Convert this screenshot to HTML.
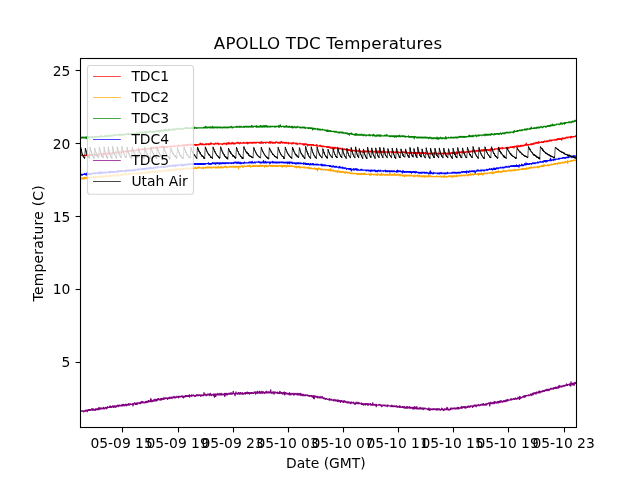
<!DOCTYPE html>
<html lang="en"><head><meta charset="utf-8"><title>APOLLO TDC Temperatures</title>
<style>html,body{margin:0;padding:0;background:#fff;overflow:hidden}svg{display:block;will-change:transform}</style></head>
<body>
<svg width="640" height="480" viewBox="0 0 640 480">
<rect width="640" height="480" fill="#fff"/>
<defs><clipPath id="ax"><rect x="80.5" y="58.5" width="496" height="369"/></clipPath></defs>
<g clip-path="url(#ax)" fill="none" stroke-width="0.7" stroke-linejoin="round">
<path d="M80.5 155.49l.25 0l.25 0l.25-.73l.25 .73l.25 0l.25 0l.25 0l.25 0l.25 0l.25 0l.25 .73l.25-.73l.25 0l.25 0l.25 0l.25 0l.25 0l.25 0l.25 0l.25 0l.25 0l.25 0l.25 0l.25-.73l.25 .73l.25-.73l.25 .73l.25 0l.25 0l.25 0l.25-.73l.25 .73l.25-.73l.25 .73l.25-.73l.25 0l.25 0l.25 0l.25 .73l.25-.73l.25 0l.25 0l.25 .73l.25-.73l.25 0l.25 0l.25 0l.25 0l.25 0l.25 0l.25 0l.25 0l.25 0l.25 0l.25-.73l.25 .73l.25 0l.25 .73l.25-1.46l.25 1.46l.25-.73l.25 .73l.25 0l.25-1.46l.25 .73l.25 0l.25 0l.25 0l.25 0l.25-.73l.25 .73l.25 0l.25 0l.25-.73l.25 0l.25 .73l.25-.73l.25 0l.25 .73l.25-.73l.25 0l.25 0l.25 0l.25 0l.25 0l.25 0l.25 0l.25 0l.25 0l.25 0l.25-.73l.25 .73l.25 0l.25 0l.25-.73l.25 .73l.25 0l.25 0l.25 0l.25 0l.25-.73l.25 0l.25 0l.25 0l.25 .73l.25 0l.25-.73l.25 0l.25 .73l.25-.73l.25 0l.25 0l.25-.73l.25 .73l.25 0l.25 0l.25 .73l.25 0l.25-.73l.25 0l.25 .73l.25-.73l.25 .73l.25-.73l.25 0l.25 0l.25 0l.25-.73l.25 .73l.25 0l.25-.73l.25 .73l.25-.73l.25 0l.25 0l.25 0l.25 .73l.25-.73l.25 .73l.25-.73l.25-.73l.25 .73l.25 0l.25 0l.25 0l.25 0l.25 0l.25 0l.25 0l.25-.73l.25 0l.25 0l.25 .73l.25-.73l.25 .73l.25-.73l.25 0l.25 2.19l.25-2.19l.25 0l.25 0l.25 0l.25 0l.25 0l.25 .73l.25-.73l.25 0l.25 0l.25 0l.25 0l.25 0l.25 0l.25 0l.25-.73l.25 .73l.25 0l.25-.73l.25 0l.25 0l.25 .73l.25 0l.25-.73l.25 .73l.25-.73l.25 0l.25 0l.25 .73l.25 0l.25-.73l.25 0l.25 0l.25 0l.25 0l.25 0l.25 0l.25-.73l.25 .73l.25 0l.25-.73l.25 .73l.25-.73l.25 .73l.25-.73l.25 .73l.25 0l.25-.73l.25 0l.25 .73l.25 0l.25-.73l.25 0l.25 0l.25 0l.25 0l.25 0l.25 0l.25 0l.25 0l.25 .73l.25-.73l.25 0l.25 0l.25-.73l.25 .73l.25 0l.25 0l.25 0l.25 0l.25-.73l.25 .73l.25 0l.25-.73l.25 0l.25 0l.25 0l.25 0l.25 0l.25 0l.25 0l.25 0l.25 0l.25 0l.25 0l.25 0l.25-.73l.25 .73l.25-.73l.25 .73l.25 0l.25-.73l.25 0l.25 .73l.25 0l.25-.73l.25 0l.25 0l.25 0l.25 0l.25 0l.25 .73l.25 0l.25-.73l.25 0l.25 0l.25 0l.25 0l.25 0l.25 0l.25 0l.25 0l.25 0l.25 0l.25 0l.25 0l.25 0l.25-.73l.25 0l.25 .73l.25 0l.25-.73l.25 0l.25 .73l.25-.73l.25 0l.25 0l.25 0l.25-.73l.25 .73l.25 0l.25 0l.25-.73l.25 .73l.25 0l.25-.73l.25 .73l.25 0l.25 0l.25 0l.25-.73l.25 .73l.25-.73l.25 0l.25 0l.25 .73l.25-.73l.25 .73l.25 2.19l.25-2.92l.25 0l.25 0l.25 0l.25 0l.25 0l.25 0l.25 0l.25 0l.25-.73l.25 .73l.25 0l.25 0l.25-.73l.25 .73l.25-.73l.25 .73l.25-.73l.25 .73l.25 0l.25-1.46l.25 .73l.25-.73l.25 1.46l.25 0l.25-.73l.25 .73l.25 0l.25 0l.25-.73l.25 0l.25 0l.25 .73l.25-.73l.25 0l.25 0l.25 0l.25 .73l.25-.73l.25 0l.25 0l.25 .73l.25-.73l.25 0l.25 0l.25 0l.25 0l.25 0l.25 0l.25 0l.25 0l.25 0l.25 0l.25-.73l.25 0l.25 0l.25 .73l.25-.73l.25 0l.25 .73l.25-.73l.25 .73l.25-.73l.25 0l.25 0l.25 0l.25 0l.25 0l.25 0l.25-.73l.25 .73l.25 0l.25 0l.25 0l.25 0l.25 0l.25 0l.25 0l.25 0l.25 0l.25 0l.25 0l.25-.73l.25 .73l.25 0l.25-.73l.25 .73l.25 0l.25 0l.25-.73l.25 0l.25 0l.25 0l.25 0l.25 0l.25 .73l.25-.73l.25 0l.25 .73l.25 0l.25-.73l.25 0l.25 0l.25 0l.25-.73l.25 .73l.25 0l.25 0l.25 0l.25 0l.25-.73l.25 .73l.25 0l.25 0l.25-.73l.25 1.46l.25-1.46l.25 .73l.25 0l.25 0l.25-.73l.25 .73l.25-.73l.25 .73l.25 0l.25 0l.25-.73l.25 0l.25 0l.25 0l.25-.73l.25 1.46l.25 0l.25-.73l.25 0l.25 0l.25 0l.25 0l.25 .73l.25-.73l.25 0l.25 0l.25 0l.25 .73l.25-.73l.25 .73l.25-.73l.25 0l.25 0l.25 0l.25 0l.25 .73l.25-.73l.25 .73l.25-.73l.25 0l.25 .73l.25-.73l.25 0l.25 0l.25 0l.25 0l.25 .73l.25-.73l.25 0l.25 0l.25 0l.25 0l.25-.73l.25 .73l.25 0l.25-.73l.25 0l.25-.73l.25 .73l.25 .73l.25 0l.25 0l.25 0l.25-.73l.25 .73l.25 0l.25-.73l.25 .73l.25 0l.25 0l.25 0l.25 0l.25 0l.25 0l.25 0l.25-.73l.25 0l.25 .73l.25 0l.25-.73l.25 .73l.25-.73l.25 0l.25 0l.25 0l.25 0l.25 .73l.25-.73l.25 .73l.25-.73l.25 0l.25 0l.25 .73l.25-.73l.25 .73l.25-.73l.25-.73l.25 .73l.25-.73l.25 .73l.25-.73l.25 .73l.25 0l.25 0l.25 0l.25 0l.25 0l.25 0l.25 0l.25 0l.25 .73l.25 0l.25-.73l.25 0l.25 0l.25-.73l.25 0l.25 .73l.25 0l.25 0l.25 0l.25 0l.25-.73l.25 .73l.25 0l.25-.73l.25 0l.25 0l.25 .73l.25 .73l.25-.73l.25 0l.25 0l.25 0l.25 0l.25 0l.25 0l.25 0l.25 0l.25 0l.25 0l.25 0l.25 0l.25 .73l.25 0l.25-.73l.25 0l.25 0l.25 0l.25-.73l.25 0l.25 0l.25 .73l.25 0l.25 0l.25 0l.25 0l.25 0l.25-.73l.25 0l.25 1.46l.25-.73l.25-.73l.25 .73l.25-.73l.25 .73l.25-.73l.25 .73l.25 0l.25-1.46l.25 .73l.25 .73l.25-.73l.25 0l.25 0l.25 .73l.25 0l.25 0l.25-.73l.25 0l.25 0l.25 .73l.25-.73l.25-.73l.25 .73l.25 0l.25 .73l.25 0l.25-.73l.25 .73l.25-.73l.25 0l.25 .73l.25-.73l.25 0l.25 .73l.25-.73l.25 0l.25 0l.25 0l.25 0l.25 0l.25-.73l.25 .73l.25-.73l.25 .73l.25 0l.25 0l.25-.73l.25 .73l.25 0l.25 0l.25 0l.25 .73l.25-.73l.25-.73l.25 .73l.25 0l.25 0l.25 0l.25 0l.25 0l.25 0l.25 0l.25 0l.25 0l.25 0l.25-.73l.25 .73l.25 0l.25-.73l.25 .73l.25 0l.25 0l.25 0l.25 0l.25 0l.25 0l.25 0l.25-.73l.25 .73l.25 0l.25-.73l.25 0l.25 .73l.25 .73l.25-1.46l.25 0l.25 .73l.25 0l.25 0l.25 0l.25 0l.25-.73l.25 0l.25 0l.25 0l.25 .73l.25 0l.25 0l.25-.73l.25 0l.25 .73l.25 0l.25-.73l.25 .73l.25 0l.25-.73l.25 0l.25 0l.25 .73l.25-.73l.25 0l.25 0l.25 0l.25 .73l.25-.73l.25 0l.25 0l.25 .73l.25-.73l.25 0l.25 0l.25 0l.25 0l.25 0l.25 0l.25 0l.25 0l.25 0l.25 .73l.25-.73l.25 .73l.25 0l.25-.73l.25 .73l.25-.73l.25 .73l.25-.73l.25 0l.25-.73l.25 1.46l.25-.73l.25 0l.25 0l.25 .73l.25-.73l.25 0l.25 .73l.25-.73l.25 0l.25 0l.25 0l.25 0l.25 0l.25 0l.25 .73l.25-.73l.25 .73l.25-.73l.25 0l.25 0l.25 0l.25 0l.25 0l.25 0l.25 0l.25 0l.25 0l.25 .73l.25-.73l.25 0l.25 0l.25-.73l.25 1.46l.25-.73l.25 .73l.25-.73l.25-.73l.25 .73l.25 0l.25 0l.25 .73l.25-.73l.25 .73l.25-.73l.25 .73l.25-.73l.25 .73l.25-.73l.25 0l.25 0l.25 .73l.25 0l.25-.73l.25 .73l.25 0l.25-.73l.25-.73l.25 .73l.25 0l.25 0l.25 0l.25 0l.25 0l.25 .73l.25-.73l.25 0l.25 0l.25 .73l.25 0l.25-.73l.25 .73l.25-.73l.25 .73l.25 0l.25-.73l.25 .73l.25-1.46l.25 .73l.25 0l.25-.73l.25 .73l.25 0l.25 .73l.25 0l.25-.73l.25 0l.25 0l.25 0l.25 0l.25 .73l.25 0l.25-.73l.25 .73l.25 0l.25-.73l.25 .73l.25 0l.25-.73l.25 .73l.25 0l.25 0l.25 0l.25 0l.25 0l.25-.73l.25 0l.25 1.46l.25-.73l.25 0l.25 0l.25 0l.25 0l.25 0l.25 0l.25 0l.25 0l.25 0l.25 .73l.25-.73l.25 .73l.25-.73l.25 0l.25 0l.25 0l.25 .73l.25-1.46l.25 .73l.25 0l.25 0l.25 0l.25 0l.25 0l.25 0l.25 0l.25 .73l.25-.73l.25 .73l.25-.73l.25 .73l.25-.73l.25 0l.25 1.46l.25-.73l.25 0l.25 0l.25 0l.25 0l.25 0l.25 0l.25 0l.25 0l.25-.73l.25 0l.25 .73l.25 0l.25 0l.25 0l.25 0l.25 0l.25 0l.25 0l.25 0l.25 0l.25 .73l.25-.73l.25 0l.25 0l.25 0l.25 1.46l.25-.73l.25-.73l.25 .73l.25-.73l.25 0l.25 .73l.25 0l.25 0l.25-.73l.25 0l.25 .73l.25 0l.25 0l.25 1.46l.25-1.46l.25 .73l.25-.73l.25 0l.25 0l.25 .73l.25-.73l.25 .73l.25-.73l.25 0l.25 0l.25 0l.25 0l.25 .73l.25-.73l.25 0l.25 .73l.25-.73l.25 0l.25 0l.25 .73l.25 0l.25 0l.25-.73l.25 .73l.25 0l.25 0l.25 0l.25 0l.25 0l.25 0l.25 0l.25 0l.25 0l.25 .73l.25-.73l.25-.73l.25 .73l.25 0l.25 .73l.25 0l.25 0l.25 0l.25 0l.25 0l.25 0l.25 0l.25 0l.25-.73l.25 0l.25 .73l.25-.73l.25 .73l.25 0l.25 .73l.25-.73l.25 0l.25 0l.25 .73l.25-.73l.25 0l.25 0l.25 .73l.25-.73l.25 0l.25 .73l.25 0l.25 0l.25 0l.25 0l.25 0l.25 0l.25 0l.25 0l.25 0l.25 0l.25 0l.25 .73l.25-.73l.25 .73l.25-.73l.25 0l.25 .73l.25 0l.25-.73l.25 .73l.25 0l.25 0l.25-.73l.25 .73l.25 .73l.25-.73l.25 0l.25 0l.25 .73l.25-.73l.25 0l.25 0l.25 0l.25 .73l.25-.73l.25 0l.25 .73l.25 0l.25-.73l.25 .73l.25 0l.25 .73l.25-1.46l.25 0l.25 .73l.25-.73l.25 .73l.25 0l.25 0l.25 0l.25 0l.25 0l.25-.73l.25 1.46l.25-.73l.25 0l.25 0l.25 0l.25 .73l.25-.73l.25 .73l.25 0l.25 0l.25-.73l.25 0l.25 .73l.25 0l.25 0l.25 0l.25 0l.25 0l.25 .73l.25-1.46l.25 .73l.25 0l.25 .73l.25 0l.25 0l.25-.73l.25 0l.25 0l.25 .73l.25-.73l.25 0l.25 .73l.25 0l.25 0l.25 0l.25 0l.25 0l.25 .73l.25-.73l.25 0l.25 0l.25 0l.25 0l.25 0l.25 .73l.25-.73l.25 .73l.25 0l.25-.73l.25 .73l.25 0l.25 0l.25 .73l.25-.73l.25-.73l.25 1.46l.25 0l.25-.73l.25 0l.25 .73l.25-.73l.25 .73l.25 0l.25-.73l.25 0l.25 0l.25 0l.25 0l.25 0l.25 .73l.25 0l.25-.73l.25 .73l.25 0l.25 0l.25 0l.25 0l.25-.73l.25 .73l.25 0l.25 0l.25 0l.25 0l.25-.73l.25 .73l.25-.73l.25 .73l.25 0l.25 0l.25-.73l.25 .73l.25 .73l.25 0l.25-.73l.25 .73l.25 0l.25 0l.25 0l.25-.73l.25 0l.25 0l.25 0l.25 1.46l.25-1.46l.25 .73l.25 0l.25-.73l.25 0l.25 .73l.25-.73l.25 .73l.25-.73l.25 .73l.25-.73l.25 .73l.25-.73l.25 0l.25 0l.25 .73l.25-.73l.25 0l.25 0l.25 0l.25 0l.25 0l.25 0l.25 0l.25 0l.25 .73l.25 0l.25 0l.25-.73l.25 0l.25 .73l.25-.73l.25 0l.25 .73l.25 0l.25 0l.25-.73l.25 0l.25 .73l.25 0l.25 0l.25 0l.25 0l.25-.73l.25 .73l.25 0l.25 0l.25 0l.25 0l.25 0l.25-.73l.25 0l.25 .73l.25 0l.25 0l.25-.73l.25 0l.25 1.46l.25-1.46l.25 .73l.25 0l.25-.73l.25 1.46l.25-.73l.25 0l.25 0l.25 0l.25 0l.25 0l.25-.73l.25 .73l.25 0l.25 0l.25 .73l.25-1.46l.25 .73l.25 0l.25 0l.25 0l.25 .73l.25-1.46l.25 .73l.25 0l.25 0l.25-.73l.25 .73l.25 .73l.25-.73l.25 0l.25 0l.25 0l.25 0l.25 0l.25 0l.25 0l.25 .73l.25-.73l.25 0l.25 .73l.25-.73l.25 0l.25 0l.25 0l.25 .73l.25-.73l.25 0l.25 0l.25 0l.25 0l.25 0l.25 0l.25 0l.25 0l.25 0l.25 0l.25 .73l.25-.73l.25 0l.25 0l.25 .73l.25-.73l.25 0l.25 0l.25 .73l.25 0l.25 0l.25 0l.25-.73l.25 0l.25 .73l.25 0l.25-.73l.25 0l.25 0l.25 0l.25 .73l.25-.73l.25 0l.25 .73l.25 0l.25 0l.25-.73l.25 0l.25 .73l.25 0l.25 0l.25 0l.25 0l.25 0l.25 0l.25 0l.25-.73l.25 0l.25 0l.25 .73l.25 0l.25 0l.25-.73l.25 .73l.25-.73l.25 .73l.25-.73l.25 .73l.25 0l.25-.73l.25 .73l.25 0l.25 0l.25 0l.25 0l.25-.73l.25 .73l.25-.73l.25 0l.25 .73l.25 0l.25 0l.25 0l.25 0l.25 0l.25 0l.25 0l.25 .73l.25 0l.25 .73l.25-1.46l.25 0l.25 .73l.25-.73l.25 0l.25 0l.25 .73l.25-.73l.25 .73l.25-.73l.25 0l.25 0l.25 0l.25 0l.25 .73l.25-.73l.25 0l.25 0l.25 .73l.25-.73l.25 .73l.25-.73l.25 .73l.25-.73l.25 0l.25 0l.25 0l.25 0l.25 1.46l.25-.73l.25-.73l.25 .73l.25 0l.25-.73l.25 .73l.25-.73l.25 0l.25 0l.25 .73l.25-.73l.25 0l.25 .73l.25 0l.25 0l.25 0l.25-.73l.25 0l.25 1.46l.25-.73l.25 0l.25 0l.25-.73l.25 0l.25 .73l.25-.73l.25 .73l.25-.73l.25 .73l.25 0l.25 0l.25 0l.25 0l.25-.73l.25 0l.25 0l.25 0l.25 1.46l.25-.73l.25 0l.25 0l.25 0l.25 0l.25 0l.25 0l.25 0l.25 0l.25 .73l.25-.73l.25 0l.25 0l.25 0l.25 0l.25 .73l.25-.73l.25 0l.25 0l.25 0l.25 0l.25 0l.25 .73l.25-.73l.25 0l.25 0l.25 .73l.25 .73l.25-.73l.25-.73l.25 0l.25-.73l.25 .73l.25 .73l.25-1.46l.25 1.46l.25-.73l.25 .73l.25-.73l.25 0l.25 0l.25 0l.25 0l.25 0l.25 0l.25 0l.25 0l.25 0l.25 .73l.25-.73l.25 .73l.25-.73l.25 0l.25 0l.25 0l.25 0l.25 0l.25 0l.25 0l.25 0l.25 0l.25 .73l.25-.73l.25 0l.25 0l.25 0l.25 0l.25 0l.25 .73l.25-.73l.25 0l.25 0l.25 0l.25 0l.25 0l.25 .73l.25-1.46l.25 1.46l.25 0l.25-.73l.25 0l.25 .73l.25-.73l.25 0l.25 0l.25 0l.25 0l.25 .73l.25-.73l.25 .73l.25-.73l.25 0l.25 .73l.25-.73l.25 0l.25 0l.25 0l.25 0l.25 0l.25-.73l.25 .73l.25 0l.25 0l.25 0l.25-.73l.25 .73l.25 0l.25-.73l.25 .73l.25-.73l.25 .73l.25 0l.25-.73l.25 .73l.25 0l.25-.73l.25 0l.25 0l.25 0l.25 1.46l.25-2.19l.25 0l.25 1.46l.25-.73l.25 0l.25 .73l.25-.73l.25 0l.25 0l.25 0l.25 0l.25 0l.25 0l.25 0l.25-.73l.25 .73l.25-.73l.25 0l.25 .73l.25 0l.25-.73l.25 0l.25 0l.25 0l.25 .73l.25 0l.25 0l.25-.73l.25 .73l.25-.73l.25 .73l.25 .73l.25-1.46l.25 .73l.25-.73l.25 0l.25 0l.25 .73l.25-.73l.25 0l.25 0l.25 0l.25 0l.25 0l.25 0l.25 0l.25 0l.25 0l.25 0l.25 0l.25 0l.25 0l.25 0l.25 0l.25-.73l.25 .73l.25 0l.25-.73l.25 .73l.25-.73l.25 0l.25 0l.25 0l.25 .73l.25-.73l.25 .73l.25-1.46l.25 1.46l.25-1.46l.25 .73l.25 0l.25 0l.25 0l.25 0l.25-.73l.25 1.46l.25-.73l.25 .73l.25 0l.25-.73l.25 0l.25-.73l.25 .73l.25-.73l.25 0l.25 .73l.25-.73l.25 0l.25 .73l.25-.73l.25 0l.25 0l.25 0l.25 0l.25 .73l.25-.73l.25 0l.25 0l.25 0l.25 0l.25 0l.25 .73l.25-1.46l.25 1.46l.25-.73l.25 0l.25 0l.25-.73l.25 1.46l.25-.73l.25-.73l.25 .73l.25-.73l.25 .73l.25 0l.25 .73l.25-.73l.25-.73l.25 0l.25 0l.25 .73l.25 0l.25-.73l.25 0l.25 .73l.25-.73l.25 0l.25 0l.25 .73l.25-.73l.25 0l.25 .73l.25-.73l.25 .73l.25-.73l.25 0l.25 1.46l.25-2.19l.25 .73l.25 0l.25 0l.25 0l.25 0l.25-.73l.25 0l.25 .73l.25 0l.25 0l.25 0l.25 0l.25 0l.25 0l.25 0l.25-.73l.25 .73l.25-.73l.25 0l.25 0l.25 0l.25 0l.25 0l.25 0l.25 0l.25 0l.25 0l.25 0l.25 0l.25 .73l.25-.73l.25-1.46l.25 1.46l.25 0l.25-.73l.25 .73l.25 0l.25-.73l.25 0l.25 0l.25 0l.25 .73l.25-.73l.25 0l.25 0l.25 0l.25-.73l.25 .73l.25 .73l.25-.73l.25 0l.25 0l.25 0l.25 0l.25 0l.25 0l.25 0l.25 0l.25 0l.25 0l.25 0l.25 0l.25-.73l.25 .73l.25 0l.25-.73l.25 0l.25 0l.25 .73l.25 0l.25-.73l.25 0l.25 0l.25 .73l.25-.73l.25 0l.25 0l.25 0l.25 0l.25-.73l.25 .73l.25 0l.25 0l.25 0l.25 0l.25-.73l.25 0l.25 .73l.25 0l.25-.73l.25 0l.25 .73l.25-.73l.25 1.46l.25-1.46l.25 0l.25 0l.25-.73l.25 .73l.25 0l.25 0l.25 0l.25 0l.25-.73l.25 .73l.25 0l.25-.73l.25 0l.25 .73l.25-1.46l.25 .73l.25 .73l.25 0l.25 0l.25-.73l.25 .73l.25-.73l.25 0l.25 .73l.25-1.46l.25 .73l.25 0l.25 0l.25-.73l.25 .73l.25 0l.25 0l.25-.73l.25 0l.25 0l.25 .73l.25-.73l.25 0l.25 0l.25 0l.25 0l.25 0l.25-.73l.25 0l.25 0l.25 .73l.25 0l.25-2.19l.25 1.46l.25 0l.25 0l.25 .73l.25-.73l.25 0l.25 0l.25 .73l.25-.73l.25 0l.25 0l.25 0l.25 0l.25 0l.25 0l.25 0l.25 0l.25-.73l.25 0l.25 .73l.25-.73l.25 .73l.25-.73l.25 0l.25 0l.25 0l.25 .73l.25-1.46l.25 .73l.25 0l.25 0l.25-.73l.25 .73l.25 0l.25-.73l.25 0l.25 0l.25-.73l.25 .73l.25 0l.25-.73l.25 .73l.25 0l.25 0l.25-.73l.25 .73l.25 0l.25 0l.25-.73l.25-.73l.25 1.46l.25-.73l.25 0l.25 0l.25 0l.25 0l.25 0l.25 0l.25 0l.25 0l.25-.73l.25 0l.25 .73l.25 0l.25 0l.25 0l.25-.73l.25 .73l.25-.73l.25 .73l.25-.73l.25 0l.25 0l.25-.73l.25 .73l.25 0l.25 0l.25 0l.25 0l.25 0l.25-.73l.25 .73l.25-.73l.25 0l.25 .73l.25-.73l.25 .73l.25-.73l.25 0l.25 0l.25 0l.25-.73l.25 .73l.25 0l.25-.73l.25 .73l.25 0l.25-.73l.25 .73l.25-.73l.25 .73l.25 0l.25-.73l.25 0l.25 0l.25 0l.25 0l.25 0l.25 0l.25 0l.25 0l.25 0l.25 0l.25-.73l.25 0l.25 0l.25 .73l.25 0l.25 0l.25 0l.25-.73l.25 0l.25 .73l.25-.73l.25-.73l.25 .73l.25 0l.25-.73l.25 .73l.25-.73l.25 0l.25 .73l.25-.73l.25 0l.25 .73l.25 0l.25-.73l.25 0l.25 0l.25 0l.25 0l.25 1.46l.25-1.46l.25-.73l.25 .73l.25 0l.25-.73l.25 .73l.25 0l.25 0l.25-.73l.25 0l.25 .73l.25 0l.25 0l.25-.73l.25 0l.25 0l.25 0l.25-.73l.25 .73l.25 0l.25-.73l.25 .73l.25-.73l.25 .73l.25 0l.25-.73l.25 0l.25 0l.25 0l.25 0l.25 0l.25 0l.25 0l.25-.73l.25 1.46l.25 0l.25-1.46l.25 0l.25 .73l.25 0l.25-.73l.25 .73l.25 0l.25 0l.25 0l.25-.73l.25 0l.25 0l.25 0l.25 0l.25 0l.25 0l.25 0l.25 0l.25-.73l.25 .73l.25-.73l.25 0l.25 0" stroke="#ff0000" stroke-width="1.25"/>
<path d="M80.5 178.12l.25 .73l.25-.73l.25 .73l.25-.73l.25 0l.25 0l.25 .73l.25 0l.25-.73l.25 0l.25 0l.25 .73l.25 0l.25-1.46l.25 .73l.25 0l.25-.73l.25 1.46l.25-.73l.25-.73l.25 .73l.25 0l.25-.73l.25 .73l.25 0l.25 0l.25-.73l.25 .73l.25 0l.25-.73l.25 .73l.25-.73l.25 .73l.25 0l.25 0l.25-.73l.25 .73l.25-.73l.25 0l.25 0l.25 0l.25 0l.25 .73l.25-.73l.25 0l.25 0l.25 0l.25 0l.25-.73l.25 .73l.25 0l.25-.73l.25 .73l.25 0l.25-.73l.25 .73l.25 0l.25 0l.25 0l.25 0l.25 0l.25-.73l.25 .73l.25-.73l.25 0l.25 0l.25 .73l.25-.73l.25 0l.25 0l.25 0l.25 0l.25 0l.25 .73l.25-.73l.25 0l.25 0l.25-.73l.25 .73l.25 .73l.25 0l.25-.73l.25 0l.25 0l.25 0l.25 .73l.25 0l.25-.73l.25-.73l.25 .73l.25-.73l.25 .73l.25 0l.25 0l.25 0l.25 0l.25-.73l.25 .73l.25-.73l.25 .73l.25-.73l.25 0l.25 .73l.25-.73l.25 0l.25 0l.25 0l.25 .73l.25-.73l.25 .73l.25-.73l.25 0l.25 0l.25 0l.25 .73l.25-.73l.25 0l.25-.73l.25 1.46l.25-1.46l.25 .73l.25 0l.25 0l.25 0l.25 0l.25 0l.25-.73l.25 0l.25 .73l.25 0l.25-.73l.25 0l.25 .73l.25-.73l.25 0l.25 0l.25 0l.25 .73l.25-.73l.25 0l.25 0l.25 0l.25 0l.25 .73l.25-.73l.25 0l.25 .73l.25-2.19l.25 .73l.25 1.46l.25-.73l.25 0l.25 0l.25 0l.25 0l.25 0l.25 0l.25 0l.25-.73l.25 0l.25 .73l.25-.73l.25 .73l.25-.73l.25 .73l.25-.73l.25 .73l.25-.73l.25 0l.25 0l.25 .73l.25 0l.25-.73l.25-.73l.25 .73l.25-.73l.25 .73l.25-.73l.25 .73l.25 0l.25 0l.25 .73l.25-.73l.25-.73l.25 .73l.25 0l.25 0l.25 0l.25 0l.25 0l.25-.73l.25 .73l.25 0l.25-.73l.25 .73l.25-.73l.25 0l.25 .73l.25-.73l.25 0l.25 0l.25 0l.25 0l.25 0l.25 0l.25 0l.25 0l.25 0l.25 0l.25 0l.25 0l.25 0l.25 0l.25 0l.25 0l.25 0l.25 0l.25 0l.25 0l.25-.73l.25 0l.25 .73l.25 0l.25-.73l.25 .73l.25 0l.25-.73l.25 .73l.25-.73l.25 0l.25 .73l.25-.73l.25 0l.25 0l.25 0l.25 1.46l.25-1.46l.25 0l.25 0l.25 0l.25-.73l.25 .73l.25 0l.25-.73l.25 1.46l.25 0l.25 0l.25-.73l.25 0l.25 0l.25 0l.25 0l.25 0l.25 0l.25-.73l.25 0l.25 .73l.25 0l.25-.73l.25 .73l.25-.73l.25 .73l.25 0l.25-.73l.25 .73l.25-.73l.25 0l.25 0l.25-.73l.25 .73l.25 .73l.25-1.46l.25 1.46l.25-2.19l.25 1.46l.25-.73l.25 .73l.25 0l.25 0l.25 0l.25-.73l.25 .73l.25 0l.25 0l.25 0l.25 0l.25 0l.25 0l.25-.73l.25 .73l.25-.73l.25 0l.25 0l.25 0l.25 0l.25 .73l.25-.73l.25 .73l.25-.73l.25 0l.25-.73l.25 .73l.25 0l.25 0l.25 .73l.25-.73l.25 0l.25 0l.25-.73l.25 .73l.25 0l.25 0l.25 0l.25 0l.25 0l.25 0l.25-.73l.25 .73l.25-.73l.25 0l.25 0l.25 .73l.25 0l.25 0l.25-.73l.25 0l.25 0l.25 0l.25 0l.25 0l.25 0l.25 0l.25-.73l.25 .73l.25 0l.25 0l.25-.73l.25 .73l.25 0l.25 0l.25-.73l.25 0l.25 .73l.25-.73l.25 .73l.25-.73l.25 .73l.25-.73l.25 .73l.25 0l.25-1.46l.25 1.46l.25 0l.25-.73l.25 0l.25 .73l.25-.73l.25 0l.25-.73l.25 .73l.25 0l.25 0l.25 0l.25 0l.25-.73l.25 .73l.25 0l.25-.73l.25 0l.25 .73l.25-.73l.25 .73l.25 0l.25 0l.25-.73l.25 .73l.25 0l.25-.73l.25 .73l.25-.73l.25 .73l.25-.73l.25-.73l.25 1.46l.25 0l.25-.73l.25 0l.25 0l.25 0l.25 0l.25 0l.25 0l.25 0l.25 .73l.25-1.46l.25 .73l.25 0l.25 0l.25-.73l.25 .73l.25-.73l.25 .73l.25 0l.25 0l.25 0l.25-.73l.25 .73l.25 0l.25-.73l.25 .73l.25-.73l.25 .73l.25-.73l.25 0l.25 0l.25 0l.25 0l.25 0l.25 0l.25 0l.25 0l.25 0l.25 0l.25-.73l.25 .73l.25 0l.25-.73l.25 .73l.25 .73l.25-.73l.25 0l.25 0l.25 0l.25 0l.25-.73l.25 .73l.25 0l.25 0l.25 0l.25-.73l.25 .73l.25-.73l.25 .73l.25 .73l.25-.73l.25 0l.25 0l.25-.73l.25 .73l.25 0l.25 0l.25-.73l.25 .73l.25-.73l.25 0l.25 0l.25 .73l.25 0l.25-.73l.25 0l.25-.73l.25 .73l.25 0l.25 .73l.25 0l.25 0l.25-.73l.25 0l.25-.73l.25 .73l.25 0l.25-.73l.25 .73l.25 0l.25 0l.25-.73l.25 .73l.25 0l.25 0l.25 0l.25 0l.25 0l.25 0l.25 0l.25 .73l.25-.73l.25 0l.25 0l.25 0l.25-.73l.25 0l.25 1.46l.25-.73l.25 0l.25 0l.25 0l.25 0l.25 0l.25-.73l.25 .73l.25 0l.25 0l.25-.73l.25 0l.25 .73l.25-.73l.25 .73l.25 0l.25-.73l.25 .73l.25-.73l.25 .73l.25-.73l.25 0l.25 0l.25 0l.25 .73l.25-.73l.25 .73l.25-.73l.25 .73l.25-.73l.25 0l.25 .73l.25 0l.25-.73l.25 .73l.25 0l.25 0l.25 0l.25-.73l.25 0l.25 0l.25 0l.25 0l.25 0l.25 0l.25 .73l.25-.73l.25 .73l.25-.73l.25 .73l.25-.73l.25 .73l.25-.73l.25 0l.25 .73l.25-.73l.25 0l.25 0l.25-.73l.25 1.46l.25-.73l.25 0l.25 .73l.25-.73l.25 0l.25 0l.25 0l.25 0l.25 .73l.25-.73l.25-.73l.25 .73l.25 0l.25 .73l.25 0l.25-.73l.25 .73l.25 0l.25-.73l.25 0l.25 0l.25 0l.25-.73l.25 .73l.25 0l.25 0l.25-.73l.25 .73l.25-.73l.25 0l.25 0l.25 .73l.25 .73l.25-.73l.25 0l.25 0l.25 0l.25 0l.25 0l.25 0l.25 0l.25 0l.25 0l.25-.73l.25 0l.25 .73l.25-.73l.25 0l.25 0l.25 0l.25 .73l.25 0l.25 0l.25-.73l.25 0l.25 0l.25 .73l.25-.73l.25 .73l.25 0l.25-.73l.25 0l.25 .73l.25-.73l.25 .73l.25 0l.25-.73l.25 .73l.25-.73l.25 0l.25 .73l.25 0l.25-.73l.25 0l.25 0l.25 0l.25 .73l.25-.73l.25 0l.25 2.19l.25-2.19l.25 0l.25 0l.25 0l.25 0l.25 .73l.25 0l.25-.73l.25 0l.25 0l.25 0l.25 0l.25 0l.25-.73l.25 .73l.25 .73l.25-.73l.25 0l.25 .73l.25 0l.25-.73l.25 0l.25-.73l.25 .73l.25 0l.25 0l.25 0l.25 0l.25 0l.25 0l.25 0l.25 0l.25 0l.25 0l.25-.73l.25 0l.25 .73l.25-.73l.25 .73l.25 0l.25-.73l.25 .73l.25 0l.25 0l.25 0l.25-1.46l.25 1.46l.25 0l.25 .73l.25-.73l.25 0l.25 0l.25 0l.25 0l.25 0l.25-.73l.25 .73l.25-.73l.25 .73l.25 0l.25-.73l.25 0l.25 .73l.25-.73l.25 .73l.25 0l.25-.73l.25 .73l.25-.73l.25 0l.25 0l.25 0l.25 0l.25 .73l.25 0l.25-.73l.25 0l.25 .73l.25 0l.25-.73l.25 .73l.25 0l.25-.73l.25 .73l.25-.73l.25 .73l.25-.73l.25 0l.25 0l.25-.73l.25 .73l.25 .73l.25-.73l.25 .73l.25-.73l.25 0l.25 0l.25 0l.25 0l.25 0l.25 0l.25 .73l.25-.73l.25 0l.25 1.46l.25-.73l.25-.73l.25 .73l.25-.73l.25 0l.25 0l.25 0l.25 .73l.25 0l.25 0l.25-.73l.25 0l.25 .73l.25 0l.25 0l.25-.73l.25 0l.25 0l.25-.73l.25 .73l.25 0l.25 0l.25 0l.25 .73l.25-.73l.25 0l.25 0l.25 .73l.25 0l.25-.73l.25 .73l.25-.73l.25 0l.25 0l.25 0l.25 0l.25 .73l.25-.73l.25 0l.25 .73l.25 0l.25-.73l.25 .73l.25 0l.25 0l.25-.73l.25 0l.25 0l.25 0l.25 .73l.25 0l.25-.73l.25 0l.25 .73l.25 0l.25 0l.25-.73l.25 0l.25 0l.25 0l.25 0l.25 0l.25 0l.25 .73l.25 0l.25-.73l.25 .73l.25 0l.25-.73l.25 1.46l.25-.73l.25-.73l.25 0l.25 .73l.25-.73l.25 .73l.25-.73l.25 .73l.25-.73l.25 0l.25 .73l.25 0l.25-.73l.25 .73l.25 .73l.25-1.46l.25 .73l.25 0l.25-.73l.25 0l.25 .73l.25 0l.25 0l.25 0l.25-.73l.25 0l.25 .73l.25 0l.25 0l.25-.73l.25 .73l.25-.73l.25 .73l.25 0l.25 0l.25 0l.25 0l.25-.73l.25 .73l.25 0l.25 0l.25 0l.25 0l.25 0l.25 0l.25 0l.25 0l.25 0l.25 .73l.25-.73l.25 0l.25 .73l.25 0l.25 0l.25-.73l.25 .73l.25 .73l.25-1.46l.25 .73l.25 0l.25-.73l.25 .73l.25 0l.25-.73l.25 .73l.25 0l.25 0l.25-.73l.25 1.46l.25-1.46l.25 .73l.25 0l.25 .73l.25-.73l.25 0l.25 0l.25 0l.25 0l.25 0l.25 0l.25 0l.25 .73l.25 0l.25-.73l.25 0l.25 0l.25 0l.25 0l.25 .73l.25 0l.25-.73l.25 .73l.25 0l.25 0l.25 0l.25 0l.25 0l.25 0l.25 0l.25-.73l.25 .73l.25 0l.25 0l.25 .73l.25-.73l.25-.73l.25 .73l.25 0l.25 .73l.25-.73l.25 .73l.25-.73l.25 0l.25 0l.25 .73l.25-.73l.25 .73l.25 0l.25 0l.25 0l.25 0l.25 0l.25 0l.25 0l.25 0l.25 0l.25 0l.25-.73l.25 .73l.25 0l.25 .73l.25-.73l.25 .73l.25-.73l.25 .73l.25-.73l.25 0l.25 0l.25 0l.25 .73l.25 1.46l.25-2.19l.25 0l.25 .73l.25-.73l.25-.73l.25 .73l.25 0l.25 0l.25 0l.25 .73l.25 0l.25 0l.25 0l.25-.73l.25 .73l.25 .73l.25-.73l.25 0l.25 0l.25 0l.25 0l.25 0l.25 .73l.25-.73l.25 0l.25 0l.25 0l.25 0l.25 0l.25 0l.25 .73l.25 0l.25-.73l.25 0l.25 0l.25 .73l.25 0l.25 0l.25 0l.25 0l.25 0l.25-.73l.25 .73l.25 0l.25 0l.25 .73l.25-.73l.25-.73l.25 .73l.25 0l.25 0l.25 .73l.25-2.19l.25 2.19l.25 0l.25-.73l.25 .73l.25-.73l.25 .73l.25 0l.25-.73l.25 0l.25 .73l.25 0l.25-.73l.25 1.46l.25-.73l.25 0l.25 0l.25 0l.25 0l.25 .73l.25-.73l.25 .73l.25 0l.25 0l.25 0l.25 0l.25-.73l.25 1.46l.25-1.46l.25 .73l.25 0l.25-.73l.25 0l.25 .73l.25 .73l.25-.73l.25 0l.25 .73l.25-.73l.25 0l.25 .73l.25-.73l.25 0l.25 0l.25 .73l.25 0l.25 0l.25-.73l.25 .73l.25 0l.25 0l.25-.73l.25 0l.25 .73l.25 0l.25 0l.25 .73l.25 0l.25-.73l.25 .73l.25 0l.25-1.46l.25 .73l.25 0l.25 0l.25 0l.25 0l.25 .73l.25 0l.25-.73l.25 0l.25 .73l.25-.73l.25 0l.25 .73l.25 0l.25 0l.25 0l.25 0l.25 .73l.25 0l.25-.73l.25 .73l.25-.73l.25 0l.25 0l.25 0l.25 .73l.25 0l.25 0l.25 0l.25 0l.25 0l.25-.73l.25 .73l.25 0l.25 0l.25 0l.25 0l.25 0l.25 0l.25 0l.25 0l.25 0l.25 0l.25 .73l.25-.73l.25 0l.25 .73l.25-.73l.25 0l.25 .73l.25-.73l.25 .73l.25-.73l.25 .73l.25 0l.25-.73l.25 0l.25 0l.25 .73l.25 0l.25-.73l.25 0l.25 .73l.25 0l.25-.73l.25 .73l.25 0l.25-.73l.25 0l.25 0l.25 .73l.25-1.46l.25 .73l.25 .73l.25 0l.25 0l.25-.73l.25 .73l.25-.73l.25 .73l.25 0l.25 0l.25 0l.25 0l.25 0l.25 0l.25 0l.25 0l.25 0l.25 0l.25 0l.25-.73l.25 .73l.25 0l.25 .73l.25-.73l.25 0l.25-.73l.25 .73l.25 .73l.25-.73l.25-.73l.25 .73l.25 0l.25 0l.25 0l.25 0l.25 0l.25 0l.25 0l.25 0l.25 .73l.25-.73l.25 0l.25 0l.25 0l.25 0l.25 0l.25 0l.25 .73l.25-.73l.25 0l.25 0l.25 .73l.25 0l.25-.73l.25-.73l.25 .73l.25 0l.25 0l.25 0l.25 0l.25 .73l.25 0l.25 0l.25 0l.25-.73l.25 0l.25 0l.25 .73l.25 0l.25-2.19l.25 1.46l.25 .73l.25 0l.25-.73l.25 0l.25 0l.25 0l.25 0l.25 0l.25 .73l.25 0l.25 0l.25 0l.25-.73l.25 .73l.25-.73l.25 0l.25 .73l.25 0l.25-.73l.25 .73l.25-.73l.25 .73l.25-.73l.25 .73l.25 0l.25 0l.25-.73l.25 .73l.25 0l.25 0l.25 0l.25-2.92l.25 2.19l.25 0l.25 .73l.25 0l.25 0l.25 0l.25 0l.25-.73l.25 .73l.25-.73l.25 .73l.25-.73l.25 .73l.25 0l.25 0l.25-.73l.25 .73l.25 0l.25-1.46l.25 1.46l.25 0l.25-.73l.25 0l.25 .73l.25 0l.25-.73l.25 .73l.25 0l.25 0l.25-.73l.25 .73l.25 0l.25 0l.25-.73l.25 .73l.25 0l.25-.73l.25 .73l.25 0l.25-.73l.25 1.46l.25-.73l.25 0l.25 0l.25-.73l.25 .73l.25 0l.25 0l.25 0l.25 0l.25 .73l.25-.73l.25 0l.25 0l.25 .73l.25-.73l.25 0l.25 0l.25 1.46l.25-.73l.25-.73l.25 .73l.25 0l.25-.73l.25 0l.25 0l.25 .73l.25 0l.25 0l.25-.73l.25 0l.25 .73l.25 0l.25 0l.25-.73l.25 .73l.25 0l.25-.73l.25 .73l.25 0l.25 0l.25-.73l.25 .73l.25 0l.25-.73l.25 0l.25 .73l.25 0l.25 0l.25 0l.25 0l.25 0l.25 0l.25 0l.25 0l.25 .73l.25-.73l.25-.73l.25 .73l.25 .73l.25-.73l.25 0l.25 0l.25 0l.25 0l.25 0l.25 0l.25 0l.25 0l.25-.73l.25 0l.25 .73l.25 .73l.25-.73l.25 .73l.25-.73l.25 0l.25-.73l.25 .73l.25 0l.25 0l.25 .73l.25-.73l.25 .73l.25 0l.25-.73l.25 .73l.25 0l.25-.73l.25 0l.25 .73l.25-.73l.25 .73l.25-.73l.25 0l.25 0l.25 .73l.25 .73l.25-1.46l.25 0l.25 0l.25 .73l.25-.73l.25 .73l.25 0l.25-.73l.25 .73l.25 0l.25 0l.25 0l.25 0l.25-.73l.25 .73l.25-.73l.25-.73l.25 1.46l.25-.73l.25 .73l.25 0l.25-.73l.25 .73l.25 0l.25-.73l.25 .73l.25-.73l.25 .73l.25 0l.25 0l.25 0l.25 0l.25 0l.25 0l.25 0l.25 0l.25 0l.25 0l.25 0l.25 0l.25 0l.25 0l.25 0l.25 0l.25 0l.25 0l.25 0l.25 0l.25-.73l.25 .73l.25 0l.25 0l.25 0l.25 0l.25 0l.25 0l.25 0l.25 0l.25 0l.25 0l.25 0l.25 0l.25 0l.25-.73l.25 .73l.25 0l.25 0l.25 0l.25 0l.25 .73l.25-.73l.25 0l.25 0l.25 0l.25-.73l.25 .73l.25 0l.25 0l.25 .73l.25 0l.25-1.46l.25 .73l.25 0l.25 0l.25 0l.25 0l.25 0l.25 .73l.25-.73l.25 0l.25 0l.25 0l.25 0l.25 0l.25 0l.25 0l.25-.73l.25 .73l.25-.73l.25 .73l.25-.73l.25 0l.25 0l.25 .73l.25 0l.25-.73l.25 0l.25 .73l.25 0l.25-.73l.25 0l.25 1.46l.25-.73l.25-.73l.25 .73l.25-.73l.25 .73l.25-.73l.25 0l.25 0l.25 .73l.25-.73l.25 0l.25 0l.25 0l.25 .73l.25-.73l.25 .73l.25-1.46l.25 .73l.25 0l.25 0l.25 .73l.25-.73l.25 0l.25 0l.25 0l.25 0l.25-.73l.25 .73l.25 0l.25 0l.25 0l.25 0l.25 0l.25 0l.25-.73l.25 .73l.25-.73l.25 .73l.25 0l.25 0l.25-.73l.25 0l.25 0l.25 0l.25 0l.25 0l.25 0l.25 .73l.25-.73l.25 .73l.25-.73l.25 0l.25 0l.25 0l.25 0l.25 0l.25 0l.25 0l.25 0l.25 0l.25 0l.25 .73l.25-1.46l.25 .73l.25 0l.25 0l.25-.73l.25 .73l.25-.73l.25 .73l.25 0l.25-1.46l.25 1.46l.25 0l.25 0l.25-.73l.25 0l.25 0l.25 0l.25-.73l.25 .73l.25 0l.25 0l.25 .73l.25-.73l.25 0l.25 0l.25 0l.25 0l.25-.73l.25 .73l.25 0l.25 0l.25 0l.25 0l.25 0l.25 0l.25 0l.25 0l.25-.73l.25 0l.25 0l.25 0l.25 0l.25 1.46l.25-1.46l.25 0l.25 0l.25 .73l.25 0l.25-.73l.25 0l.25 0l.25 .73l.25-.73l.25 0l.25-.73l.25 1.46l.25-.73l.25 0l.25 0l.25 0l.25 1.46l.25-1.46l.25 0l.25 0l.25 0l.25-.73l.25 0l.25 .73l.25 0l.25 0l.25 0l.25 0l.25-.73l.25 .73l.25 0l.25 0l.25 0l.25-.73l.25 .73l.25-.73l.25 0l.25 0l.25 0l.25 0l.25 0l.25 0l.25 0l.25 0l.25 0l.25 0l.25-.73l.25 0l.25 .73l.25-.73l.25 .73l.25 0l.25-.73l.25 .73l.25-.73l.25 1.46l.25-1.46l.25 .73l.25-.73l.25 .73l.25-.73l.25 .73l.25-.73l.25 0l.25 0l.25 0l.25 0l.25-.73l.25 .73l.25-.73l.25 .73l.25-.73l.25 .73l.25-.73l.25 0l.25 .73l.25 0l.25 0l.25-1.46l.25 .73l.25 .73l.25-.73l.25 0l.25 0l.25 0l.25 0l.25 0l.25 .73l.25-.73l.25 0l.25 .73l.25-.73l.25 0l.25 0l.25 0l.25 0l.25-1.46l.25 .73l.25 0l.25 .73l.25 0l.25-.73l.25 0l.25 0l.25 .73l.25 0l.25-.73l.25 0l.25 0l.25 .73l.25-.73l.25 0l.25 0l.25 0l.25 0l.25 0l.25 0l.25-.73l.25 .73l.25 0l.25 0l.25-.73l.25 0l.25 .73l.25 0l.25 0l.25-.73l.25 0l.25 0l.25 .73l.25 0l.25-.73l.25 0l.25 0l.25 0l.25 .73l.25-.73l.25 0l.25 0l.25 0l.25-.73l.25 .73l.25 0l.25 .73l.25-.73l.25-.73l.25 .73l.25 0l.25 0l.25 0l.25 0l.25 0l.25 0l.25-.73l.25 0l.25 .73l.25 0l.25 0l.25-.73l.25 .73l.25-.73l.25 0l.25 0l.25 0l.25 0l.25 0l.25 0l.25 0l.25 0l.25 0l.25-.73l.25 0l.25 .73l.25 0l.25-.73l.25 .73l.25 0l.25-.73l.25 .73l.25-.73l.25 .73l.25 0l.25-.73l.25 0l.25 .73l.25-.73l.25 0l.25 0l.25 0l.25 .73l.25-1.46l.25 0l.25 .73l.25 0l.25 0l.25 0l.25 0l.25-.73l.25 .73l.25 0l.25-.73l.25 0l.25 0l.25 .73l.25-1.46l.25 0l.25 0l.25 .73l.25 0l.25-.73l.25 .73l.25 0l.25 0l.25 0l.25 0l.25 0l.25-.73l.25 .73l.25 0l.25-.73l.25 0l.25 0l.25 0l.25 0l.25 0l.25 .73l.25-.73l.25 0l.25 0l.25 0l.25 0l.25 0l.25 0l.25-.73l.25 .73l.25 0l.25-.73l.25 1.46l.25-.73l.25 0l.25 0l.25-.73l.25 0l.25 .73l.25-.73l.25 0l.25 0l.25 0l.25 0l.25-.73l.25 .73l.25 0l.25 0l.25-.73l.25 0l.25 .73l.25-.73l.25 0l.25-.73l.25 1.46l.25-1.46l.25 .73l.25 0l.25-.73l.25 .73l.25 0l.25 0l.25 0l.25 0l.25 0l.25 0l.25 0l.25 0l.25 0l.25-.73l.25 0l.25 0l.25 0l.25 .73l.25-.73l.25 .73l.25-.73l.25 0l.25 0l.25 0l.25 0l.25 0l.25 0l.25-.73l.25 0l.25 .73l.25-.73l.25 .73l.25-.73l.25 0l.25 0l.25 0l.25 0l.25 0l.25 0l.25-.73l.25 0l.25 .73l.25 0l.25 0l.25-.73l.25 0l.25 .73l.25-.73l.25 0l.25 0l.25 0l.25 0l.25 0l.25 .73l.25-.73l.25 0l.25-.73l.25 0l.25 .73l.25-.73l.25 0l.25 .73l.25 0l.25-.73l.25 0l.25 .73l.25-.73l.25 0l.25 0l.25 0l.25 0l.25 0l.25 0l.25 0l.25-.73l.25 .73l.25 0l.25 0l.25 0l.25 0l.25-.73l.25 0l.25 0l.25 .73l.25-1.46l.25 .73l.25 0l.25 0l.25 0l.25 0l.25 0l.25-.73l.25 .73l.25-1.46l.25 2.92l.25-2.19l.25 0l.25 0l.25 0l.25 0l.25 0l.25 0l.25 0l.25 0l.25 0l.25-.73l.25 0l.25 .73l.25-.73l.25 0l.25 .73l.25 0l.25-.73l.25 0l.25 0l.25 0l.25 0l.25-.73l.25 .73l.25 0l.25 0l.25 0l.25-.73l.25 0l.25 .73l.25 0l.25-.73l.25 0l.25 .73l.25 0" stroke="#ffa500" stroke-width="1.25"/>
<path d="M80.5 138.7l.25-.73l.25 0l.25 0l.25-.73l.25 .73l.25 0l.25-.73l.25 .73l.25 0l.25-.73l.25 .73l.25 0l.25-.73l.25 0l.25 0l.25 .73l.25 0l.25 0l.25-.73l.25 .73l.25-.73l.25 0l.25 1.46l.25-1.46l.25 0l.25 0l.25-.73l.25 1.46l.25-.73l.25 .73l.25 0l.25-1.46l.25 .73l.25-.73l.25 .73l.25 0l.25 .73l.25 0l.25-.73l.25 0l.25 0l.25 0l.25 0l.25-.73l.25 0l.25 .73l.25 .73l.25-.73l.25-.73l.25 .73l.25 0l.25 0l.25 0l.25 0l.25-.73l.25 0l.25 .73l.25-.73l.25 .73l.25-.73l.25 0l.25 0l.25 .73l.25-.73l.25 0l.25 0l.25 0l.25 0l.25 0l.25 .73l.25-.73l.25 0l.25 .73l.25 0l.25-.73l.25 0l.25 0l.25 0l.25-.73l.25 .73l.25 0l.25 0l.25-.73l.25 .73l.25 0l.25 0l.25 0l.25 0l.25 0l.25 0l.25 0l.25 0l.25 0l.25 0l.25-.73l.25 .73l.25 0l.25-.73l.25 0l.25 0l.25 .73l.25-.73l.25 0l.25 0l.25 0l.25 .73l.25-.73l.25 .73l.25-.73l.25 0l.25 0l.25 0l.25 0l.25-.73l.25 .73l.25 0l.25 0l.25 0l.25 .73l.25-.73l.25-.73l.25 .73l.25 0l.25 0l.25 0l.25 0l.25 0l.25 0l.25 0l.25-.73l.25 0l.25 0l.25 .73l.25-.73l.25 0l.25 0l.25 0l.25-.73l.25 .73l.25 0l.25 0l.25 0l.25 0l.25 0l.25 0l.25 0l.25 0l.25 0l.25-.73l.25 .73l.25-.73l.25 .73l.25 0l.25 0l.25 0l.25-.73l.25 .73l.25 0l.25 0l.25-.73l.25 .73l.25 0l.25-.73l.25 .73l.25 0l.25-.73l.25 .73l.25-.73l.25 0l.25 0l.25 0l.25 0l.25 .73l.25-.73l.25 0l.25 .73l.25-.73l.25 0l.25 0l.25 0l.25 0l.25 0l.25 0l.25 0l.25-.73l.25 0l.25 .73l.25 0l.25 0l.25 0l.25-.73l.25 .73l.25-.73l.25 0l.25 .73l.25-.73l.25 .73l.25 0l.25-.73l.25 0l.25 .73l.25-.73l.25 0l.25 0l.25 .73l.25-.73l.25 0l.25 0l.25 0l.25 0l.25 0l.25 0l.25 0l.25 0l.25 0l.25 0l.25 0l.25 0l.25 0l.25 0l.25 0l.25 0l.25-.73l.25 0l.25 .73l.25 0l.25-.73l.25 0l.25 .73l.25-.73l.25 0l.25 .73l.25-.73l.25 0l.25 .73l.25 0l.25-.73l.25 0l.25 0l.25 0l.25-.73l.25 .73l.25 0l.25 0l.25-.73l.25 .73l.25 0l.25 0l.25-.73l.25 .73l.25 0l.25 0l.25 0l.25 0l.25 0l.25-.73l.25 0l.25 0l.25 .73l.25 0l.25 0l.25-1.46l.25 .73l.25 .73l.25-.73l.25 0l.25 0l.25 0l.25 0l.25 0l.25 0l.25 0l.25 0l.25 0l.25 0l.25-.73l.25 .73l.25-.73l.25 .73l.25-.73l.25 0l.25 0l.25 0l.25 .73l.25-.73l.25 .73l.25-.73l.25 0l.25 .73l.25-.73l.25 0l.25 .73l.25-.73l.25 0l.25 0l.25 .73l.25-.73l.25 .73l.25-.73l.25 0l.25 0l.25-.73l.25 .73l.25 0l.25 0l.25 0l.25 0l.25-.73l.25 0l.25 0l.25 0l.25 .73l.25 0l.25-.73l.25 0l.25 1.46l.25-1.46l.25 0l.25 0l.25 .73l.25-.73l.25 0l.25 0l.25 0l.25 0l.25-.73l.25 1.46l.25-.73l.25 0l.25 0l.25 0l.25 0l.25-.73l.25 .73l.25-.73l.25 .73l.25-.73l.25 .73l.25 0l.25 0l.25-1.46l.25 .73l.25 0l.25 0l.25 0l.25 .73l.25 0l.25 0l.25-.73l.25 .73l.25 0l.25-.73l.25-.73l.25 .73l.25 0l.25-.73l.25 1.46l.25-.73l.25 0l.25 0l.25 0l.25 0l.25 0l.25-.73l.25 0l.25 .73l.25 0l.25-.73l.25 0l.25 .73l.25-.73l.25 .73l.25 0l.25-.73l.25 0l.25 0l.25 .73l.25-.73l.25 0l.25 .73l.25-.73l.25 0l.25 0l.25-.73l.25 0l.25 .73l.25 0l.25 0l.25 0l.25 0l.25 0l.25-.73l.25 .73l.25-.73l.25 .73l.25 0l.25 0l.25 0l.25 0l.25 0l.25 0l.25-.73l.25 .73l.25-.73l.25 0l.25 .73l.25-.73l.25 .73l.25-.73l.25 .73l.25 0l.25-.73l.25 0l.25 0l.25 0l.25 0l.25 0l.25 0l.25-.73l.25 .73l.25-.73l.25 .73l.25 0l.25-.73l.25 .73l.25-.73l.25 .73l.25-.73l.25 .73l.25-.73l.25 .73l.25 0l.25 0l.25 0l.25-.73l.25 .73l.25 0l.25 0l.25-.73l.25 0l.25 .73l.25 0l.25-.73l.25 .73l.25-.73l.25 .73l.25 0l.25 0l.25-1.46l.25 .73l.25 1.46l.25-1.46l.25 0l.25 0l.25 .73l.25 0l.25-1.46l.25 .73l.25 0l.25 0l.25 0l.25 0l.25 0l.25 0l.25 .73l.25-.73l.25 0l.25 0l.25 0l.25 0l.25 0l.25 0l.25 0l.25 0l.25 0l.25 0l.25 0l.25 0l.25 0l.25 0l.25 0l.25 0l.25 0l.25 0l.25 0l.25 0l.25 0l.25 0l.25 0l.25 0l.25 0l.25 0l.25 0l.25-.73l.25 .73l.25 0l.25 0l.25-.73l.25 .73l.25-1.46l.25 .73l.25 .73l.25 0l.25-.73l.25 .73l.25-.73l.25 .73l.25 0l.25 0l.25-.73l.25 0l.25 0l.25 0l.25 .73l.25 0l.25-.73l.25 0l.25 0l.25 .73l.25-.73l.25 .73l.25-.73l.25 0l.25 .73l.25 0l.25 0l.25-.73l.25-.73l.25 1.46l.25 0l.25 0l.25-.73l.25 0l.25 .73l.25-.73l.25 .73l.25 0l.25-.73l.25 0l.25 0l.25 0l.25 .73l.25-.73l.25 0l.25 .73l.25-.73l.25 .73l.25 0l.25-.73l.25 .73l.25-.73l.25 0l.25 0l.25 0l.25 .73l.25 0l.25-.73l.25 0l.25 0l.25 .73l.25-.73l.25 0l.25 0l.25 .73l.25 0l.25 0l.25 0l.25 0l.25 0l.25-.73l.25 .73l.25-.73l.25 0l.25 0l.25 0l.25 .73l.25 0l.25-.73l.25 0l.25 0l.25 0l.25 .73l.25 0l.25 0l.25-.73l.25 0l.25 .73l.25 0l.25-.73l.25 0l.25 .73l.25-.73l.25 0l.25 0l.25 0l.25 0l.25 0l.25 .73l.25-.73l.25 0l.25 0l.25-.73l.25 0l.25 .73l.25 0l.25 .73l.25 0l.25-.73l.25 .73l.25-.73l.25 0l.25 0l.25 0l.25 0l.25 0l.25 0l.25 0l.25 0l.25 0l.25 0l.25 0l.25 0l.25-.73l.25 .73l.25 0l.25 0l.25 0l.25-.73l.25 .73l.25 0l.25 0l.25 0l.25 0l.25 0l.25-.73l.25 .73l.25-.73l.25 .73l.25 0l.25 0l.25 0l.25-.73l.25 0l.25 .73l.25 0l.25 0l.25 0l.25 0l.25 0l.25 0l.25 0l.25-.73l.25 .73l.25 0l.25 0l.25 0l.25-.73l.25 .73l.25-.73l.25 0l.25 0l.25 .73l.25 0l.25-.73l.25 0l.25 .73l.25 0l.25-.73l.25 0l.25 0l.25 .73l.25 0l.25 0l.25-.73l.25 0l.25 .73l.25-.73l.25 0l.25 .73l.25-.73l.25 0l.25 .73l.25 0l.25-.73l.25-.73l.25 .73l.25 .73l.25 0l.25-.73l.25 0l.25 0l.25 .73l.25-.73l.25 0l.25 0l.25 0l.25 0l.25 0l.25 0l.25 0l.25 0l.25 .73l.25-1.46l.25 1.46l.25-.73l.25 0l.25 .73l.25-.73l.25 .73l.25-.73l.25 0l.25 0l.25 .73l.25-.73l.25 .73l.25-.73l.25 0l.25 0l.25 .73l.25-1.46l.25 .73l.25-.73l.25 .73l.25 .73l.25-.73l.25 0l.25 .73l.25-.73l.25 .73l.25-.73l.25-.73l.25 .73l.25 0l.25 .73l.25 0l.25-1.46l.25 .73l.25 0l.25 0l.25 0l.25-.73l.25 1.46l.25-.73l.25-.73l.25 .73l.25 0l.25 .73l.25-.73l.25 0l.25 .73l.25-.73l.25 0l.25 0l.25 0l.25 .73l.25-.73l.25 0l.25 0l.25 .73l.25-.73l.25 0l.25 0l.25 0l.25 0l.25 0l.25 .73l.25-.73l.25 0l.25 0l.25 0l.25 0l.25 0l.25 0l.25 0l.25 .73l.25-.73l.25 0l.25 0l.25 .73l.25-.73l.25 0l.25 .73l.25-.73l.25 0l.25 0l.25 0l.25 0l.25 0l.25 0l.25 0l.25 .73l.25-.73l.25-.73l.25 1.46l.25-.73l.25 .73l.25-.73l.25 0l.25-1.46l.25 1.46l.25 0l.25 0l.25 .73l.25-.73l.25 0l.25 0l.25 0l.25 0l.25 0l.25 0l.25 0l.25 0l.25 .73l.25-.73l.25 0l.25 .73l.25 0l.25 0l.25-.73l.25 0l.25 0l.25 .73l.25-1.46l.25 .73l.25 0l.25 .73l.25 0l.25-.73l.25 0l.25 0l.25 .73l.25 0l.25 0l.25-.73l.25 .73l.25 0l.25-.73l.25 .73l.25 0l.25 0l.25 0l.25 0l.25-.73l.25 .73l.25 0l.25 .73l.25-1.46l.25 .73l.25 .73l.25-.73l.25 0l.25 .73l.25-.73l.25 0l.25 0l.25-.73l.25 .73l.25 0l.25 0l.25 .73l.25-.73l.25 0l.25 0l.25 0l.25 .73l.25-.73l.25 0l.25-.73l.25 .73l.25 0l.25 0l.25 0l.25 0l.25 0l.25 0l.25 0l.25 .73l.25 0l.25-.73l.25 0l.25 .73l.25 0l.25 0l.25 0l.25 0l.25-.73l.25 0l.25 0l.25 .73l.25 0l.25-.73l.25 0l.25 .73l.25 0l.25 0l.25 0l.25-.73l.25 0l.25 1.46l.25-.73l.25 0l.25 0l.25 0l.25 0l.25 0l.25 0l.25 0l.25 0l.25 0l.25 .73l.25 0l.25-.73l.25 .73l.25-.73l.25 0l.25 0l.25 0l.25 .73l.25-.73l.25 .73l.25 0l.25 0l.25 0l.25-.73l.25 0l.25 0l.25 .73l.25 1.46l.25-1.46l.25 0l.25 0l.25 0l.25 0l.25 .73l.25 0l.25-.73l.25 0l.25 0l.25 0l.25 .73l.25 0l.25 0l.25 0l.25 0l.25 0l.25 0l.25 0l.25-.73l.25 .73l.25 .73l.25-.73l.25 0l.25 0l.25 0l.25 0l.25 .73l.25-.73l.25 .73l.25-.73l.25 .73l.25 0l.25 0l.25 0l.25 0l.25 0l.25 0l.25-.73l.25 .73l.25 0l.25 0l.25 0l.25 0l.25 0l.25 0l.25 0l.25 0l.25 0l.25 .73l.25 0l.25 0l.25 0l.25-.73l.25 .73l.25 0l.25 .73l.25-.73l.25 .73l.25 0l.25-1.46l.25 .73l.25 0l.25 .73l.25 0l.25-.73l.25 0l.25 .73l.25-.73l.25 0l.25 0l.25 .73l.25-.73l.25 .73l.25 0l.25 0l.25 0l.25 0l.25 0l.25 0l.25 0l.25 0l.25 0l.25 0l.25 0l.25 0l.25 .73l.25 0l.25-.73l.25 .73l.25 0l.25-.73l.25 0l.25 .73l.25-.73l.25 .73l.25 0l.25 0l.25 0l.25 0l.25 0l.25 .73l.25 0l.25-.73l.25 0l.25 0l.25 .73l.25-.73l.25 0l.25 .73l.25-.73l.25 0l.25 0l.25 0l.25 .73l.25-.73l.25 0l.25 .73l.25-.73l.25 0l.25 .73l.25-.73l.25 .73l.25 0l.25 0l.25 .73l.25-.73l.25 0l.25 0l.25 0l.25 0l.25 0l.25 .73l.25 0l.25-.73l.25 .73l.25 0l.25 0l.25-.73l.25 .73l.25 0l.25 .73l.25-.73l.25 0l.25 0l.25 .73l.25-.73l.25 1.46l.25-.73l.25-.73l.25 0l.25 0l.25 0l.25 0l.25-.73l.25 .73l.25 .73l.25-.73l.25 0l.25 .73l.25 0l.25 0l.25 0l.25 0l.25 0l.25 0l.25 .73l.25-.73l.25 0l.25 .73l.25 0l.25 0l.25-1.46l.25 .73l.25-.73l.25 1.46l.25-.73l.25 0l.25 0l.25 .73l.25-.73l.25 .73l.25 0l.25 0l.25 0l.25 0l.25-.73l.25 .73l.25 0l.25 0l.25 0l.25 0l.25-.73l.25 .73l.25 0l.25-.73l.25 .73l.25-.73l.25 .73l.25 0l.25 0l.25 0l.25 .73l.25-.73l.25 0l.25-.73l.25 .73l.25 0l.25 0l.25 0l.25 0l.25 .73l.25-.73l.25 0l.25 0l.25 .73l.25-.73l.25 0l.25 0l.25 0l.25 0l.25 0l.25 0l.25 0l.25 0l.25 .73l.25-1.46l.25 .73l.25 0l.25 0l.25 0l.25 .73l.25-.73l.25 0l.25 0l.25 0l.25 0l.25 0l.25 0l.25 .73l.25-.73l.25 .73l.25-1.46l.25 .73l.25 0l.25 .73l.25-.73l.25 .73l.25-.73l.25 .73l.25 0l.25 0l.25 0l.25 .73l.25-.73l.25-.73l.25 .73l.25 0l.25-.73l.25 .73l.25-.73l.25 .73l.25 0l.25-.73l.25 .73l.25-.73l.25 .73l.25-.73l.25 .73l.25 .73l.25-.73l.25-.73l.25 .73l.25-.73l.25 .73l.25 0l.25 0l.25 0l.25 0l.25 0l.25 0l.25 0l.25 0l.25 0l.25 0l.25 0l.25 0l.25 0l.25-.73l.25 .73l.25 0l.25 0l.25 0l.25 0l.25-.73l.25 .73l.25-1.46l.25 1.46l.25 0l.25 0l.25 0l.25 0l.25 0l.25 0l.25 0l.25 0l.25 .73l.25-.73l.25 0l.25 .73l.25 0l.25 0l.25-.73l.25 0l.25 0l.25 0l.25 .73l.25-.73l.25 0l.25 0l.25 .73l.25 0l.25-.73l.25 0l.25 .73l.25 0l.25-.73l.25 1.46l.25-1.46l.25 0l.25 0l.25 .73l.25 0l.25-.73l.25 1.46l.25-1.46l.25 .73l.25 0l.25-.73l.25 0l.25 .73l.25-.73l.25 0l.25 .73l.25-.73l.25 0l.25 .73l.25 0l.25-1.46l.25 1.46l.25 0l.25 0l.25 0l.25 0l.25 0l.25-.73l.25 0l.25 0l.25 0l.25 .73l.25-.73l.25 .73l.25-.73l.25 0l.25 .73l.25 0l.25 0l.25 0l.25 0l.25-.73l.25 1.46l.25-.73l.25 0l.25 0l.25 0l.25 0l.25 0l.25 0l.25 0l.25 0l.25 0l.25 0l.25 0l.25-.73l.25 1.46l.25-.73l.25 0l.25 0l.25 .73l.25-.73l.25 0l.25 0l.25 .73l.25 0l.25-.73l.25 0l.25 0l.25 .73l.25-.73l.25 0l.25 0l.25 .73l.25 0l.25 0l.25-.73l.25 .73l.25 1.46l.25-2.19l.25 .73l.25-.73l.25 0l.25 .73l.25 0l.25 0l.25 0l.25 0l.25 .73l.25-.73l.25 0l.25 0l.25 .73l.25-.73l.25 0l.25 0l.25 0l.25 .73l.25 0l.25-.73l.25 0l.25 0l.25 0l.25 0l.25 .73l.25-.73l.25 0l.25 0l.25 .73l.25-.73l.25 .73l.25 0l.25-.73l.25 0l.25 .73l.25-.73l.25 .73l.25 0l.25-.73l.25 .73l.25 0l.25-.73l.25 .73l.25-.73l.25 0l.25 .73l.25 0l.25 0l.25-.73l.25 .73l.25 0l.25 0l.25 0l.25-.73l.25 .73l.25 0l.25 .73l.25-.73l.25 0l.25-.73l.25 .73l.25 0l.25 0l.25 0l.25 0l.25-.73l.25 1.46l.25-.73l.25 .73l.25 0l.25-.73l.25 .73l.25-.73l.25 .73l.25-.73l.25 .73l.25-.73l.25 0l.25 0l.25 0l.25 0l.25 0l.25 .73l.25-.73l.25 0l.25 0l.25 .73l.25-.73l.25 .73l.25-1.46l.25 .73l.25 0l.25 0l.25 1.46l.25-.73l.25-.73l.25 0l.25 0l.25 .73l.25 0l.25-.73l.25 0l.25 0l.25-.73l.25 .73l.25 0l.25 .73l.25-.73l.25 0l.25 .73l.25-.73l.25 0l.25 .73l.25-.73l.25 0l.25 0l.25 0l.25 0l.25 0l.25 .73l.25 0l.25 0l.25 0l.25 0l.25-2.19l.25 1.46l.25 0l.25 .73l.25-.73l.25 0l.25 0l.25 0l.25 0l.25 0l.25 0l.25-.73l.25 .73l.25 0l.25 0l.25 0l.25 0l.25 0l.25 0l.25-.73l.25 .73l.25 0l.25-.73l.25 .73l.25-.73l.25 .73l.25 0l.25 0l.25 0l.25-.73l.25 0l.25 .73l.25 0l.25 0l.25-.73l.25 .73l.25 0l.25 0l.25-.73l.25 0l.25 0l.25 0l.25 0l.25 .73l.25-.73l.25 0l.25 0l.25 .73l.25 0l.25-.73l.25 0l.25 0l.25 0l.25-.73l.25 .73l.25 0l.25-.73l.25 .73l.25 0l.25-.73l.25 .73l.25-.73l.25 .73l.25 0l.25-.73l.25 .73l.25 0l.25 0l.25-.73l.25 .73l.25 0l.25-.73l.25 .73l.25-.73l.25 .73l.25-.73l.25 .73l.25-.73l.25 0l.25 0l.25 0l.25 0l.25 .73l.25-.73l.25 0l.25 0l.25 0l.25 0l.25 0l.25 0l.25 0l.25-.73l.25 .73l.25 0l.25-1.46l.25 1.46l.25-.73l.25 0l.25 .73l.25-.73l.25 .73l.25-.73l.25 .73l.25-.73l.25 0l.25 .73l.25 0l.25 0l.25 0l.25-1.46l.25 1.46l.25-.73l.25 0l.25 0l.25 0l.25 0l.25 0l.25 0l.25 0l.25-.73l.25 0l.25 0l.25 .73l.25 .73l.25-.73l.25 0l.25 0l.25 0l.25 0l.25-.73l.25 .73l.25-.73l.25 .73l.25-.73l.25 0l.25 .73l.25-.73l.25 0l.25 0l.25 0l.25 0l.25 0l.25 0l.25 0l.25 0l.25 .73l.25-.73l.25 0l.25 0l.25 0l.25 0l.25 0l.25 0l.25-.73l.25 0l.25 .73l.25 0l.25 .73l.25-.73l.25-.73l.25 .73l.25-.73l.25 .73l.25-.73l.25 0l.25 .73l.25 0l.25-.73l.25 .73l.25 0l.25-.73l.25 0l.25 .73l.25-.73l.25 .73l.25-.73l.25 0l.25 0l.25 .73l.25-.73l.25 .73l.25-.73l.25-.73l.25 .73l.25 0l.25-.73l.25 .73l.25 0l.25 0l.25 0l.25 0l.25 0l.25 0l.25 .73l.25-.73l.25-.73l.25 0l.25 0l.25 .73l.25 0l.25 0l.25-.73l.25 0l.25 0l.25 0l.25 .73l.25-.73l.25 0l.25 0l.25 0l.25 0l.25 .73l.25-.73l.25 0l.25 0l.25 .73l.25-.73l.25 0l.25 0l.25-.73l.25 .73l.25 0l.25 0l.25 .73l.25-.73l.25 0l.25-.73l.25 0l.25 .73l.25 0l.25 0l.25 0l.25-.73l.25 .73l.25 0l.25-.73l.25 .73l.25-.73l.25 .73l.25-.73l.25 0l.25 0l.25-.73l.25 0l.25 .73l.25 0l.25 0l.25 0l.25-.73l.25 .73l.25 0l.25 0l.25 0l.25 0l.25-.73l.25 0l.25 0l.25 .73l.25-.73l.25 0l.25 0l.25 0l.25 0l.25 0l.25 0l.25 0l.25 0l.25 0l.25 0l.25 0l.25 .73l.25-1.46l.25 .73l.25 0l.25 0l.25-1.46l.25 .73l.25 0l.25 0l.25 0l.25 0l.25 0l.25 0l.25 0l.25 0l.25-.73l.25 .73l.25-.73l.25 0l.25 .73l.25-.73l.25 0l.25 0l.25 0l.25 0l.25 0l.25-.73l.25 0l.25 .73l.25 0l.25 0l.25 0l.25-.73l.25 0l.25 .73l.25-.73l.25 .73l.25-.73l.25 0l.25 0l.25 0l.25 0l.25 0l.25 0l.25-.73l.25 0l.25 .73l.25-.73l.25 .73l.25 0l.25-.73l.25 0l.25 .73l.25-.73l.25 .73l.25-.73l.25-.73l.25 .73l.25 0l.25 0l.25 0l.25 0l.25 0l.25 0l.25 0l.25-.73l.25 0l.25 0l.25 .73l.25 0l.25 0l.25-.73l.25-1.46l.25 1.46l.25 0l.25 0l.25 0l.25 0l.25 0l.25 0l.25 0l.25 0l.25 0l.25-.73l.25 .73l.25-.73l.25 .73l.25-.73l.25 0l.25 0l.25 0l.25 0l.25 .73l.25-.73l.25 0l.25-.73l.25 .73l.25 0l.25 0l.25 0l.25 0l.25-.73l.25 .73l.25-.73l.25 .73l.25 0l.25 0l.25-.73l.25 0l.25 0l.25 0l.25-.73l.25 .73l.25 0l.25 0l.25 0l.25 0l.25 .73l.25-.73l.25 0l.25 0l.25 0l.25-.73l.25 0l.25 0l.25 0l.25 0l.25 0l.25 .73l.25 0l.25-.73l.25 0l.25 0l.25 .73l.25-.73l.25 0l.25 0l.25 0l.25-.73l.25 .73l.25 0l.25-.73l.25 0l.25 0l.25 0l.25 .73l.25-.73l.25 .73l.25 0l.25-.73l.25-.73l.25 .73l.25 0l.25 0l.25 0l.25 0l.25-1.46l.25 1.46l.25 0l.25-.73l.25 .73l.25-.73l.25 0l.25 0l.25 0l.25 0l.25 .73l.25-.73l.25 0l.25 0l.25 0l.25 0l.25 0l.25-.73l.25 0l.25 0l.25 0l.25 0l.25 0l.25 0l.25 0l.25 0l.25 0l.25 .73l.25-.73l.25 0l.25 0l.25 0l.25-.73l.25 .73l.25 0l.25-1.46l.25 .73l.25 0l.25 0l.25 .73l.25-.73l.25 .73l.25-.73l.25 0l.25 0l.25 0l.25 0l.25-.73l.25 0l.25 1.46l.25-.73l.25-.73l.25 0l.25 .73l.25-.73l.25 0l.25 0l.25 0l.25 0l.25 0l.25 0l.25 0l.25 0l.25 0l.25 0l.25 0l.25-.73l.25 .73l.25 0l.25-.73l.25 0l.25 0l.25 0l.25 0l.25 .73l.25-.73l.25 0l.25 .73l.25-.73l.25 0l.25-.73l.25 .73l.25 0l.25 0l.25-.73l.25 .73l.25 0l.25 0l.25-.73l.25 0l.25-.73l.25 .73l.25 0l.25-.73l.25 0l.25 0l.25 .73l.25 0" stroke="#008000" stroke-width="1.25"/>
<path d="M80.5 174.47l.25 .73l.25-.73l.25 0l.25 0l.25 0l.25 .73l.25 0l.25-.73l.25 0l.25 0l.25 0l.25 0l.25 0l.25 0l.25 0l.25-.73l.25 .73l.25-.73l.25 0l.25 .73l.25 0l.25 0l.25 .73l.25-.73l.25-.73l.25-.73l.25 .73l.25 .73l.25-1.46l.25 1.46l.25 0l.25-.73l.25 0l.25 0l.25 0l.25 .73l.25-.73l.25 0l.25 .73l.25-.73l.25 0l.25 0l.25 .73l.25-.73l.25 0l.25-.73l.25 .73l.25 0l.25-.73l.25 0l.25 0l.25 0l.25 0l.25 .73l.25 0l.25-.73l.25 .73l.25 0l.25 0l.25-.73l.25 .73l.25-.73l.25 0l.25 0l.25 0l.25 0l.25 0l.25-.73l.25 0l.25 1.46l.25-.73l.25 .73l.25 0l.25-1.46l.25 .73l.25 0l.25-.73l.25 .73l.25 0l.25-.73l.25-.73l.25 1.46l.25 .73l.25-.73l.25 0l.25-.73l.25 0l.25 .73l.25 0l.25-.73l.25 0l.25 .73l.25-.73l.25 0l.25 0l.25 0l.25 0l.25 .73l.25-.73l.25 0l.25 .73l.25-.73l.25 0l.25 0l.25 0l.25 0l.25 0l.25 0l.25 0l.25 0l.25 0l.25 0l.25-.73l.25 .73l.25-.73l.25 .73l.25 .73l.25-.73l.25 0l.25-.73l.25 0l.25 0l.25 .73l.25 0l.25-.73l.25 .73l.25-.73l.25 .73l.25-.73l.25 0l.25 0l.25 .73l.25-.73l.25 .73l.25-.73l.25 .73l.25-.73l.25 0l.25 0l.25 .73l.25-.73l.25 0l.25 0l.25 0l.25 0l.25 .73l.25-.73l.25-.73l.25 0l.25 .73l.25 0l.25 0l.25 0l.25-.73l.25 .73l.25 0l.25-.73l.25 0l.25 .73l.25 0l.25-.73l.25 0l.25 0l.25-.73l.25 1.46l.25 0l.25-.73l.25 0l.25 0l.25 0l.25 0l.25 0l.25 0l.25 0l.25 .73l.25-.73l.25 0l.25 0l.25 0l.25-.73l.25 1.46l.25-.73l.25-.73l.25 .73l.25 0l.25-.73l.25 .73l.25-.73l.25 0l.25 .73l.25 0l.25-.73l.25 .73l.25 0l.25-.73l.25 0l.25 0l.25 .73l.25-.73l.25 .73l.25-.73l.25 0l.25 0l.25 .73l.25-.73l.25 0l.25 0l.25 0l.25 0l.25 .73l.25 0l.25-1.46l.25 .73l.25 0l.25 0l.25 .73l.25-.73l.25 0l.25-.73l.25 0l.25 .73l.25-.73l.25 0l.25 0l.25 0l.25 0l.25 .73l.25-.73l.25 0l.25 0l.25 0l.25 .73l.25-1.46l.25 .73l.25 0l.25 0l.25 0l.25 0l.25 0l.25 0l.25 0l.25 0l.25-.73l.25 .73l.25 0l.25 0l.25-.73l.25 .73l.25-.73l.25 .73l.25 0l.25-.73l.25 0l.25 0l.25 .73l.25-.73l.25 .73l.25-.73l.25 .73l.25-.73l.25 0l.25 0l.25-.73l.25 .73l.25 .73l.25-.73l.25 0l.25 0l.25 0l.25 0l.25-.73l.25 0l.25 .73l.25-.73l.25 0l.25 .73l.25 0l.25-.73l.25-.73l.25 1.46l.25-.73l.25 .73l.25 0l.25-.73l.25 0l.25 .73l.25 0l.25-.73l.25 0l.25 0l.25 0l.25 .73l.25-.73l.25 0l.25-.73l.25 .73l.25 0l.25 0l.25-.73l.25 .73l.25-.73l.25 .73l.25-.73l.25 0l.25 0l.25 .73l.25 0l.25-.73l.25-.73l.25 .73l.25 0l.25 0l.25 0l.25 0l.25 0l.25 0l.25 0l.25 0l.25 0l.25 0l.25 0l.25 0l.25 0l.25-.73l.25 .73l.25 0l.25 0l.25 0l.25 0l.25 0l.25 0l.25 0l.25-.73l.25 .73l.25-.73l.25 .73l.25-.73l.25 0l.25 .73l.25 0l.25-.73l.25 0l.25 0l.25 0l.25 0l.25 0l.25 .73l.25-.73l.25 0l.25-.73l.25 0l.25 .73l.25 0l.25 0l.25 0l.25-.73l.25 .73l.25-.73l.25 0l.25 0l.25 0l.25 0l.25 0l.25 0l.25 0l.25 0l.25 0l.25 0l.25-.73l.25 1.46l.25-.73l.25 0l.25 .73l.25-.73l.25 0l.25 0l.25 0l.25-.73l.25 0l.25 1.46l.25-.73l.25 0l.25 0l.25 0l.25-.73l.25 .73l.25 0l.25 0l.25-.73l.25 0l.25 .73l.25-.73l.25 0l.25 0l.25 0l.25 0l.25 0l.25 0l.25 0l.25 0l.25 0l.25 .73l.25-.73l.25-.73l.25 1.46l.25-.73l.25 0l.25 0l.25 0l.25 .73l.25-1.46l.25 .73l.25 0l.25 .73l.25-.73l.25 0l.25 0l.25-.73l.25 0l.25 .73l.25-.73l.25 0l.25 .73l.25-.73l.25 .73l.25 0l.25 0l.25 0l.25-.73l.25 .73l.25-.73l.25 0l.25 0l.25-.73l.25 .73l.25 0l.25-.73l.25 .73l.25 0l.25 0l.25 0l.25 0l.25 0l.25 0l.25 0l.25 0l.25-.73l.25 .73l.25 0l.25 0l.25 0l.25-.73l.25 0l.25 .73l.25 0l.25-.73l.25 0l.25 .73l.25-.73l.25 .73l.25 0l.25-.73l.25 0l.25 .73l.25 0l.25 0l.25 0l.25-.73l.25 .73l.25 0l.25-.73l.25 0l.25 .73l.25-.73l.25 .73l.25-.73l.25 .73l.25-.73l.25 .73l.25 0l.25-.73l.25 .73l.25 0l.25-.73l.25 .73l.25-.73l.25 0l.25 0l.25 .73l.25-.73l.25 .73l.25 0l.25-.73l.25 .73l.25 0l.25 0l.25-.73l.25 0l.25 .73l.25-.73l.25 0l.25 0l.25 0l.25 0l.25 0l.25 0l.25 0l.25 0l.25 0l.25 0l.25 0l.25-.73l.25 1.46l.25-.73l.25 0l.25 0l.25 .73l.25 0l.25-.73l.25 0l.25 .73l.25-.73l.25 .73l.25-.73l.25 0l.25 0l.25-.73l.25 .73l.25-.73l.25 .73l.25 0l.25 0l.25-.73l.25 0l.25 .73l.25 0l.25 0l.25-.73l.25 .73l.25 .73l.25-.73l.25 0l.25-.73l.25 .73l.25 0l.25-.73l.25 0l.25 .73l.25-.73l.25 .73l.25 0l.25 0l.25-.73l.25 .73l.25-.73l.25 0l.25 1.46l.25-1.46l.25 0l.25 .73l.25 0l.25-.73l.25 .73l.25 0l.25 0l.25 0l.25-.73l.25 .73l.25-.73l.25 0l.25 .73l.25-.73l.25 0l.25 .73l.25-.73l.25 .73l.25 0l.25-.73l.25 0l.25 .73l.25-.73l.25 .73l.25-.73l.25 0l.25 0l.25 0l.25 .73l.25-.73l.25 0l.25 0l.25 0l.25 0l.25 .73l.25 0l.25-.73l.25 0l.25 0l.25 0l.25 0l.25 0l.25 0l.25 .73l.25-.73l.25 0l.25 0l.25 .73l.25-.73l.25 0l.25 0l.25 0l.25 0l.25 .73l.25-.73l.25 0l.25-.73l.25 .73l.25 0l.25 0l.25 0l.25 0l.25-.73l.25 0l.25 .73l.25 0l.25 0l.25 .73l.25-1.46l.25 .73l.25 0l.25 0l.25-.73l.25 .73l.25 0l.25 .73l.25-.73l.25 0l.25 0l.25-.73l.25 1.46l.25-.73l.25 0l.25 .73l.25-.73l.25 0l.25 .73l.25-.73l.25 0l.25 0l.25 0l.25 0l.25 0l.25 0l.25 .73l.25-.73l.25 0l.25-.73l.25 .73l.25 0l.25 0l.25 0l.25 0l.25 0l.25 0l.25 0l.25 0l.25 0l.25 0l.25 0l.25 0l.25 0l.25 0l.25 0l.25 0l.25-.73l.25 0l.25 0l.25 .73l.25-.73l.25 0l.25 0l.25 .73l.25-.73l.25 .73l.25-.73l.25 .73l.25 0l.25-1.46l.25 1.46l.25 0l.25 0l.25 0l.25 0l.25 0l.25 0l.25-.73l.25 0l.25 0l.25 .73l.25 0l.25 0l.25-.73l.25 0l.25 0l.25 0l.25 0l.25 0l.25 0l.25 0l.25 0l.25 0l.25 0l.25 0l.25-.73l.25 .73l.25 0l.25 0l.25 .73l.25-.73l.25 0l.25 .73l.25 0l.25-.73l.25 .73l.25 0l.25 0l.25 0l.25-.73l.25 0l.25 0l.25 0l.25 .73l.25-2.19l.25 1.46l.25 .73l.25-.73l.25 .73l.25-.73l.25 0l.25 0l.25-.73l.25 1.46l.25 0l.25 0l.25-.73l.25 .73l.25 0l.25-.73l.25 0l.25 0l.25 0l.25 0l.25 0l.25 0l.25 .73l.25 0l.25 0l.25-.73l.25 1.46l.25-.73l.25-.73l.25 .73l.25-.73l.25 0l.25 0l.25 0l.25 0l.25 0l.25 .73l.25-1.46l.25 1.46l.25-.73l.25 0l.25 0l.25 .73l.25-.73l.25 0l.25 0l.25 .73l.25 0l.25 0l.25-.73l.25 0l.25 .73l.25-.73l.25 0l.25 .73l.25 0l.25-.73l.25 .73l.25 0l.25 0l.25-.73l.25 0l.25 0l.25 .73l.25-.73l.25 0l.25 .73l.25-.73l.25 0l.25 0l.25 0l.25 0l.25 0l.25 .73l.25-.73l.25 0l.25 0l.25 0l.25 .73l.25-.73l.25 0l.25 .73l.25 0l.25 0l.25 0l.25 0l.25-.73l.25 .73l.25 0l.25 0l.25 0l.25-.73l.25 .73l.25 0l.25 0l.25 0l.25-.73l.25 1.46l.25-.73l.25-.73l.25 .73l.25 0l.25 0l.25-.73l.25 1.46l.25-1.46l.25 .73l.25 0l.25-.73l.25 0l.25 .73l.25 0l.25 0l.25 0l.25-.73l.25 .73l.25 .73l.25 0l.25 0l.25-.73l.25 0l.25 0l.25 0l.25 0l.25 .73l.25-.73l.25 0l.25 0l.25 .73l.25 0l.25 .73l.25-.73l.25 0l.25-.73l.25 0l.25 0l.25 .73l.25 0l.25-.73l.25 .73l.25 0l.25-.73l.25 .73l.25-.73l.25 .73l.25 0l.25 0l.25 0l.25 0l.25-.73l.25 0l.25 .73l.25 0l.25 0l.25 0l.25 0l.25 0l.25 0l.25 0l.25 0l.25-.73l.25 1.46l.25-.73l.25 0l.25 0l.25 0l.25-.73l.25 1.46l.25-.73l.25 .73l.25-.73l.25 .73l.25 0l.25-.73l.25 .73l.25-.73l.25 .73l.25 0l.25 0l.25-.73l.25 .73l.25-.73l.25 .73l.25 0l.25 .73l.25-.73l.25 0l.25 0l.25-.73l.25 0l.25 1.46l.25-.73l.25 0l.25 0l.25 0l.25 0l.25-.73l.25 .73l.25 .73l.25-1.46l.25 .73l.25 0l.25 0l.25 .73l.25 0l.25-.73l.25 0l.25 0l.25 0l.25 0l.25 .73l.25-.73l.25 .73l.25 0l.25-.73l.25 .73l.25-.73l.25 .73l.25-.73l.25 0l.25 .73l.25 0l.25 0l.25 0l.25 0l.25 0l.25 0l.25 0l.25 0l.25 0l.25-.73l.25 .73l.25 .73l.25-.73l.25-.73l.25 1.46l.25 0l.25-.73l.25 .73l.25 0l.25-.73l.25 0l.25 0l.25 .73l.25-.73l.25 0l.25 .73l.25 0l.25 0l.25-.73l.25 .73l.25 0l.25 0l.25 0l.25 0l.25 0l.25 0l.25 0l.25 0l.25 0l.25 0l.25 0l.25 0l.25 0l.25 .73l.25 0l.25-.73l.25 .73l.25 0l.25-.73l.25 .73l.25 0l.25 0l.25 0l.25 .73l.25 0l.25-.73l.25 0l.25-.73l.25 .73l.25 0l.25 0l.25 .73l.25-.73l.25 .73l.25 0l.25-.73l.25 .73l.25 0l.25 0l.25-.73l.25 .73l.25-.73l.25 .73l.25 0l.25 0l.25 0l.25 0l.25 0l.25 0l.25 .73l.25-.73l.25 0l.25 0l.25-.73l.25 1.46l.25 0l.25 0l.25-.73l.25 0l.25 0l.25 .73l.25 0l.25 0l.25 0l.25 0l.25-.73l.25 0l.25 1.46l.25-.73l.25 0l.25 0l.25 0l.25 0l.25 .73l.25-.73l.25 0l.25 0l.25 0l.25 0l.25 .73l.25 0l.25 .73l.25-.73l.25 0l.25 0l.25 0l.25 0l.25 0l.25 0l.25 0l.25 .73l.25-.73l.25 0l.25 0l.25 .73l.25-.73l.25 .73l.25 0l.25-.73l.25 0l.25 2.19l.25-1.46l.25 0l.25 0l.25 0l.25 0l.25 0l.25 .73l.25 0l.25-.73l.25-.73l.25 .73l.25 0l.25 0l.25 .73l.25-.73l.25-.73l.25 .73l.25 0l.25 0l.25 0l.25 .73l.25-1.46l.25 1.46l.25 0l.25-.73l.25 .73l.25-.73l.25 .73l.25 0l.25 0l.25 0l.25 0l.25 0l.25 0l.25 0l.25 0l.25 0l.25-.73l.25 .73l.25 0l.25-.73l.25 .73l.25-.73l.25 .73l.25 0l.25 0l.25 0l.25 0l.25 0l.25 0l.25 0l.25 0l.25 0l.25 0l.25 0l.25 0l.25 0l.25 0l.25 .73l.25 0l.25-.73l.25 .73l.25-.73l.25 0l.25 0l.25 0l.25 0l.25 .73l.25-.73l.25 .73l.25-.73l.25 .73l.25 0l.25 0l.25 0l.25 0l.25-.73l.25 1.46l.25-1.46l.25 .73l.25-.73l.25 .73l.25 0l.25-.73l.25 .73l.25 0l.25 0l.25 0l.25 0l.25-.73l.25 0l.25 .73l.25-.73l.25 .73l.25-.73l.25 .73l.25 .73l.25-.73l.25 .73l.25-.73l.25 0l.25 0l.25 .73l.25-.73l.25 0l.25 .73l.25-.73l.25-.73l.25 .73l.25 0l.25 0l.25 0l.25 0l.25 0l.25 .73l.25-1.46l.25 .73l.25 0l.25 0l.25 0l.25 0l.25 0l.25 0l.25 0l.25 0l.25 0l.25 0l.25 .73l.25-.73l.25 0l.25 0l.25 0l.25 0l.25 0l.25 0l.25-.73l.25 1.46l.25 0l.25 0l.25-.73l.25 0l.25 .73l.25-.73l.25 .73l.25-.73l.25 .73l.25 0l.25-.73l.25 0l.25 0l.25 0l.25 .73l.25-.73l.25 0l.25 0l.25 .73l.25 0l.25 0l.25-.73l.25 0l.25 .73l.25-.73l.25 0l.25 .73l.25 0l.25 0l.25-.73l.25 .73l.25 0l.25 0l.25-.73l.25 0l.25 .73l.25 0l.25 0l.25 0l.25 0l.25 0l.25 0l.25 0l.25-.73l.25 0l.25 1.46l.25-.73l.25-1.46l.25 1.46l.25 0l.25-.73l.25 .73l.25 0l.25-.73l.25 0l.25 .73l.25 0l.25 0l.25 0l.25-.73l.25 .73l.25 0l.25 0l.25 0l.25 0l.25 0l.25 1.46l.25-1.46l.25-.73l.25 .73l.25-.73l.25 .73l.25 .73l.25-.73l.25 .73l.25-.73l.25 .73l.25-.73l.25 0l.25 0l.25 0l.25 .73l.25-.73l.25 0l.25 0l.25 .73l.25 0l.25-.73l.25 0l.25 0l.25 0l.25 0l.25 .73l.25 0l.25-.73l.25 0l.25 .73l.25-.73l.25 .73l.25-.73l.25 .73l.25-.73l.25 0l.25 1.46l.25-.73l.25 0l.25 0l.25 0l.25-.73l.25 .73l.25 0l.25-.73l.25 0l.25 .73l.25 0l.25 0l.25-.73l.25 .73l.25 .73l.25-1.46l.25 .73l.25 0l.25-.73l.25 .73l.25 0l.25 0l.25 0l.25 0l.25 0l.25 0l.25 .73l.25-.73l.25 0l.25 .73l.25 0l.25 0l.25 0l.25-.73l.25 .73l.25 0l.25 0l.25-.73l.25 .73l.25 0l.25-.73l.25 .73l.25-.73l.25 0l.25 0l.25 .73l.25-.73l.25 0l.25 0l.25 0l.25 0l.25 .73l.25-.73l.25 .73l.25 0l.25 0l.25 0l.25-.73l.25 .73l.25 0l.25-.73l.25 0l.25 .73l.25 0l.25 0l.25 0l.25 0l.25 .73l.25-.73l.25 0l.25 .73l.25-.73l.25 0l.25-.73l.25-1.46l.25 2.92l.25-.73l.25 0l.25 0l.25-.73l.25 .73l.25 0l.25 0l.25 .73l.25-.73l.25 0l.25 0l.25 .73l.25-1.46l.25 .73l.25 0l.25 0l.25 0l.25 0l.25 0l.25 0l.25 0l.25 0l.25 0l.25 0l.25 0l.25 0l.25 0l.25 .73l.25-.73l.25 0l.25 0l.25 .73l.25-.73l.25 0l.25 0l.25 .73l.25-.73l.25 .73l.25-.73l.25 0l.25 0l.25-.73l.25 .73l.25 0l.25 .73l.25 0l.25-.73l.25 0l.25 0l.25 0l.25 0l.25 0l.25 0l.25 .73l.25-.73l.25 0l.25 0l.25 .73l.25-.73l.25 .73l.25-.73l.25 0l.25 0l.25 0l.25 0l.25 .73l.25-.73l.25-.73l.25 .73l.25 0l.25 0l.25 0l.25 0l.25 0l.25 0l.25 0l.25 0l.25 0l.25 0l.25 0l.25 0l.25 0l.25 0l.25 0l.25 0l.25-.73l.25 0l.25 .73l.25 0l.25 0l.25-.73l.25 0l.25 0l.25 0l.25 .73l.25-.73l.25 .73l.25 0l.25-.73l.25 0l.25 .73l.25 0l.25 0l.25 0l.25 0l.25-.73l.25 .73l.25 0l.25-.73l.25 0l.25 0l.25 .73l.25-.73l.25 0l.25 .73l.25-.73l.25 0l.25 .73l.25 0l.25-.73l.25 0l.25 0l.25 0l.25 0l.25-.73l.25 0l.25 .73l.25 0l.25 0l.25 0l.25-.73l.25 0l.25 0l.25 0l.25 .73l.25-.73l.25 0l.25 .73l.25-.73l.25 0l.25 .73l.25 0l.25-.73l.25 1.46l.25-2.19l.25 .73l.25 0l.25 0l.25 0l.25 0l.25 .73l.25 0l.25-.73l.25 .73l.25-1.46l.25 .73l.25 0l.25 0l.25 0l.25 0l.25 0l.25-.73l.25 0l.25 .73l.25 0l.25 0l.25 0l.25-.73l.25 0l.25 0l.25 .73l.25 0l.25-.73l.25 .73l.25-.73l.25 0l.25 .73l.25 0l.25 1.46l.25-1.46l.25 0l.25 0l.25-.73l.25 0l.25 0l.25-.73l.25 .73l.25-.73l.25 .73l.25-.73l.25 .73l.25-.73l.25 .73l.25 0l.25 0l.25 0l.25 0l.25 0l.25-.73l.25 .73l.25 0l.25-.73l.25 .73l.25-.73l.25 .73l.25-.73l.25 0l.25 0l.25 0l.25 0l.25 0l.25 .73l.25-.73l.25 0l.25 .73l.25-.73l.25 0l.25 0l.25 0l.25 0l.25 0l.25 0l.25 0l.25-.73l.25 .73l.25-.73l.25 0l.25 .73l.25 0l.25 0l.25-.73l.25 0l.25 0l.25 0l.25 0l.25 0l.25-.73l.25 .73l.25 0l.25 0l.25 0l.25 0l.25 0l.25-.73l.25 .73l.25-.73l.25 .73l.25 .73l.25-.73l.25 0l.25 0l.25-.73l.25 0l.25-.73l.25 1.46l.25-.73l.25 0l.25 .73l.25-.73l.25 .73l.25 0l.25-.73l.25-.73l.25 0l.25 .73l.25-.73l.25 .73l.25 0l.25 0l.25-.73l.25 0l.25 .73l.25-.73l.25 0l.25 0l.25 0l.25 0l.25 0l.25 0l.25 0l.25-.73l.25 .73l.25 0l.25 0l.25 0l.25 0l.25 0l.25-.73l.25 0l.25 .73l.25 0l.25 0l.25-.73l.25 .73l.25 0l.25-.73l.25 0l.25 0l.25 0l.25 0l.25-.73l.25 .73l.25-.73l.25 .73l.25 0l.25 0l.25 0l.25 0l.25 0l.25-.73l.25 .73l.25-.73l.25 0l.25 0l.25 0l.25 .73l.25-.73l.25 0l.25 0l.25 0l.25 0l.25-.73l.25 .73l.25 0l.25 0l.25-.73l.25 .73l.25 0l.25 0l.25-.73l.25 0l.25 0l.25 .73l.25-.73l.25 .73l.25-.73l.25 .73l.25 0l.25-.73l.25 0l.25 0l.25 0l.25 .73l.25-1.46l.25 .73l.25 .73l.25-.73l.25 .73l.25-.73l.25 0l.25 0l.25 0l.25 0l.25 1.46l.25-2.19l.25 .73l.25-.73l.25 .73l.25 0l.25 0l.25 0l.25 0l.25 0l.25-.73l.25-.73l.25 .73l.25 .73l.25 0l.25-.73l.25 0l.25 .73l.25-.73l.25 0l.25 0l.25 0l.25 0l.25-1.46l.25 1.46l.25-.73l.25 .73l.25-.73l.25-1.46l.25 2.19l.25-1.46l.25 .73l.25 0l.25 0l.25-.73l.25 0l.25 .73l.25 0l.25 0l.25 0l.25 0l.25-.73l.25 0l.25 .73l.25-.73l.25 0l.25 0l.25 0l.25 0l.25 0l.25 .73l.25-.73l.25 0l.25 0l.25 0l.25-.73l.25 0l.25 0l.25 0l.25 .73l.25 0l.25 0l.25-.73l.25 0l.25 .73l.25 0l.25-.73l.25 0l.25 0l.25 0l.25 0l.25 0l.25 0l.25 0l.25-.73l.25 .73l.25 0l.25 0l.25 0l.25-.73l.25 0l.25 0l.25 0l.25 0l.25 0l.25-.73l.25 .73l.25 0l.25 0l.25 0l.25 0l.25 0l.25 0l.25-.73l.25 0l.25 .73l.25-.73l.25 0l.25 .73l.25-.73l.25-.73l.25 .73l.25-.73l.25 .73l.25 0l.25 0l.25-.73l.25 0l.25 1.46l.25-1.46l.25 0l.25 0l.25 0l.25 .73l.25-.73l.25 0l.25 0l.25 0l.25 0l.25 0l.25 0l.25 0l.25 0l.25-.73l.25 .73l.25-.73l.25-1.46l.25 2.19l.25-.73l.25 0l.25 .73l.25-.73l.25 0l.25 0l.25 0l.25 0l.25 0l.25 .73l.25-1.46l.25 .73l.25-.73l.25 0l.25 .73l.25 0l.25-.73l.25 .73l.25-.73l.25 0l.25 0l.25 0l.25 0l.25 0l.25 0l.25 0l.25 0l.25 0l.25 0l.25 0l.25-.73l.25 .73l.25-.73l.25 .73l.25-.73l.25 0l.25 0l.25 0l.25 0l.25 0l.25 0l.25 0l.25 0l.25 0l.25 0l.25 0l.25-.73l.25 0l.25 .73l.25-.73l.25 0l.25 0l.25 0l.25 0l.25 0l.25 .73l.25-.73l.25 .73l.25-.73l.25 0l.25 0l.25 0l.25 0l.25 0l.25-.73l.25 .73l.25 0l.25 0l.25-.73l.25 .73l.25 0l.25-.73l.25 0l.25 0l.25 0l.25 0l.25 0l.25 0l.25 0l.25-.73l.25 .73l.25 0l.25-.73l.25 1.46l.25-.73l.25-.73l.25 0l.25 .73l.25 0l.25-.73l.25 0l.25 0l.25-.73l.25 .73l.25 0l.25 0l.25 0l.25 0l.25 0l.25 0l.25 0l.25-.73l.25 0" stroke="#0000ff" stroke-width="1.25"/>
<path d="M80.5 410.99l.25 0l.25 0l.25 0l.25 0l.25 0l.25 0l.25 0l.25 0l.25 0l.25 0l.25 0l.25 .73l.25-.73l.25 .73l.25-.73l.25 0l.25 0l.25 0l.25 0l.25-.73l.25 0l.25 .73l.25-.73l.25 0l.25 .73l.25 0l.25 .73l.25-1.46l.25 0l.25 0l.25-.73l.25 0l.25 .73l.25 0l.25 0l.25 0l.25-.73l.25 .73l.25-.73l.25 0l.25 .73l.25 0l.25-.73l.25 0l.25-.73l.25 .73l.25-.73l.25 1.46l.25-.73l.25-.73l.25 0l.25 .73l.25 0l.25 .73l.25-.73l.25 0l.25 .73l.25-.73l.25 0l.25-.73l.25 1.46l.25-.73l.25-.73l.25 0l.25 0l.25 0l.25 .73l.25-.73l.25 .73l.25-.73l.25 0l.25 .73l.25-1.46l.25-.73l.25 2.19l.25-1.46l.25 0l.25 .73l.25-.73l.25 0l.25 .73l.25-.73l.25 .73l.25-.73l.25 0l.25 .73l.25 0l.25-.73l.25 0l.25 0l.25 0l.25-.73l.25 1.46l.25-.73l.25 0l.25 .73l.25-.73l.25 0l.25 0l.25-.73l.25 .73l.25 0l.25 0l.25 .73l.25-1.46l.25 0l.25 .73l.25-1.46l.25 .73l.25 0l.25 0l.25 0l.25 0l.25 0l.25 0l.25-.73l.25 .73l.25-1.46l.25 1.46l.25 0l.25-.73l.25 0l.25 .73l.25 0l.25-.73l.25 0l.25 0l.25-.73l.25 .73l.25-.73l.25 1.46l.25-.73l.25 .73l.25 0l.25-1.46l.25 .73l.25-.73l.25 0l.25 0l.25 .73l.25 .73l.25-1.46l.25 .73l.25-.73l.25 .73l.25 0l.25-.73l.25 0l.25-.73l.25 0l.25 .73l.25 .73l.25-.73l.25-.73l.25 .73l.25-.73l.25 0l.25 .73l.25 0l.25 0l.25 0l.25-.73l.25 .73l.25 0l.25-.73l.25 .73l.25-1.46l.25 1.46l.25 0l.25-.73l.25 0l.25-.73l.25 .73l.25 .73l.25 0l.25-.73l.25 0l.25-.73l.25 .73l.25-.73l.25 0l.25 .73l.25 .73l.25-1.46l.25 .73l.25-.73l.25 .73l.25 0l.25-.73l.25 .73l.25-.73l.25-.73l.25 .73l.25 .73l.25-.73l.25 .73l.25-.73l.25-.73l.25 0l.25 .73l.25 0l.25 0l.25 0l.25 0l.25 0l.25 0l.25-.73l.25 .73l.25 0l.25 1.46l.25-1.46l.25-.73l.25 0l.25 0l.25-.73l.25 .73l.25 0l.25-.73l.25 1.46l.25-.73l.25 0l.25 0l.25 .73l.25 0l.25-1.46l.25 1.46l.25-.73l.25 0l.25-.73l.25 .73l.25-.73l.25 0l.25 0l.25 0l.25 0l.25 0l.25 .73l.25-.73l.25 .73l.25-1.46l.25 .73l.25-.73l.25 .73l.25-.73l.25-.73l.25 1.46l.25-.73l.25 0l.25-.73l.25 .73l.25 0l.25 0l.25 .73l.25 0l.25 0l.25-.73l.25 0l.25 0l.25 0l.25 0l.25-.73l.25 1.46l.25-1.46l.25 0l.25 0l.25 .73l.25-.73l.25 0l.25 0l.25 .73l.25-1.46l.25 0l.25 0l.25 .73l.25 0l.25 0l.25 0l.25-.73l.25 .73l.25 0l.25-2.92l.25 2.92l.25 0l.25-1.46l.25 0l.25 1.46l.25-.73l.25 0l.25 0l.25 .73l.25-.73l.25 0l.25-.73l.25 0l.25-.73l.25 1.46l.25-.73l.25 0l.25 .73l.25-1.46l.25 1.46l.25-.73l.25-.73l.25 1.46l.25 0l.25-.73l.25-.73l.25 .73l.25 0l.25-1.46l.25 .73l.25 0l.25-.73l.25 .73l.25 0l.25 0l.25 .73l.25 0l.25-.73l.25 0l.25-.73l.25 0l.25 1.46l.25-1.46l.25 0l.25 0l.25 0l.25 .73l.25-.73l.25 .73l.25-.73l.25-.73l.25 .73l.25 .73l.25-1.46l.25 .73l.25 0l.25 0l.25-.73l.25 0l.25 .73l.25 0l.25-.73l.25 0l.25 0l.25 0l.25 .73l.25 .73l.25-.73l.25-.73l.25 0l.25 0l.25 .73l.25 0l.25-.73l.25-.73l.25 .73l.25 .73l.25-.73l.25 0l.25 0l.25-.73l.25 0l.25 .73l.25 0l.25 .73l.25-1.46l.25 0l.25 0l.25 0l.25 0l.25 0l.25 .73l.25-1.46l.25 1.46l.25 0l.25-.73l.25 0l.25 0l.25 .73l.25 0l.25-.73l.25-.73l.25 .73l.25 0l.25 0l.25 0l.25 0l.25-.73l.25 .73l.25 .73l.25-1.46l.25 .73l.25-.73l.25 .73l.25-.73l.25 0l.25 0l.25 .73l.25-.73l.25 0l.25 0l.25 0l.25 0l.25 0l.25-.73l.25 1.46l.25-.73l.25 .73l.25 0l.25-.73l.25 1.46l.25-1.46l.25 0l.25 0l.25 0l.25 0l.25 .73l.25-1.46l.25 .73l.25-.73l.25 0l.25 .73l.25 0l.25-.73l.25 .73l.25-.73l.25 .73l.25 0l.25 0l.25-.73l.25 0l.25 .73l.25 0l.25-1.46l.25 0l.25 2.19l.25-.73l.25-.73l.25 0l.25 0l.25 0l.25 0l.25-.73l.25 1.46l.25-1.46l.25 .73l.25 0l.25 0l.25 0l.25 0l.25-.73l.25 .73l.25 0l.25 0l.25 .73l.25 0l.25-.73l.25 .73l.25 0l.25-.73l.25 0l.25-.73l.25 .73l.25-.73l.25 .73l.25-.73l.25 .73l.25-.73l.25 0l.25 .73l.25-.73l.25 .73l.25 0l.25-.73l.25 0l.25 0l.25 0l.25 .73l.25 0l.25 .73l.25-1.46l.25 0l.25 .73l.25 0l.25 0l.25-.73l.25 .73l.25 0l.25 0l.25 0l.25-.73l.25 .73l.25-2.92l.25 2.19l.25 0l.25 0l.25 0l.25-.73l.25 .73l.25 0l.25 .73l.25-.73l.25 0l.25 .73l.25-.73l.25-.73l.25 0l.25 .73l.25 0l.25-.73l.25 .73l.25-.73l.25 .73l.25 0l.25-.73l.25 1.46l.25-.73l.25-1.46l.25 1.46l.25 0l.25-.73l.25 .73l.25 .73l.25-.73l.25 0l.25 0l.25 0l.25 0l.25 0l.25-.73l.25 1.46l.25-1.46l.25 0l.25 0l.25 2.92l.25-2.92l.25 0l.25 0l.25 0l.25 2.19l.25-2.19l.25 .73l.25-.73l.25 .73l.25 0l.25-.73l.25 .73l.25-1.46l.25 .73l.25 0l.25 .73l.25-.73l.25 0l.25 0l.25 .73l.25 0l.25-1.46l.25 1.46l.25-.73l.25 .73l.25-.73l.25-.73l.25 1.46l.25-.73l.25 .73l.25-.73l.25 0l.25 0l.25 0l.25 .73l.25-.73l.25 0l.25 0l.25 0l.25-.73l.25 2.92l.25-2.19l.25 .73l.25-1.46l.25 .73l.25 0l.25 .73l.25-1.46l.25 1.46l.25-.73l.25 .73l.25-.73l.25 0l.25-.73l.25 .73l.25 0l.25-.73l.25 .73l.25-.73l.25 .73l.25-.73l.25 0l.25 0l.25 .73l.25-.73l.25-.73l.25 .73l.25 .73l.25 0l.25-.73l.25 .73l.25-.73l.25 0l.25 0l.25-2.19l.25 2.19l.25 0l.25 0l.25 0l.25 .73l.25 0l.25 1.46l.25-2.19l.25 .73l.25 0l.25-2.19l.25 1.46l.25 0l.25 0l.25 0l.25 0l.25 .73l.25 0l.25-.73l.25-.73l.25 0l.25 0l.25 .73l.25 0l.25 .73l.25-.73l.25-.73l.25 .73l.25 0l.25-.73l.25 1.46l.25-.73l.25 0l.25 0l.25 0l.25-.73l.25 1.46l.25 0l.25-.73l.25 0l.25 0l.25 .73l.25-.73l.25 0l.25 0l.25-.73l.25 0l.25 0l.25 1.46l.25-1.46l.25 0l.25 .73l.25 0l.25-.73l.25 0l.25-.73l.25 1.46l.25-.73l.25 .73l.25-.73l.25 0l.25 0l.25 .73l.25 0l.25 .73l.25-1.46l.25 0l.25 0l.25 .73l.25 0l.25-.73l.25 0l.25 0l.25 0l.25 .73l.25-.73l.25 0l.25 .73l.25 0l.25 0l.25 0l.25-.73l.25 0l.25-.73l.25 .73l.25 0l.25-.73l.25 .73l.25-.73l.25 2.19l.25-1.46l.25-.73l.25 .73l.25 0l.25 0l.25 0l.25-1.46l.25 2.19l.25-1.46l.25 .73l.25 0l.25 0l.25 0l.25 0l.25-1.46l.25 .73l.25 .73l.25 .73l.25-.73l.25-.73l.25 0l.25 .73l.25 0l.25 0l.25-1.46l.25 2.19l.25-1.46l.25 .73l.25-.73l.25 0l.25 0l.25 0l.25 .73l.25 .73l.25-.73l.25 0l.25 0l.25 0l.25-.73l.25 .73l.25 0l.25-.73l.25-.73l.25 1.46l.25-.73l.25 .73l.25 0l.25-.73l.25 .73l.25-.73l.25 0l.25 .73l.25 0l.25-.73l.25 0l.25 .73l.25-.73l.25 0l.25 .73l.25-2.92l.25 2.92l.25 0l.25 0l.25 0l.25 .73l.25-.73l.25 0l.25-.73l.25 .73l.25-.73l.25 0l.25 0l.25 2.19l.25-1.46l.25 0l.25-.73l.25 .73l.25-.73l.25 .73l.25 0l.25 0l.25 0l.25 0l.25 0l.25 0l.25-.73l.25 .73l.25 .73l.25-.73l.25 0l.25 .73l.25 0l.25 0l.25-.73l.25 .73l.25-2.19l.25 1.46l.25 0l.25 0l.25-.73l.25 1.46l.25 0l.25-.73l.25 0l.25 0l.25 0l.25 .73l.25 .73l.25-.73l.25-.73l.25 0l.25 .73l.25-.73l.25-.73l.25 1.46l.25 1.46l.25-1.46l.25 .73l.25-1.46l.25 0l.25 0l.25 .73l.25 0l.25 0l.25 .73l.25-.73l.25 0l.25 0l.25 0l.25 0l.25 .73l.25 0l.25-.73l.25 1.46l.25-2.19l.25 .73l.25 0l.25 0l.25 .73l.25 .73l.25-.73l.25 0l.25 0l.25-.73l.25 .73l.25-.73l.25 0l.25 .73l.25 0l.25-.73l.25 1.46l.25-.73l.25 .73l.25-.73l.25 .73l.25-1.46l.25 0l.25 .73l.25 0l.25 0l.25-.73l.25 .73l.25 0l.25 0l.25 .73l.25 0l.25-1.46l.25 .73l.25 0l.25 0l.25 .73l.25 0l.25-1.46l.25 1.46l.25 0l.25-.73l.25 .73l.25 0l.25-1.46l.25 1.46l.25 .73l.25-.73l.25-.73l.25 .73l.25 0l.25 0l.25 .73l.25-.73l.25-.73l.25 1.46l.25-.73l.25 0l.25 .73l.25-.73l.25 0l.25 .73l.25-.73l.25 0l.25 .73l.25-.73l.25 0l.25 0l.25 0l.25 .73l.25 0l.25 0l.25 0l.25-.73l.25 .73l.25 0l.25 0l.25 0l.25 .73l.25-.73l.25 .73l.25-.73l.25 0l.25 0l.25 0l.25 0l.25 .73l.25-.73l.25 0l.25 0l.25 0l.25 1.46l.25-.73l.25 .73l.25 0l.25-1.46l.25 1.46l.25 1.46l.25-2.19l.25 2.19l.25-2.19l.25-.73l.25 0l.25 .73l.25 0l.25 .73l.25-.73l.25 .73l.25 0l.25 0l.25-.73l.25 .73l.25 .73l.25-1.46l.25 .73l.25 0l.25 0l.25 0l.25 .73l.25-.73l.25 0l.25 .73l.25-1.46l.25 1.46l.25-.73l.25 0l.25 .73l.25-.73l.25 0l.25 0l.25-.73l.25 1.46l.25-.73l.25 .73l.25 0l.25 .73l.25-.73l.25 .73l.25 0l.25-.73l.25 .73l.25 0l.25 0l.25 .73l.25 0l.25-.73l.25 0l.25 0l.25 0l.25 0l.25 .73l.25 0l.25 0l.25 0l.25 0l.25 0l.25 0l.25 0l.25 .73l.25-.73l.25-.73l.25 1.46l.25 0l.25 0l.25-.73l.25 0l.25 0l.25 0l.25 .73l.25-.73l.25 .73l.25 0l.25 0l.25 0l.25 0l.25 0l.25 .73l.25 0l.25-1.46l.25 .73l.25 0l.25 0l.25 0l.25 .73l.25-.73l.25 .73l.25-.73l.25 0l.25 .73l.25 0l.25 0l.25-.73l.25 1.46l.25-.73l.25 0l.25-.73l.25 .73l.25 .73l.25-.73l.25 0l.25 0l.25 0l.25 0l.25 1.46l.25 0l.25-1.46l.25 .73l.25-.73l.25 0l.25 0l.25 .73l.25 0l.25 0l.25 0l.25 .73l.25-1.46l.25 1.46l.25-.73l.25 .73l.25-.73l.25-.73l.25 .73l.25 0l.25 0l.25 0l.25 .73l.25-.73l.25 .73l.25 0l.25 0l.25 0l.25 .73l.25 0l.25-.73l.25-.73l.25 .73l.25 .73l.25 0l.25 0l.25 0l.25-.73l.25 0l.25 0l.25 0l.25 .73l.25 .73l.25-.73l.25-.73l.25 .73l.25-.73l.25 .73l.25 0l.25 0l.25 0l.25 0l.25-.73l.25 .73l.25 0l.25 .73l.25-.73l.25 .73l.25 0l.25 .73l.25-.73l.25 0l.25-.73l.25-.73l.25 .73l.25 0l.25 0l.25 .73l.25 0l.25-.73l.25 .73l.25-1.46l.25 1.46l.25 0l.25 0l.25-.73l.25 0l.25 0l.25 .73l.25 0l.25 0l.25 0l.25 0l.25 0l.25-.73l.25 1.46l.25-.73l.25 0l.25 .73l.25-.73l.25 0l.25 .73l.25 .73l.25-1.46l.25 .73l.25 0l.25 0l.25 0l.25-.73l.25 0l.25 1.46l.25-.73l.25-.73l.25 .73l.25-.73l.25 .73l.25-.73l.25 0l.25 0l.25 1.46l.25-.73l.25 0l.25-.73l.25 1.46l.25-.73l.25 0l.25 0l.25 0l.25 0l.25-.73l.25 .73l.25-.73l.25 1.46l.25 0l.25-.73l.25 .73l.25-.73l.25 0l.25 .73l.25 0l.25-2.19l.25 1.46l.25 0l.25 .73l.25 0l.25-.73l.25 .73l.25 0l.25 0l.25 0l.25-.73l.25 .73l.25 0l.25 0l.25 1.46l.25-2.19l.25 .73l.25 0l.25 0l.25 0l.25 0l.25 0l.25 0l.25 0l.25 0l.25-.73l.25 0l.25 .73l.25 0l.25-.73l.25 .73l.25 0l.25 0l.25 .73l.25-.73l.25 0l.25 1.46l.25-1.46l.25 0l.25 .73l.25-.73l.25 0l.25 0l.25 0l.25 0l.25 .73l.25-.73l.25 0l.25 0l.25 .73l.25-.73l.25 .73l.25 0l.25 0l.25 0l.25 0l.25 0l.25-.73l.25 1.46l.25-1.46l.25 .73l.25-.73l.25 .73l.25 0l.25 0l.25 0l.25 0l.25 0l.25 0l.25 0l.25 0l.25 0l.25 .73l.25-.73l.25 .73l.25-.73l.25-.73l.25 .73l.25 .73l.25-.73l.25 0l.25 0l.25 .73l.25-.73l.25 .73l.25-.73l.25 0l.25 0l.25 .73l.25-.73l.25 .73l.25 0l.25 0l.25 0l.25-.73l.25 .73l.25 0l.25-.73l.25 1.46l.25-.73l.25 0l.25 0l.25 0l.25 0l.25 0l.25 .73l.25 0l.25-1.46l.25 1.46l.25-1.46l.25 .73l.25 0l.25 .73l.25 0l.25 0l.25 0l.25 0l.25-.73l.25 .73l.25-.73l.25 0l.25 .73l.25-.73l.25 .73l.25 0l.25 .73l.25 0l.25-1.46l.25 0l.25 .73l.25 0l.25 .73l.25-.73l.25 0l.25 .73l.25-1.46l.25 .73l.25 .73l.25-.73l.25 0l.25-.73l.25 1.46l.25-.73l.25 0l.25 0l.25 0l.25 .73l.25 0l.25-1.46l.25 1.46l.25-.73l.25 0l.25 .73l.25-.73l.25 0l.25 .73l.25 0l.25-.73l.25 0l.25 0l.25 1.46l.25 0l.25-1.46l.25 0l.25 0l.25 0l.25 1.46l.25-.73l.25-1.46l.25 2.19l.25-.73l.25-.73l.25 .73l.25 0l.25 0l.25 .73l.25-2.19l.25 2.19l.25 0l.25-.73l.25 0l.25 .73l.25 0l.25 0l.25 0l.25-.73l.25 .73l.25 0l.25-.73l.25-.73l.25 1.46l.25 0l.25-.73l.25 .73l.25-.73l.25 0l.25 .73l.25-.73l.25 .73l.25-.73l.25 .73l.25-.73l.25 1.46l.25-.73l.25-.73l.25 .73l.25 0l.25 0l.25-.73l.25 0l.25 0l.25 .73l.25 0l.25 0l.25 0l.25 0l.25 0l.25 0l.25 0l.25 .73l.25 0l.25-.73l.25 .73l.25-1.46l.25 .73l.25-.73l.25 2.19l.25-1.46l.25 .73l.25 .73l.25-.73l.25-.73l.25 0l.25 0l.25 .73l.25 0l.25 0l.25 0l.25-.73l.25 .73l.25 0l.25-.73l.25 .73l.25 0l.25-.73l.25 0l.25 0l.25 0l.25 .73l.25-.73l.25 .73l.25 0l.25 0l.25 0l.25-.73l.25 .73l.25-.73l.25 1.46l.25-1.46l.25 .73l.25-.73l.25 .73l.25 0l.25-.73l.25 0l.25 .73l.25-.73l.25 0l.25 .73l.25 0l.25 .73l.25-.73l.25 0l.25 0l.25 0l.25 0l.25-1.46l.25 1.46l.25-.73l.25 0l.25 .73l.25 0l.25 .73l.25 0l.25-.73l.25 .73l.25-.73l.25-.73l.25 0l.25 .73l.25 0l.25 0l.25 0l.25-.73l.25 .73l.25 0l.25 0l.25-2.19l.25 2.19l.25 0l.25-1.46l.25 1.46l.25 0l.25 0l.25 0l.25 .73l.25-.73l.25 0l.25 0l.25 0l.25-.73l.25-.73l.25 1.46l.25-.73l.25-.73l.25 .73l.25 0l.25 0l.25 0l.25 0l.25-.73l.25 .73l.25 0l.25-.73l.25 0l.25 0l.25 0l.25 .73l.25-.73l.25 .73l.25-.73l.25 0l.25 .73l.25 0l.25-.73l.25 0l.25 0l.25 .73l.25-.73l.25-.73l.25 0l.25 1.46l.25-.73l.25-.73l.25 .73l.25 .73l.25-.73l.25 0l.25 0l.25 0l.25 0l.25-.73l.25 .73l.25 0l.25 0l.25-1.46l.25 .73l.25-.73l.25 1.46l.25 0l.25-.73l.25 0l.25 0l.25-.73l.25 .73l.25 0l.25 0l.25-.73l.25 0l.25 1.46l.25-1.46l.25 0l.25 .73l.25 .73l.25-.73l.25 0l.25 0l.25-.73l.25 0l.25 .73l.25-.73l.25 .73l.25-1.46l.25 .73l.25 0l.25 0l.25 0l.25 0l.25 .73l.25-1.46l.25 0l.25 0l.25 .73l.25-.73l.25 0l.25 0l.25 0l.25 0l.25 0l.25 1.46l.25-.73l.25-.73l.25 .73l.25 0l.25-.73l.25-.73l.25 .73l.25-.73l.25 .73l.25-.73l.25 .73l.25 0l.25-.73l.25 1.46l.25 0l.25-1.46l.25 0l.25 0l.25 0l.25 0l.25 .73l.25 0l.25-.73l.25 0l.25-.73l.25 .73l.25 0l.25 0l.25 .73l.25-.73l.25 0l.25 0l.25-.73l.25 .73l.25-.73l.25 .73l.25-.73l.25 0l.25 0l.25 .73l.25-.73l.25-.73l.25 0l.25 0l.25 1.46l.25-.73l.25 0l.25 .73l.25-.73l.25 0l.25 0l.25 .73l.25-.73l.25-.73l.25 .73l.25 0l.25 .73l.25-1.46l.25 0l.25 0l.25 0l.25 0l.25 0l.25-.73l.25 .73l.25 0l.25-.73l.25 0l.25 2.92l.25-2.19l.25-.73l.25 0l.25-.73l.25 .73l.25 .73l.25 0l.25 0l.25-.73l.25 0l.25 0l.25 .73l.25-.73l.25-.73l.25 0l.25 .73l.25 0l.25 .73l.25-1.46l.25-.73l.25 .73l.25 .73l.25-.73l.25 0l.25 0l.25 0l.25 .73l.25-.73l.25 0l.25 .73l.25-.73l.25-.73l.25 .73l.25-.73l.25 .73l.25 .73l.25-1.46l.25 .73l.25-.73l.25 0l.25 .73l.25-1.46l.25 .73l.25 .73l.25-.73l.25-.73l.25 .73l.25 0l.25 0l.25 0l.25 .73l.25-.73l.25 0l.25 0l.25-.73l.25 .73l.25 0l.25-.73l.25 .73l.25 0l.25-.73l.25 .73l.25-1.46l.25 .73l.25 0l.25 .73l.25-1.46l.25 .73l.25-.73l.25 0l.25-.73l.25 0l.25 1.46l.25-.73l.25 0l.25 0l.25 0l.25 0l.25 0l.25 0l.25 0l.25 0l.25-.73l.25 0l.25-.73l.25 .73l.25 0l.25 .73l.25-.73l.25 0l.25 0l.25 0l.25 0l.25-.73l.25 0l.25 0l.25 .73l.25 0l.25 0l.25 0l.25 0l.25-1.46l.25 .73l.25 0l.25 0l.25 0l.25 0l.25 .73l.25-.73l.25 0l.25 0l.25 0l.25-1.46l.25 .73l.25 0l.25 .73l.25-.73l.25 0l.25 1.46l.25-2.92l.25 .73l.25 1.46l.25-.73l.25-.73l.25 .73l.25 0l.25 0l.25 0l.25-.73l.25 0l.25 0l.25 0l.25-.73l.25 .73l.25 0l.25-.73l.25-.73l.25 1.46l.25-.73l.25 0l.25 .73l.25-1.46l.25 .73l.25 0l.25-.73l.25 0l.25 0l.25 0l.25 0l.25 0l.25 0l.25 0l.25 0l.25-.73l.25 .73l.25 0l.25 0l.25 0l.25-.73l.25 0l.25 0l.25 0l.25-.73l.25 .73l.25-.73l.25 1.46l.25-1.46l.25 .73l.25 0l.25 0l.25-1.46l.25 0l.25 1.46l.25-1.46l.25 .73l.25 0l.25-1.46l.25 .73l.25 0l.25 0l.25 0l.25-.73l.25 0l.25 .73l.25 .73l.25-1.46l.25 0l.25-.73l.25 .73l.25 0l.25 0l.25 0l.25 0l.25-.73l.25 .73l.25-1.46l.25 1.46l.25-1.46l.25 .73l.25-.73l.25 1.46l.25-.73l.25 0l.25 0l.25-.73l.25 0l.25 0l.25 0l.25 .73l.25-.73l.25 0l.25-.73l.25 0l.25 .73l.25 0l.25 0l.25-.73l.25 .73l.25 0l.25-.73l.25 0l.25-.73l.25 .73l.25-.73l.25 0l.25 .73l.25 0l.25-.73l.25-.73l.25 .73l.25 0l.25 .73l.25-.73l.25 0l.25 0l.25-.73l.25 1.46l.25-.73l.25 0l.25 0l.25-.73l.25 0l.25-.73l.25 .73l.25-.73l.25 0l.25 .73l.25-.73l.25 0l.25 0l.25 0l.25 .73l.25-.73l.25 0l.25 .73l.25-1.46l.25 0l.25 .73l.25-.73l.25 0l.25 .73l.25 0l.25-.73l.25 .73l.25-1.46l.25 .73l.25 .73l.25-.73l.25 0l.25 0l.25 0l.25-.73l.25 1.46l.25-.73l.25 0l.25-.73l.25-1.46l.25 2.19l.25-.73l.25-.73l.25 0l.25 .73l.25-.73l.25 .73l.25-.73l.25 .73l.25-.73l.25 0l.25 .73l.25 0l.25-.73l.25 0l.25 0l.25-.73l.25 .73l.25 0l.25-.73l.25 0l.25 0l.25 .73l.25-.73l.25 0l.25 0l.25 0l.25 0l.25-.73l.25-.73l.25 .73l.25 .73l.25-.73l.25 .73l.25-.73l.25 0l.25 0l.25 0l.25 0l.25 0l.25-.73l.25 .73l.25 .73l.25-.73l.25-.73l.25 0l.25 2.19l.25-4.38l.25 2.19l.25 0l.25-.73l.25 .73l.25 .73l.25-.73l.25 .73l.25-1.46l.25 0l.25 0l.25 .73l.25 1.46l.25-2.19l.25 0l.25 .73l.25-1.46l.25 .73l.25-.73l.25 .73l.25-.73l.25 .73l.25 0" stroke="#800080" stroke-width="1.3"/>
<path d="M80 150l.6-3.07l.15 1.26l.15 .73l.16 0l.15 1.46l.15-.73l.15 1.46l.15 .73l.15 .73l.16 .73l.15 .73l.15 0l.15 0l.15 .73l.16 0l.15 .73l.15 0l.15 0l.15 .73l.16 .73l.15 0l.15 0l.15 .73l.15 0l.15 0l.16 0l.15 .73l.15-.73l.7-9.32l.15 .56l.16 .73l.15 .73l.16 .73l.15 0l.15 .73l.16 .73l.15 .73l.15 0l.16 .73l.15 .73l.16 0l.15 0l.15 1.46l.16 0l.15 0l.16 0l.15 .73l.15-.73l.16 .73l.15 0l.15 .73l.16 0l.15 0l.16 .73l.15 0l.7-11.3l.15 1.08l.15 .73l.16 0l.15 1.46l.15 0l.15 .73l.15 .73l.16 0l.15 1.46l.15 0l.15 .73l.15 0l.15 0l.16 .73l.15 .73l.15 0l.15 0l.15 .73l.16 0l.15 0l.15 .73l.15 0l.15 0l.16 .73l.15-.73l.15 1.46l.7-10.23l.15 1.47l.15 0l.16 .73l.15 .73l.15 .73l.15 0l.15 0l.16 .73l.15 .73l.15 .73l.15 0l.15 .73l.15 .73l.16 0l.15 0l.15 .73l.15 0l.15-.73l.16 .73l.15 .73l.15 0l.15 0l.15 0l.16 .73l.15 0l.15 0l.7-10.39l.15 .9l.16 .73l.15 .73l.16 .73l.15 0l.15 .73l.16 .73l.15 0l.15 .73l.16 .73l.15 .73l.16 0l.15 0l.15 1.46l.16 .73l.15-.73l.16 .73l.15 .73l.15-.73l.16 .73l.15-.73l.15 .73l.16 0l.15 .73l.16 0l.15 0l.7-10.45l.15 .96l.15 0l.16 1.46l.15 .73l.15 1.46l.15 0l.16 .73l.15 .73l.15 .73l.15 0l.15 .73l.16 0l.15 .73l.15 0l.15 .73l.15 .73l.16 .73l.15-.73l.15 0l.15 .73l.16 0l.15 0l.15 .73l.7-11.23l.16 1.01l.15 .73l.16 1.46l.16 0l.15 .73l.16 .73l.16 .73l.15 0l.16 1.46l.16 0l.15 .73l.16 0l.15 .73l.16 .73l.16 0l.15 .73l.16-.73l.16 .73l.15 0l.16 0l.16 .73l.15 0l.16 .73l.7-11.84l.15 .89l.15 1.46l.16 0l.15 0l.15 1.46l.15 0l.15 1.46l.16 0l.15 .73l.15 .73l.15 .73l.15 0l.15 .73l.16 0l.15 0l.15 .73l.15 0l.15 .73l.16 0l.15 0l.15 .73l.15 0l.15 0l.16 .73l.15 0l.15 .73l.7-11.37l.15 .42l.15 1.46l.16 0l.15 .73l.15 .73l.15 .73l.15 .73l.16 0l.15 .73l.15 .73l.15 .73l.15 0l.15 .73l.16 0l.15 0l.15 .73l.15 0l.15 .73l.16 0l.15 0l.15 .73l.15 0l.15 0l.16 .73l.15 0l.15-.73l.7-10.36l.16 .87l.15 0l.16 .73l.15 1.46l.16 .73l.15 0l.16 .73l.15 .73l.16 .73l.15 0l.16 .73l.15 0l.16 0l.15 .73l.16 .73l.15 0l.16 0l.15 .73l.16 .73l.15 0l.16 0l.15 .73l.16 0l.15 0l.16 0l.15 0l.16 .73l.15 0l.16 0l.7-10.32l.15 .83l.16 .73l.15 .73l.15 .73l.16 .73l.15 0l.15 .73l.16 0l.15 1.46l.15 0l.16 0l.15 .73l.15 .73l.16 0l.15 0l.16 .73l.15 0l.15 0l.16 .73l.15 .73l.15-.73l.16 .73l.15 0l.15 0l.16 .73l.15 0l.15 .73l.16 0l.15 0l.7-11.03l.15 .08l.15 1.46l.15 0l.15 .73l.15 0l.15 .73l.15 .73l.15 0l.15 0l.15 .73l.15 .73l.15 0l.15 0l.15 .73l.15 .73l.15 0l.15 0l.15 0l.15 0l.15 0l.15 .73l.15 .73l.15 0l.15 0l.15 .73l.15 0l.15 0l.15 0l.15 0l.15 .73l.15-.73l.15 1.46l.15-.73l.15 0l.15 .73l.15-.73l.15 .73l.7-9.54l.15 .78l.15 0l.15 .73l.15 .73l.15 .73l.15 0l.15 .73l.15 0l.15 .73l.15 0l.15 .73l.15 0l.15 .73l.15-.73l.15 .73l.15 .73l.15 0l.15 0l.15 0l.15 0l.15 .73l.15 0l.15 0l.15 .73l.15 0l.15 0l.15 .73l.15 .73l.15-.73l.15 0l.15 .73l.15 0l.15-.73l.15 .73l.15 0l.15 .73l.15 0l.7-10.77l.15 .55l.15 0l.15 .73l.15 .73l.15 .73l.15 0l.15 .73l.15 0l.15 .73l.15 .73l.15 0l.15 0l.15 .73l.15 0l.15 .73l.15 0l.15 0l.15 .73l.15 0l.15 .73l.15 0l.15 0l.15 .73l.15 0l.15 .73l.15 0l.15-.73l.15 0l.15 1.46l.15 0l.15 0l.15 0l.15 0l.15 0l.15 .73l.15-.73l.15 .73l.7-11.15l.15 .93l.15 0l.15 .73l.15 .73l.15 0l.15 .73l.15 0l.15 .73l.15 .73l.15 0l.15 .73l.15 0l.15 0l.15 .73l.15 0l.15 .73l.15 0l.15 .73l.15 0l.15 .73l.15 0l.15 0l.15 .73l.15 0l.15 0l.15 0l.15 0l.15 0l.15 .73l.15 0l.15 0l.15 0l.15 0l.15 0l.15 1.46l.15-.73l.15 .73l.7-10.89l.15 .67l.16 0l.15 1.46l.15 0l.15 .73l.16 0l.15 .73l.15 0l.15 .73l.16 0l.15 .73l.15 0l.15 .73l.16 0l.15 .73l.15 0l.15 0l.16 .73l.15 0l.15 0l.16 .73l.15 0l.15 .73l.15 0l.16 0l.15 0l.15 .73l.15 0l.16 .73l.15-.73l.15 .73l.15 0l.16 0l.15 0l.15 0l.15 0l.16 0l.15 .73l.7-11.58l.15 .63l.15 0l.15 1.46l.15 0l.15 .73l.15 0l.15 .73l.15 .73l.15 0l.15 .73l.15 0l.15 .73l.15 0l.15 0l.15 .73l.15 0l.15 0l.15 .73l.15 .73l.15 0l.15 .73l.15 0l.15 0l.15 .73l.15-.73l.15 .73l.15 0l.15 0l.15 .73l.15 0l.15 0l.15 0l.15 0l.15 0l.15 .73l.15 0l.15 0l.15 .73l.15 0l.15 .73l.15-1.46l.7-9.69l.15 .2l.15 0l.15 1.46l.15 0l.16 .73l.15 0l.15 .73l.15 0l.15 .73l.15 0l.15 0l.15 .73l.16 0l.15 .73l.15 0l.15 .73l.15 0l.15-.73l.15 1.46l.15 0l.16 0l.15 0l.15 .73l.15 0l.15 0l.15 0l.15 0l.15 .73l.16-.73l.15 .73l.15 .73l.15 0l.15-.73l.15 .73l.15 0l.15 0l.16 0l.15 0l.15 1.46l.15-.73l.15 0l.7-9.96l.15 1.2l.16 0l.15 .73l.15 .73l.15 0l.16 0l.15 1.46l.15 0l.15 .73l.16 0l.15 0l.15 .73l.15 0l.16 0l.15 1.46l.15 0l.15 0l.16 .73l.15 0l.15 .73l.16-.73l.15 0l.15 .73l.15 0l.16 0l.15 .73l.15 0l.15 0l.16 0l.15 .73l.15 0l.15 .73l.16-.73l.15 0l.15 0l.15 0l.16 .73l.15 0l.7-11.46l.15-.22l.15 1.46l.15 0l.15 .73l.16 .73l.15 0l.15 .73l.15 0l.15 0l.15 .73l.15 .73l.15 .73l.16-.73l.15 .73l.15 .73l.15 0l.15 0l.15 .73l.15 .73l.15 0l.16 0l.15 0l.15 0l.15 .73l.15 0l.15 0l.15 .73l.15 0l.16 0l.15 .73l.15 0l.15 0l.15 0l.15 .73l.15 0l.15 0l.16 0l.15 0l.15-.73l.15 .73l.15 0l.7-10.21l.15 .72l.15 0l.15 .73l.16 .73l.15 .73l.15 0l.15 0l.15 .73l.15 .73l.15 0l.15 .73l.16 0l.15 0l.15 .73l.15 0l.15 0l.15 .73l.15 0l.15 .73l.16-.73l.15 1.46l.15 0l.15 0l.15 0l.15 0l.15 0l.15 .73l.16 0l.15 0l.15 0l.15 .73l.15 0l.15 0l.15 0l.15 .73l.16 0l.15 0l.15 0l.15 .73l.7-11.21l.15 .26l.15 .73l.15 .73l.15 .73l.16-.73l.15 .73l.15 .73l.15 0l.15 0l.15 .73l.15 .73l.15-.73l.15 .73l.15 0l.16 .73l.15 .73l.15 0l.15-.73l.15 .73l.15 .73l.15 0l.15 .73l.15 0l.16 0l.15 0l.15 0l.15 .73l.15 .73l.15-.73l.15 0l.15 0l.15 .73l.16 .73l.15-.73l.15 .73l.15-.73l.15 .73l.15 0l.15 0l.15 .73l.15 0l.15 .73l.16-.73l.15 0l.15 0l.15 0l.15 .73l.7-11.44l.15 .49l.15 0l.15 1.46l.15 0l.16 0l.15 0l.15 .73l.15 .73l.15 0l.15 .73l.15 0l.15 .73l.15 0l.15 .73l.16 0l.15 0l.15 .73l.15 0l.15 0l.15 .73l.15 0l.15 .73l.15 0l.16-.73l.15 .73l.15 .73l.15 0l.15 0l.15 0l.15 0l.15 .73l.15 0l.16 0l.15 0l.15 .73l.15 0l.15 .73l.15-.73l.15 0l.15 .73l.15-.73l.15 .73l.16 0l.15 0l.15 0l.15 0l.15 .73l.7-11.31l.15 1.09l.15 0l.15 .73l.15 0l.16 0l.15 .73l.15 0l.15 .73l.15 .73l.15 .73l.15-.73l.15 .73l.15 0l.16 .73l.15 0l.15 .73l.15 0l.15 0l.15 .73l.15 0l.15 0l.15 .73l.16 0l.15 0l.15 .73l.15 0l.15 0l.15 0l.15 0l.15 .73l.15 0l.16 0l.15 0l.15 0l.15 .73l.15 0l.15 0l.15 0l.15 .73l.15-.73l.16 .73l.15 .73l.15-.73l.15 0l.15 0l.7-10.75l.15 .53l.15 0l.15 .73l.15 .73l.15 0l.15 .73l.15 0l.15 .73l.15 0l.15 .73l.15 .73l.15 0l.15 0l.15 0l.15 1.46l.15 0l.15 0l.15 0l.15 .73l.15 0l.15 0l.15 0l.15 .73l.15 .73l.15 0l.15-.73l.15 1.46l.15 0l.15 0l.15 .73l.15 0l.15-.73l.15 0l.15 .73l.15 0l.15 .73l.15 0l.15-.73l.15 .73l.15 0l.15 .73l.15 0l.15-.73l.15 .73l.15-.73l.15 .73l.15 .73l.15 0l.7-10.71l.15 .49l.15 0l.16 .73l.15 0l.15 .73l.15 0l.15 .73l.16 0l.15 .73l.15-.73l.15 .73l.15 .73l.16 .73l.15 0l.15-.73l.15 0l.16 .73l.15 .73l.15 0l.15 0l.15 0l.16 0l.15 .73l.15 0l.15 0l.15 0l.16 1.46l.15-.73l.15 0l.15 0l.15 .73l.16 0l.15-.73l.15 .73l.15 0l.16 0l.15 0l.15 .73l.15-.73l.15 .73l.16 .73l.15 0l.15 0l.15 0l.15-.73l.16 1.46l.15-.73l.15 0l.7-10.23l.15 .74l.15 0l.16 .73l.15 .73l.15 0l.15 .73l.16 .73l.15 0l.15 0l.15 .73l.16 0l.15 0l.15 .73l.15 .73l.15 0l.16 .73l.15 0l.15 0l.15 .73l.16-.73l.15 .73l.15 0l.15 .73l.16 0l.15 0l.15 .73l.15 .73l.16-.73l.15 0l.15 .73l.15 0l.15 0l.16 0l.15 0l.15 0l.15 .73l.16 .73l.15-.73l.15 .73l.15-.73l.16 .73l.15-.73l.15 .73l.7-11.38l.15-.3l.15 .73l.15 0l.15 .73l.15 .73l.15 0l.15 0l.15 .73l.15 0l.15 .73l.15 0l.15 0l.15 .73l.15 0l.15 .73l.15 0l.15 .73l.15 0l.15 0l.15-.73l.15 .73l.15 .73l.15-.73l.15 .73l.15 .73l.15 0l.15-.73l.15 .73l.15-.73l.15 .73l.15 .73l.15 0l.15 0l.15 .73l.15-.73l.15 .73l.15 0l.15 0l.15 0l.15 0l.15 0l.15 0l.15 1.46l.15-.73l.15 0l.15 0l.15 .73l.15-.73l.15 0l.15 .73l.15 0l.15 0l.15 0l.15 0l.15 0l.15 .73l.15-.73l.15 .73l.15 0l.15 0l.15 0l.15 0l.7-10.06l.15 .57l.15 0l.15 .73l.15 0l.16 .73l.15 .73l.15 0l.15 .73l.15 0l.15 0l.15 .73l.15 0l.15 .73l.16 0l.15 0l.15 .73l.15 0l.15 .73l.15 0l.15 0l.15 .73l.15 0l.16 0l.15 .73l.15 0l.15 0l.15 0l.15 .73l.15 0l.15 0l.15 0l.16 0l.15 .73l.15 0l.15 0l.15 0l.15 0l.15 0l.15 0l.15 .73l.16 0l.15 0l.15 0l.15 0l.15 0l.7-10.21l.15-.01l.15 .73l.16 .73l.15 .73l.15 0l.15 .73l.15 0l.16 0l.15 .73l.15 .73l.15 0l.15 0l.16 0l.15 .73l.15 0l.15 .73l.15 0l.16 .73l.15 0l.15 0l.15 .73l.15 0l.16 0l.15 0l.15 .73l.15 0l.16 0l.15 .73l.15 0l.15 0l.15 0l.16 0l.15 .73l.15 0l.15 0l.15 .73l.16-.73l.15 .73l.15 0l.15 0l.15 0l.16 0l.15 .73l.15-.73l.15 .73l.15 0l.16 0l.15 .73l.15-.73l.7-10.52l.15 .3l.15 .73l.15 0l.15 .73l.15 0l.16 .73l.15 0l.15 0l.15 .73l.15 0l.15 0l.15 0l.15 1.46l.15 0l.15 0l.16 0l.15 .73l.15 0l.15 0l.15 0l.15 0l.15 .73l.15 .73l.15-.73l.15 .73l.15 0l.16 0l.15 0l.15 0l.15 .73l.15 0l.15 0l.15 0l.15 0l.15 .73l.15 0l.15 .73l.16-.73l.15 .73l.15 0l.15-.73l.15 .73l.15 0l.15 0l.15 0l.15 .73l.15-.73l.16 .73l.15 0l.15 0l.15 0l.15 0l.15 .73l.7-10.98l.15 .03l.16 .73l.15 .73l.15 .73l.16 0l.15 0l.16 .73l.15 .73l.15 .73l.16 0l.15 0l.15 .73l.16 0l.15 .73l.15 0l.16 0l.15 .73l.15 .73l.16 0l.15 0l.16 0l.15 0l.15 .73l.16 0l.15 .73l.15 0l.16 0l.15 0l.15 0l.16 .73l.15-.73l.15 .73l.16 0l.15 0l.16 0l.15 1.46l.15-.73l.16 0l.15 .73l.15 0l.16 0l.15 0l.7-11.21l.15 .26l.15 .73l.16 .73l.15 .73l.15 0l.15 0l.16 .73l.15 0l.15 .73l.15 0l.16 .73l.15 .73l.15 0l.15 0l.15 .73l.16 0l.15 .73l.15 0l.15 0l.16 0l.15 .73l.15-.73l.15 .73l.16 .73l.15 0l.15 0l.15 .73l.16 0l.15 0l.15 0l.15 0l.15 .73l.16 0l.15 0l.15 0l.15 0l.16 .73l.15-.73l.15 .73l.15 0l.16 0l.15 0l.15 .73l.7-11.24l.15 .29l.15 1.46l.15 .73l.15-.73l.16 .73l.15 0l.15 0l.15 1.46l.15 0l.15 .73l.15 0l.15 0l.16 .73l.15 0l.15 0l.15 .73l.15 0l.15 .73l.15 .73l.15 0l.16 0l.15 0l.15-.73l.15 1.46l.15 0l.15 0l.15 0l.15 .73l.16-.73l.15 .73l.15 0l.15 0l.15 0l.15 0l.15 .73l.15 0l.16 0l.15 0l.15 .73l.15-.73l.15 0l.7-9.13l.15 .37l.16 .73l.15 .73l.15 .73l.15 0l.16 .73l.15 0l.15 1.46l.15 0l.16 0l.15 .73l.15 0l.16 .73l.15-.73l.15 .73l.15 .73l.16 0l.15 0l.15 0l.16 .73l.15 .73l.15 0l.15-.73l.16 .73l.15 0l.15 .73l.16 0l.15 0l.15 0l.15 0l.16 0l.15 .73l.15 .73l.15-.73l.16 0l.15 .73l.7-11.82l.15 .87l.16 0l.15 1.46l.16 .73l.15 0l.16 0l.15 .73l.16 1.46l.15 0l.16 0l.15 0l.16 1.46l.15 .73l.16 0l.15-.73l.16 1.46l.15 0l.15 .73l.16 0l.15 0l.16 .73l.15 0l.16 .73l.15 0l.16 0l.15 0l.16 0l.15 0l.16 .73l.15 0l.16 .73l.15-.73l.7-10.79l.15 .57l.15 .73l.15 .73l.16 0l.15 .73l.15 .73l.15 .73l.15 .73l.15 0l.15 .73l.16 0l.15 .73l.15 0l.15 0l.15 .73l.15 .73l.16 0l.15 .73l.15 0l.15 0l.15 0l.15 0l.15 .73l.16 0l.15 .73l.15 0l.15 .73l.15-.73l.15 .73l.15 0l.16 0l.15 0l.15 .73l.15 0l.7-11.22l.15 .27l.16 .73l.15 .73l.16 .73l.15 .73l.16 .73l.15 0l.16 .73l.15 0l.16 .73l.15 0l.15 .73l.16 0l.15 .73l.16 .73l.15-.73l.16 .73l.15 .73l.16 0l.15 0l.16 .73l.15 0l.15 0l.16 0l.15 0l.16 .73l.15 0l.16 0l.15 .73l.16 0l.15 0l.16 0l.15 0l.7-8.82l.15 .06l.15 1.46l.15 .73l.15 0l.15 .73l.15 0l.15 .73l.15 .73l.15-.73l.15 .73l.15 .73l.15 0l.15 .73l.15 0l.15 .73l.15 0l.15 0l.15 0l.15 .73l.15 0l.15 .73l.15-.73l.15 .73l.15 0l.15 .73l.15-.73l.15 .73l.15 0l.15 .73l.15-.73l.7-8.21l.15 .91l.16 0l.15 .73l.15 .73l.16 0l.15 .73l.16 0l.15 .73l.15 0l.16 .73l.15 0l.15 0l.16 .73l.15 .73l.15 0l.16 0l.15 0l.15 0l.16 .73l.15 0l.16 .73l.15 0l.15 0l.16 0l.15 0l.15 0l.16 .73l.15 0l.7-9.2l.15 .44l.15 .73l.16 .73l.15 .73l.15 .73l.15 0l.15 .73l.16 0l.15 .73l.15 .73l.15 0l.15 .73l.16 0l.15 0l.15 0l.15 .73l.15 .73l.15 0l.16 0l.15 .73l.15-.73l.15 .73l.15 0l.16 .73l.15-.73l.15 .73l.7-9.78l.15 1.02l.15 0l.15 1.46l.15 0l.15 .73l.15 .73l.15 0l.15 0l.15 1.46l.15 0l.15 0l.15 .73l.15 0l.15 0l.15 .73l.15 0l.15 .73l.15 0l.15 .73l.15 0l.15 0l.15 .73l.15-.73l.15 .73l.15 0l.15 0l.15 .73l.7-8.68l.15 .65l.16 .73l.15 .73l.16 .73l.15 .73l.15 0l.16 .73l.15 0l.16 .73l.15 0l.16 .73l.15 .73l.15 0l.16 .73l.15 0l.16 0l.15 0l.16 .73l.15 0l.15 0l.16 0l.15 .73l.16 0l.15 .73l.7-9.97l.15 .48l.15 .73l.16 .73l.15 .73l.15 .73l.15 .73l.15 .73l.16 0l.15 0l.15 .73l.15 .73l.15 .73l.16 0l.15 0l.15 .73l.15 0l.16 0l.15 0l.15 .73l.15 0l.15 0l.16 .73l.15 0l.15 0l.7-10.04l.15 1.28l.15 0l.16 .73l.15 .73l.15 .73l.15 .73l.15 0l.16 .73l.15 .73l.15 0l.15 .73l.16 .73l.15 0l.15 0l.15 .73l.15 .73l.16 0l.15 0l.15 0l.15 .73l.15 0l.16 0l.15 .73l.15 0l.7-10.64l.16 1.15l.15 .73l.15 .73l.16 .73l.16 .73l.15 1.46l.15 0l.16 .73l.16 .73l.15 .73l.15 0l.16 .73l.16 .73l.15-.73l.15 .73l.16 0l.16 .73l.15 0l.15 .73l.16 0l.7-8.91l.15 .88l.15 .73l.16 .73l.15 .73l.15 .73l.15 0l.16 .73l.15 .73l.15 0l.15 .73l.16 0l.15 .73l.15 0l.15 0l.15 .73l.16 .73l.15 0l.15 0l.15 .73l.16 0l.15 .73l.15 0l.7-9.16l.15 .4l.15 .73l.15 .73l.15 .73l.15 .73l.15 0l.15 .73l.15 .73l.15 .73l.15 0l.15 .73l.15 0l.15 0l.15 0l.15 1.46l.15 0l.15 0l.15 .73l.15 0l.15 0l.15 .73l.15-.73l.15 .73l.7-11.04l.16 .82l.15 .73l.16 .73l.16 1.46l.15 .73l.16 0l.16 .73l.15 .73l.16 0l.16 0l.16 .73l.15 .73l.16 0l.16 .73l.15 .73l.16 0l.16 0l.15 .73l.16 0l.16 .73l.15-.73l.16 0l.7-8.81l.15 .78l.15 .73l.15 1.46l.15 0l.15 .73l.15 0l.15 1.46l.15 0l.15 .73l.15 .73l.15 0l.15 .73l.15 0l.15 0l.15 .73l.15 0l.15 .73l.15 0l.15 0l.15 0l.15 .73l.15 .73l.7-10.3l.15 .81l.15 .73l.16 .73l.15 .73l.15 .73l.15 .73l.16 0l.15 .73l.15 0l.15 .73l.15 0l.16 .73l.15 .73l.15 0l.15 0l.16 .73l.15 .73l.15-.73l.15 .73l.16 0l.15 0l.15 .73l.7-10.16l.15 1.4l.15 0l.16 1.46l.15 .73l.15 0l.15 .73l.16 .73l.15 .73l.15 .73l.15 0l.16 .73l.15 0l.15 .73l.15 0l.16 .73l.15 0l.15 0l.15 .73l.16 .73l.15 0l.15 0l.7-9.81l.15 1.05l.15 .73l.16 .73l.15 .73l.15 .73l.15 0l.16 .73l.15 .73l.15 0l.15 1.46l.15 0l.16 0l.15 .73l.15 0l.15 .73l.15 0l.16 0l.15 0l.15 .73l.15 0l.16 0l.15 .73l.15 0l.7-8.85l.15 .82l.15 0l.16 1.46l.15 .73l.15 0l.15 .73l.15 0l.16 .73l.15 0l.15 .73l.15 .73l.15 0l.16 .73l.15 0l.15 0l.15 .73l.16 0l.15 0l.15 0l.15 .73l.15 0l.16 0l.15 .73l.15 0l.7-9.36l.15 .6l.16 .73l.15 .73l.16 .73l.15 .73l.16 0l.15 1.46l.15 0l.16 .73l.15 .73l.16 0l.15 0l.16 .73l.15 0l.16 .73l.15 1.46l.15-.73l.16 0l.15 0l.16 .73l.15 .73l.16 0l.15 0l.7-10.18l.15 .69l.15 0l.16 1.46l.15 .73l.15 .73l.15 0l.15 .73l.16 .73l.15 0l.15 .73l.15 0l.15 .73l.16 0l.15 0l.15 .73l.15 .73l.15 0l.16 0l.15 1.46l.15-.73l.15 0l.15 0l.16 0l.15 .73l.15 0l.7-8.6l.15 1.3l.15 0l.15 0l.15 .73l.15 .73l.15 .73l.15 0l.15 .73l.15 0l.15 .73l.15 0l.15 0l.15 1.46l.15-.73l.15 0l.15 .73l.15 .73l.15 0l.15 0l.15 0l.15 .73l.15 0l.15 0l.15 0l.15 0l.15 0l.7-7.8l.15 1.23l.16 0l.15 .73l.16 .73l.15 0l.15 .73l.16 .73l.15 0l.16 0l.15 .73l.16 0l.15 .73l.15 0l.16 .73l.15 0l.16 .73l.15-.73l.16 .73l.15 .73l.15 0l.16 0l.15 0l.16 .73l.15-.73l.7-9.33l.15 .57l.15 .73l.15 1.46l.15 .73l.15 0l.15 .73l.15 .73l.15 0l.15 1.46l.15-.73l.15 .73l.15 .73l.15 0l.15 .73l.15 .73l.15-.73l.15 .73l.15 0l.15 .73l.15 0l.15 0l.15 0l.7-8.22l.15 .92l.15 .73l.16 .73l.15 .73l.15 0l.16 .73l.15 .73l.15 .73l.15 0l.15 .73l.16 0l.15 .73l.15 .73l.16-.73l.15 .73l.15 0l.15 .73l.15 0l.16 0l.15 .73l.7-10.44l.15 .95l.15 .73l.16 .73l.15 0l.15 .73l.15 .73l.15 1.46l.16 0l.15 0l.15 .73l.15 0l.16 .73l.15 .73l.15 .73l.15-.73l.15 .73l.16 0l.15 .73l.15 .73l.15 0l.15-.73l.16 .73l.15 0l.15 0l.7-7.85l.16 1.28l.15 0l.16 .73l.16 .73l.15 .73l.16 .73l.16 0l.15 .73l.16 0l.16 .73l.16 .73l.15 0l.16 .73l.16 0l.15 .73l.16 0l.16 0l.15 .73l.16 0l.16 0l.15 0l.16 0l.7-9.75l.15 .99l.15 .73l.16 .73l.15 .73l.15 .73l.15 0l.15 .73l.16 1.46l.15 0l.15 0l.15 0l.16 .73l.15 .73l.15 0l.15 .73l.15 .73l.16 0l.15 0l.15 0l.15 .73l.15 0l.16-.73l.15 1.46l.15 0l.7-10.06l.15 1.3l.16 0l.15 1.46l.16 0l.15 .73l.15 0l.16 .73l.15 0l.16 .73l.15 0l.16 1.46l.15 0l.15 0l.16 .73l.15 0l.16 0l.15 0l.16 .73l.15 .73l.15-.73l.16 .73l.15 .73l.16-.73l.15 .73l.7-9.22l.15 .46l.16 1.46l.15 0l.16 .73l.15 .73l.15 0l.16 .73l.15 .73l.16 .73l.15 0l.16 .73l.15 .73l.15-.73l.16 .73l.15 .73l.16 0l.15 0l.16 0l.15 0l.15 .73l.16 0l.15 .73l.16 0l.15 0l.7-9.47l.15 1.44l.15 0l.16 .73l.15 .73l.15 .73l.15 .73l.15 0l.16 0l.15 .73l.15 1.46l.15 0l.15 0l.16 .73l.15 0l.15 .73l.15-.73l.16 .73l.15 .73l.15 0l.15 0l.15 0l.16 .73l.15 0l.15 0l.7-9.37l.15 .61l.15 .73l.15 .73l.15 .73l.15 0l.15 .73l.15 .73l.15 0l.15 .73l.15 .73l.15-.73l.15 .73l.15 .73l.15 0l.15 .73l.15 0l.15 .73l.15-.73l.15 1.46l.15-.73l.15 .73l.15 0l.15 0l.15 0l.15 0l.15 .73l.15 0l.7-8.78l.15 .75l.15 0l.15 .73l.15 1.46l.15 .73l.15 0l.15 .73l.15 0l.15 .73l.15 0l.15 .73l.15 .73l.15 0l.15 0l.15 .73l.15 0l.15 0l.15 0l.15 .73l.15 .73l.15-.73l.15 .73l.15 0l.15 0l.15 .73l.15 0l.7-10l.15 .51l.15 .73l.16 .73l.15 .73l.15 0l.15 .73l.15 .73l.16 .73l.15 0l.15 0l.15 1.46l.15-.73l.16 .73l.15 0l.15 .73l.15 0l.15 .73l.15 .73l.16-.73l.15 .73l.15 0l.15 .73l.15-.73l.16 .73l.15 0l.15 0l.7-9.87l.15 1.11l.15 .73l.15 .73l.15 0l.15 0l.15 .73l.15 .73l.15 .73l.15 .73l.15 0l.15 .73l.15 .73l.15 0l.15 .73l.15-.73l.15 .73l.15 .73l.15 0l.15 0l.15 0l.15 .73l.15 0l.15 .73l.15-.73l.15 .73l.15 0l.15 0l.7-9.57l.15 .08l.16 1.46l.15 .73l.15 0l.16 .73l.15 .73l.16 .73l.15 0l.15 0l.16 .73l.15 0l.15 .73l.16 0l.15 .73l.15 0l.16 0l.15 .73l.15 .73l.16 0l.15 0l.15 0l.16 .73l.15 0l.16 .73l.15-.73l.15 .73l.16 0l.15 0l.7-10.17l.15 .68l.16 .73l.15 0l.15 .73l.16 .73l.15 .73l.15 0l.15 .73l.16 .73l.15 0l.15 .73l.16 0l.15 0l.15 .73l.16 0l.15 .73l.15-.73l.16 1.46l.15-.73l.15 .73l.16 0l.15 .73l.15 0l.16 0l.15 .73l.15 0l.15 0l.16 0l.15 .73l.15 0l.16 0l.15-.73l.7-10.24l.15 .75l.16 .73l.15 .73l.15 .73l.15 0l.16 0l.15 .73l.15 .73l.16 .73l.15 0l.15 .73l.16 0l.15 .73l.15 0l.15 .73l.16 0l.15 .73l.15 0l.16 0l.15 0l.15 .73l.15 .73l.16 0l.15 0l.15 0l.16 0l.15 .73l.15 0l.16 .73l.15 0l.15 0l.15 0l.16 0l.15 .73l.7-10.84l.15 .62l.15 .73l.15 .73l.16 0l.15 .73l.15 .73l.15 .73l.15 0l.15 .73l.15 0l.16 .73l.15 0l.15 0l.15 .73l.15 .73l.15 0l.15 0l.16 .73l.15 0l.15 0l.15 .73l.15 0l.15 0l.15 .73l.16 0l.15 0l.15 0l.15 .73l.15 0l.15 0l.15 0l.16 .73l.15-.73l.15 .73l.15 0l.7-11.45l.15 .5l.16 .73l.15 0l.15 .73l.15 .73l.16 0l.15 .73l.15 0l.15 .73l.16 0l.15 .73l.15 .73l.15 0l.16 0l.15 .73l.15 0l.15 .73l.16 0l.15 0l.15 0l.16 .73l.15 0l.15 .73l.15 0l.16 0l.15 0l.15 0l.15 .73l.16 0l.15 .73l.15 0l.15 0l.16 0l.15 .73l.15-.73l.15 0l.16 .73l.15 0l.7-10.73l.15 .51l.15 .73l.15 0l.15 .73l.15 0l.15 1.46l.15 0l.15 0l.15 .73l.15 0l.15 .73l.15 .73l.15 0l.15 0l.15 .73l.15 .73l.15-.73l.15 .73l.15 0l.15 0l.15 .73l.15 0l.15 .73l.15 0l.15 .73l.15-.73l.15 .73l.15 0l.15 0l.15 .73l.15-.73l.15 .73l.15 0l.15 0l.15 .73l.15 0l.15 0l.15 0l.15 0l.15 .73l.15 0l.15-.73l.7-9.86l.15-.36l.15 .73l.15 .73l.15 .73l.15 .73l.16-.73l.15 0l.15 1.46l.15 0l.15 .73l.15-.73l.15 .73l.15 0l.15 0l.15 .73l.16 .73l.15-.73l.15 .73l.15 0l.15 0l.15 .73l.15 0l.15 0l.15 0l.15 0l.16 .73l.15 0l.15 0l.15 .73l.15 0l.15 0l.15 0l.15 .73l.15 0l.15-.73l.16 1.46l.15-.73l.15 .73l.15 .73l.15-.73l.15 0l.15 0l.15 0l.15 0l.15 .73l.16-.73l.15 .73l.15 0l.15 0l.15 0l.15 .73l.7-10.74l.15 .52l.15 0l.15 0l.16 .73l.15 .73l.15 0l.15 0l.15 .73l.15 0l.16 .73l.15 0l.15 0l.15 0l.15 .73l.15 0l.16 .73l.15 0l.15 0l.15 0l.15 .73l.15 0l.16 .73l.15 0l.15 0l.15-.73l.15 1.46l.15 0l.16 0l.15 0l.15 .73l.15 0l.15-.73l.15 .73l.15 0l.16 0l.15 .73l.15 0l.15 0l.15 0l.15 0l.16 0l.15 0l.15 .73l.15-.73l.15 0l.15 .73l.16 0l.15 0l.15 0l.15 .73l.15 0l.15 0l.16 0l.15 0l.15 0l.15 0l.15 .73l.15-.73l.16 0l.15 .73l.15 0l.15-.73l.7-10.04l.15 .55l.15 0l.16 0l.15 .73l.15 0l.15 .73l.15 0l.16 0l.15 0l.15 .73l.15 0l.16 0l.15 0l.15 .73l.15 0l.15 .73l.16 0l.15 0l.15 0l.15 0l.15 0l.16 .73l.15-.73l.15 .73l.15 0l.15 0l.16 .73l.15 0l.15 0l.15 0l.16 0l.15 .73l.15 0l.15 0l.15 .73l.16-.73l.15 0l.15 0l.15 .73l.15 0l.16 0l.15 .73l.15 0l.15 0l.16 0l.15 0l.15 0l.15 0l.15 .73l.16 0l.15-.73l.15 .73l.15 0l.15 0l.16 0l.15 0l.15 0l.15 .73l.15-.73l.16 .73l.15-.73l.15 .73l.15 0l.16 0l.15 0l.15 0l.15 0l.15 .73l.16 0l.15 0l.15-.73l.7-10.24l.15 .02l.15 .73l.15 0l.16 .73l.15 .73l.15 0l.15 0l.15 0l.15 .73l.15-.73l.15 .73l.16 .73l.15 0l.15 .73l.15 0l.15 0l.15 0l.15 0l.16 .73l.15 0l.15 0l.15 .73l.15 0l.15 0l.15 0l.16 0l.15 .73l.15 0l.15 .73l.15 0l.15 0l.15 .73l.15-.73l.16 .73l.15 0l.15 0l.15 .73l.15-.73l.15 0l.15 .73l.16-.73l.15 .73l.15 0l.15 0l.15 0l.15 .73l.15-.73l.15 0l.16 .73l.15 0l.15 0l.15 .73l.15 0l.15-.73l.15 .73l.16 0l.15 .73l.15-.73l.15 .73l.15 0l.15-.73l.15 .73l.16-.73l.15 .73l.15 0l.15 .73l.15 0l.15 0l.15-.73l.15 .73l.16 0l.15 0l.15-.73l.15 1.46l.7-12.35l.15-.06l.15 .73l.15 0l.15 0l.15 .73l.15 0l.15 0l.15 .73l.15 0l.16 0l.15-.73l.15 .73l.15 .73l.15 0l.15 .73l.15 0l.15-.73l.15 .73l.15 0l.15 0l.15 .73l.15 0l.15 0l.15 .73l.15-.73l.15 .73l.15 0l.15 0l.16 0l.15 .73l.15 0l.15 0l.15 0l.15 0l.15 .73l.15-.73l.15 .73l.15 0l.15 .73l.15-.73l.15 .73l.15 0l.15-.73l.15 .73l.15 0l.15 0l.15 .73l.16 0l.15-.73l.15 0l.15 0l.15 .73l.15 0l.15 0l.15 0l.15 0l.15 0l.15 .73l.15 0l.15-.73l.15 .73l.15 0l.15 0l.15 0l.15 .73l.16-.73l.15 .73l.15-.73l.15 .73l.15 0l.15 0l.15 0l.15 0l.15 0l.15 .73l.15 0l.15-.73l.15 .73l.15 0l.15 0l.15 0l.15 0l.15 0l.15 0l.16 0l.15 0l.15 .73l.15 0l.15-.73l.15 .73l.15-.73l.15 0l.15 .73l.15 0l.7-10.34l.15 .12l.15 0l.15 0l.15 .73l.15 0l.16 0l.15 0l.15 0l.15 .73l.15 0l.15 0l.15 0l.15 0l.15 0l.15 .73l.15-.73l.16 0l.15 .73l.15 0l.15 0l.15 0l.15 0l.15 .73l.15 0l.15 0l.15 0l.15 0l.16 0l.15 .73l.15 0l.15 0l.15 0l.15 0l.15 .73l.15 0l.15-.73l.15 0l.15 0l.16 .73l.15 0l.15 0l.15 0l.15 .73l.15 0l.15 0l.15-.73l.15 .73l.15 0l.15 0l.16 0l.15 0l.15 0l.15 0l.15 .73l.15 0l.15 0l.15-.73l.15 .73l.15 0l.15 .73l.16-.73l.15 .73l.15 0l.15 0l.15 0l.15 0l.15 .73l.15-.73l.15 0l.15 0l.15 .73l.16-.73l.15 .73l.15-.73l.15 0l.15 .73l.15 0l.15 0l.15 0l.15 0l.15 0l.15 .73l.16 0l.15-.73l.15 .73l.15 0l.15 0l.15 .73l.15-.73l.15 0l.15 0l.15-.73l.15 .73l.15 0l.16 0l.15 .73l.15-.73l.15 0l.15 .73l.15 0l.15 0l.15 0l.15 0l.15 0l.15 0l.16 0l.15 0l.15 0l.15 0l.15 .73l.15-.73l.15 0l.15 0l.15 .73l.15 0l.15 0l.16-.73l.15 .73l.15 0l.15 0l.15 0l.15 .73l.15-.73l.15 .73l.15-.73l.15 .73l.15 0l.16 0l.15-.73l.15 .73l.15-.73l.15 1.46l.15-.73l.15 0l.15 0l.15 0l.15 0" stroke="#000" stroke-width="0.65"/>
<path d="M80.6 146.93l.15 1.26l.15 .73l.16 0l.15 1.46l.15-.73l.15 1.46l.15 .73l.15 .73l.16 .73l.15 .73l.15 0l.15 0l.15 .73l.16 0l.15 .73l.15 0l.15 0l.15 .73l.16 .73l.15 0l.15 0l.15 .73l.15 0l.15 0l.16 0l.15 .73l.15-.73M85.4 148.36l.15 .56l.16 .73l.15 .73l.16 .73l.15 0l.15 .73l.16 .73l.15 .73l.15 0l.16 .73l.15 .73l.16 0l.15 0l.15 1.46l.16 0l.15 0l.16 0l.15 .73l.15-.73l.16 .73l.15 0l.15 .73l.16 0l.15 0l.16 .73l.15 0M90.1 147.11l.15 1.08l.15 .73l.16 0l.15 1.46l.15 0l.15 .73l.15 .73l.16 0l.15 1.46l.15 0l.15 .73l.15 0l.15 0l.16 .73l.15 .73l.15 0l.15 0l.15 .73l.16 0l.15 0l.15 .73l.15 0l.15 0l.16 .73l.15-.73l.15 1.46M94.75 148.18l.15 1.47l.15 0l.16 .73l.15 .73l.15 .73l.15 0l.15 0l.16 .73l.15 .73l.15 .73l.15 0l.15 .73l.15 .73l.16 0l.15 0l.15 .73l.15 0l.15-.73l.16 .73l.15 .73l.15 0l.15 0l.15 0l.16 .73l.15 0l.15 0M99.4 147.29l.15 .9l.16 .73l.15 .73l.16 .73l.15 0l.15 .73l.16 .73l.15 0l.15 .73l.16 .73l.15 .73l.16 0l.15 0l.15 1.46l.16 .73l.15-.73l.16 .73l.15 .73l.15-.73l.16 .73l.15-.73l.15 .73l.16 0l.15 .73l.16 0l.15 0M104.1 147.23l.15 .96l.15 0l.16 1.46l.15 .73l.15 1.46l.15 0l.16 .73l.15 .73l.15 .73l.15 0l.15 .73l.16 0l.15 .73l.15 0l.15 .73l.15 .73l.16 .73l.15-.73l.15 0l.15 .73l.16 0l.15 0l.15 .73M108.3 147.18l.16 1.01l.15 .73l.16 1.46l.16 0l.15 .73l.16 .73l.16 .73l.15 0l.16 1.46l.16 0l.15 .73l.16 0l.15 .73l.16 .73l.16 0l.15 .73l.16-.73l.16 .73l.15 0l.16 0l.16 .73l.15 0l.16 .73M112.6 146.57l.15 .89l.15 1.46l.16 0l.15 0l.15 1.46l.15 0l.15 1.46l.16 0l.15 .73l.15 .73l.15 .73l.15 0l.15 .73l.16 0l.15 0l.15 .73l.15 0l.15 .73l.16 0l.15 0l.15 .73l.15 0l.15 0l.16 .73l.15 0l.15 .73M117.25 147.04l.15 .42l.15 1.46l.16 0l.15 .73l.15 .73l.15 .73l.15 .73l.16 0l.15 .73l.15 .73l.15 .73l.15 0l.15 .73l.16 0l.15 0l.15 .73l.15 0l.15 .73l.16 0l.15 0l.15 .73l.15 0l.15 0l.16 .73l.15 0l.15-.73M121.9 146.59l.16 .87l.15 0l.16 .73l.15 1.46l.16 .73l.15 0l.16 .73l.15 .73l.16 .73l.15 0l.16 .73l.15 0l.16 0l.15 .73l.16 .73l.15 0l.16 0l.15 .73l.16 .73l.15 0l.16 0l.15 .73l.16 0l.15 0l.16 0l.15 0l.16 .73l.15 0l.16 0M127.1 147.36l.15 .83l.16 .73l.15 .73l.15 .73l.16 .73l.15 0l.15 .73l.16 0l.15 1.46l.15 0l.16 0l.15 .73l.15 .73l.16 0l.15 0l.16 .73l.15 0l.15 0l.16 .73l.15 .73l.15-.73l.16 .73l.15 0l.15 0l.16 .73l.15 0l.15 .73l.16 0l.15 0M132.25 147.38l.15 .08l.15 1.46l.15 0l.15 .73l.15 0l.15 .73l.15 .73l.15 0l.15 0l.15 .73l.15 .73l.15 0l.15 0l.15 .73l.15 .73l.15 0l.15 0l.15 0l.15 0l.15 0l.15 .73l.15 .73l.15 0l.15 0l.15 .73l.15 0l.15 0l.15 0l.15 0l.15 .73l.15-.73l.15 1.46l.15-.73l.15 0l.15 .73l.15-.73l.15 .73M138.5 148.14l.15 .78l.15 0l.15 .73l.15 .73l.15 .73l.15 0l.15 .73l.15 0l.15 .73l.15 0l.15 .73l.15 0l.15 .73l.15-.73l.15 .73l.15 .73l.15 0l.15 0l.15 0l.15 0l.15 .73l.15 0l.15 0l.15 .73l.15 0l.15 0l.15 .73l.15 .73l.15-.73l.15 0l.15 .73l.15 0l.15-.73l.15 .73l.15 0l.15 .73l.15 0M144.75 147.64l.15 .55l.15 0l.15 .73l.15 .73l.15 .73l.15 0l.15 .73l.15 0l.15 .73l.15 .73l.15 0l.15 0l.15 .73l.15 0l.15 .73l.15 0l.15 0l.15 .73l.15 0l.15 .73l.15 0l.15 0l.15 .73l.15 0l.15 .73l.15 0l.15-.73l.15 0l.15 1.46l.15 0l.15 0l.15 0l.15 0l.15 0l.15 .73l.15-.73l.15 .73M151 147.26l.15 .93l.15 0l.15 .73l.15 .73l.15 0l.15 .73l.15 0l.15 .73l.15 .73l.15 0l.15 .73l.15 0l.15 0l.15 .73l.15 0l.15 .73l.15 0l.15 .73l.15 0l.15 .73l.15 0l.15 0l.15 .73l.15 0l.15 0l.15 0l.15 0l.15 0l.15 .73l.15 0l.15 0l.15 0l.15 0l.15 0l.15 1.46l.15-.73l.15 .73M157.25 147.52l.15 .67l.16 0l.15 1.46l.15 0l.15 .73l.16 0l.15 .73l.15 0l.15 .73l.16 0l.15 .73l.15 0l.15 .73l.16 0l.15 .73l.15 0l.15 0l.16 .73l.15 0l.15 0l.16 .73l.15 0l.15 .73l.15 0l.16 0l.15 0l.15 .73l.15 0l.16 .73l.15-.73l.15 .73l.15 0l.16 0l.15 0l.15 0l.15 0l.16 0l.15 .73M163.75 146.83l.15 .63l.15 0l.15 1.46l.15 0l.15 .73l.15 0l.15 .73l.15 .73l.15 0l.15 .73l.15 0l.15 .73l.15 0l.15 0l.15 .73l.15 0l.15 0l.15 .73l.15 .73l.15 0l.15 .73l.15 0l.15 0l.15 .73l.15-.73l.15 .73l.15 0l.15 0l.15 .73l.15 0l.15 0l.15 0l.15 0l.15 0l.15 .73l.15 0l.15 0l.15 .73l.15 0l.15 .73l.15-1.46M170.6 147.99l.15 .2l.15 0l.15 1.46l.15 0l.16 .73l.15 0l.15 .73l.15 0l.15 .73l.15 0l.15 0l.15 .73l.16 0l.15 .73l.15 0l.15 .73l.15 0l.15-.73l.15 1.46l.15 0l.16 0l.15 0l.15 .73l.15 0l.15 0l.15 0l.15 0l.15 .73l.16-.73l.15 .73l.15 .73l.15 0l.15-.73l.15 .73l.15 0l.15 0l.16 0l.15 0l.15 1.46l.15-.73l.15 0M177.5 147.72l.15 1.2l.16 0l.15 .73l.15 .73l.15 0l.16 0l.15 1.46l.15 0l.15 .73l.16 0l.15 0l.15 .73l.15 0l.16 0l.15 1.46l.15 0l.15 0l.16 .73l.15 0l.15 .73l.16-.73l.15 0l.15 .73l.15 0l.16 0l.15 .73l.15 0l.15 0l.16 0l.15 .73l.15 0l.15 .73l.16-.73l.15 0l.15 0l.15 0l.16 .73l.15 0M184 146.95l.15-.22l.15 1.46l.15 0l.15 .73l.16 .73l.15 0l.15 .73l.15 0l.15 0l.15 .73l.15 .73l.15 .73l.16-.73l.15 .73l.15 .73l.15 0l.15 0l.15 .73l.15 .73l.15 0l.16 0l.15 0l.15 0l.15 .73l.15 0l.15 0l.15 .73l.15 0l.16 0l.15 .73l.15 0l.15 0l.15 0l.15 .73l.15 0l.15 0l.16 0l.15 0l.15-.73l.15 .73l.15 0M190.9 147.47l.15 .72l.15 0l.15 .73l.16 .73l.15 .73l.15 0l.15 0l.15 .73l.15 .73l.15 0l.15 .73l.16 0l.15 0l.15 .73l.15 0l.15 0l.15 .73l.15 0l.15 .73l.16-.73l.15 1.46l.15 0l.15 0l.15 0l.15 0l.15 0l.15 .73l.16 0l.15 0l.15 0l.15 .73l.15 0l.15 0l.15 0l.15 .73l.16 0l.15 0l.15 0l.15 .73M197.5 147.2l.15 .26l.15 .73l.15 .73l.15 .73l.16-.73l.15 .73l.15 .73l.15 0l.15 0l.15 .73l.15 .73l.15-.73l.15 .73l.15 0l.16 .73l.15 .73l.15 0l.15-.73l.15 .73l.15 .73l.15 0l.15 .73l.15 0l.16 0l.15 0l.15 0l.15 .73l.15 .73l.15-.73l.15 0l.15 0l.15 .73l.16 .73l.15-.73l.15 .73l.15-.73l.15 .73l.15 0l.15 0l.15 .73l.15 0l.15 .73l.16-.73l.15 0l.15 0l.15 0l.15 .73M205.3 146.97l.15 .49l.15 0l.15 1.46l.15 0l.16 0l.15 0l.15 .73l.15 .73l.15 0l.15 .73l.15 0l.15 .73l.15 0l.15 .73l.16 0l.15 0l.15 .73l.15 0l.15 0l.15 .73l.15 0l.15 .73l.15 0l.16-.73l.15 .73l.15 .73l.15 0l.15 0l.15 0l.15 0l.15 .73l.15 0l.16 0l.15 0l.15 .73l.15 0l.15 .73l.15-.73l.15 0l.15 .73l.15-.73l.15 .73l.16 0l.15 0l.15 0l.15 0l.15 .73M213.1 147.1l.15 1.09l.15 0l.15 .73l.15 0l.16 0l.15 .73l.15 0l.15 .73l.15 .73l.15 .73l.15-.73l.15 .73l.15 0l.16 .73l.15 0l.15 .73l.15 0l.15 0l.15 .73l.15 0l.15 0l.15 .73l.16 0l.15 0l.15 .73l.15 0l.15 0l.15 0l.15 0l.15 .73l.15 0l.16 0l.15 0l.15 0l.15 .73l.15 0l.15 0l.15 0l.15 .73l.15-.73l.16 .73l.15 .73l.15-.73l.15 0l.15 0M220.6 146.93l.15 .53l.15 0l.15 .73l.15 .73l.15 0l.15 .73l.15 0l.15 .73l.15 0l.15 .73l.15 .73l.15 0l.15 0l.15 0l.15 1.46l.15 0l.15 0l.15 0l.15 .73l.15 0l.15 0l.15 0l.15 .73l.15 .73l.15 0l.15-.73l.15 1.46l.15 0l.15 0l.15 .73l.15 0l.15-.73l.15 0l.15 .73l.15 0l.15 .73l.15 0l.15-.73l.15 .73l.15 0l.15 .73l.15 0l.15-.73l.15 .73l.15-.73l.15 .73l.15 .73l.15 0M228.5 148.43l.15 .49l.15 0l.16 .73l.15 0l.15 .73l.15 0l.15 .73l.16 0l.15 .73l.15-.73l.15 .73l.15 .73l.16 .73l.15 0l.15-.73l.15 0l.16 .73l.15 .73l.15 0l.15 0l.15 0l.16 0l.15 .73l.15 0l.15 0l.15 0l.16 1.46l.15-.73l.15 0l.15 0l.15 .73l.16 0l.15-.73l.15 .73l.15 0l.16 0l.15 0l.15 .73l.15-.73l.15 .73l.16 .73l.15 0l.15 0l.15 0l.15-.73l.16 1.46l.15-.73l.15 0M236.5 147.45l.15 .74l.15 0l.16 .73l.15 .73l.15 0l.15 .73l.16 .73l.15 0l.15 0l.15 .73l.16 0l.15 0l.15 .73l.15 .73l.15 0l.16 .73l.15 0l.15 0l.15 .73l.16-.73l.15 .73l.15 0l.15 .73l.16 0l.15 0l.15 .73l.15 .73l.16-.73l.15 0l.15 .73l.15 0l.15 0l.16 0l.15 0l.15 0l.15 .73l.16 .73l.15-.73l.15 .73l.15-.73l.16 .73l.15-.73l.15 .73M243.75 147.03l.15-.3l.15 .73l.15 0l.15 .73l.15 .73l.15 0l.15 0l.15 .73l.15 0l.15 .73l.15 0l.15 0l.15 .73l.15 0l.15 .73l.15 0l.15 .73l.15 0l.15 0l.15-.73l.15 .73l.15 .73l.15-.73l.15 .73l.15 .73l.15 0l.15-.73l.15 .73l.15-.73l.15 .73l.15 .73l.15 0l.15 0l.15 .73l.15-.73l.15 .73l.15 0l.15 0l.15 0l.15 0l.15 0l.15 0l.15 1.46l.15-.73l.15 0l.15 0l.15 .73l.15-.73l.15 0l.15 .73l.15 0l.15 0l.15 0l.15 0l.15 0l.15 .73l.15-.73l.15 .73l.15 0l.15 0l.15 0l.15 0M253.75 147.62l.15 .57l.15 0l.15 .73l.15 0l.16 .73l.15 .73l.15 0l.15 .73l.15 0l.15 0l.15 .73l.15 0l.15 .73l.16 0l.15 0l.15 .73l.15 0l.15 .73l.15 0l.15 0l.15 .73l.15 0l.16 0l.15 .73l.15 0l.15 0l.15 0l.15 .73l.15 0l.15 0l.15 0l.16 0l.15 .73l.15 0l.15 0l.15 0l.15 0l.15 0l.15 0l.15 .73l.16 0l.15 0l.15 0l.15 0l.15 0M261.25 147.47l.15-.01l.15 .73l.16 .73l.15 .73l.15 0l.15 .73l.15 0l.16 0l.15 .73l.15 .73l.15 0l.15 0l.16 0l.15 .73l.15 0l.15 .73l.15 0l.16 .73l.15 0l.15 0l.15 .73l.15 0l.16 0l.15 0l.15 .73l.15 0l.16 0l.15 .73l.15 0l.15 0l.15 0l.16 0l.15 .73l.15 0l.15 0l.15 .73l.16-.73l.15 .73l.15 0l.15 0l.15 0l.16 0l.15 .73l.15-.73l.15 .73l.15 0l.16 0l.15 .73l.15-.73M269.4 147.89l.15 .3l.15 .73l.15 0l.15 .73l.15 0l.16 .73l.15 0l.15 0l.15 .73l.15 0l.15 0l.15 0l.15 1.46l.15 0l.15 0l.16 0l.15 .73l.15 0l.15 0l.15 0l.15 0l.15 .73l.15 .73l.15-.73l.15 .73l.15 0l.16 0l.15 0l.15 0l.15 .73l.15 0l.15 0l.15 0l.15 0l.15 .73l.15 0l.15 .73l.16-.73l.15 .73l.15 0l.15-.73l.15 .73l.15 0l.15 0l.15 0l.15 .73l.15-.73l.16 .73l.15 0l.15 0l.15 0l.15 0l.15 .73M278.1 147.43l.15 .03l.16 .73l.15 .73l.15 .73l.16 0l.15 0l.16 .73l.15 .73l.15 .73l.16 0l.15 0l.15 .73l.16 0l.15 .73l.15 0l.16 0l.15 .73l.15 .73l.16 0l.15 0l.16 0l.15 0l.15 .73l.16 0l.15 .73l.15 0l.16 0l.15 0l.15 0l.16 .73l.15-.73l.15 .73l.16 0l.15 0l.16 0l.15 1.46l.15-.73l.16 0l.15 .73l.15 0l.16 0l.15 0M285.25 147.2l.15 .26l.15 .73l.16 .73l.15 .73l.15 0l.15 0l.16 .73l.15 0l.15 .73l.15 0l.16 .73l.15 .73l.15 0l.15 0l.15 .73l.16 0l.15 .73l.15 0l.15 0l.16 0l.15 .73l.15-.73l.15 .73l.16 .73l.15 0l.15 0l.15 .73l.16 0l.15 0l.15 0l.15 0l.15 .73l.16 0l.15 0l.15 0l.15 0l.16 .73l.15-.73l.15 .73l.15 0l.16 0l.15 0l.15 .73M292.5 147.17l.15 .29l.15 1.46l.15 .73l.15-.73l.16 .73l.15 0l.15 0l.15 1.46l.15 0l.15 .73l.15 0l.15 0l.16 .73l.15 0l.15 0l.15 .73l.15 0l.15 .73l.15 .73l.15 0l.16 0l.15 0l.15-.73l.15 1.46l.15 0l.15 0l.15 0l.15 .73l.16-.73l.15 .73l.15 0l.15 0l.15 0l.15 0l.15 .73l.15 0l.16 0l.15 0l.15 .73l.15-.73l.15 0M299.4 147.82l.15 .37l.16 .73l.15 .73l.15 .73l.15 0l.16 .73l.15 0l.15 1.46l.15 0l.16 0l.15 .73l.15 0l.16 .73l.15-.73l.15 .73l.15 .73l.16 0l.15 0l.15 0l.16 .73l.15 .73l.15 0l.15-.73l.16 .73l.15 0l.15 .73l.16 0l.15 0l.15 0l.15 0l.16 0l.15 .73l.15 .73l.15-.73l.16 0l.15 .73M305.6 146.59l.15 .87l.16 0l.15 1.46l.16 .73l.15 0l.16 0l.15 .73l.16 1.46l.15 0l.16 0l.15 0l.16 1.46l.15 .73l.16 0l.15-.73l.16 1.46l.15 0l.15 .73l.16 0l.15 0l.16 .73l.15 0l.16 .73l.15 0l.16 0l.15 0l.16 0l.15 0l.16 .73l.15 0l.16 .73l.15-.73M311.25 146.89l.15 .57l.15 .73l.15 .73l.16 0l.15 .73l.15 .73l.15 .73l.15 .73l.15 0l.15 .73l.16 0l.15 .73l.15 0l.15 0l.15 .73l.15 .73l.16 0l.15 .73l.15 0l.15 0l.15 0l.15 0l.15 .73l.16 0l.15 .73l.15 0l.15 .73l.15-.73l.15 .73l.15 0l.16 0l.15 0l.15 .73l.15 0M317.1 147.19l.15 .27l.16 .73l.15 .73l.16 .73l.15 .73l.16 .73l.15 0l.16 .73l.15 0l.16 .73l.15 0l.15 .73l.16 0l.15 .73l.16 .73l.15-.73l.16 .73l.15 .73l.16 0l.15 0l.16 .73l.15 0l.15 0l.16 0l.15 0l.16 .73l.15 0l.16 0l.15 .73l.16 0l.15 0l.16 0l.15 0M322.9 148.86l.15 .06l.15 1.46l.15 .73l.15 0l.15 .73l.15 0l.15 .73l.15 .73l.15-.73l.15 .73l.15 .73l.15 0l.15 .73l.15 0l.15 .73l.15 0l.15 0l.15 0l.15 .73l.15 0l.15 .73l.15-.73l.15 .73l.15 0l.15 .73l.15-.73l.15 .73l.15 0l.15 .73l.15-.73M328.1 149.47l.15 .91l.16 0l.15 .73l.15 .73l.16 0l.15 .73l.16 0l.15 .73l.15 0l.16 .73l.15 0l.15 0l.16 .73l.15 .73l.15 0l.16 0l.15 0l.15 0l.16 .73l.15 0l.16 .73l.15 0l.15 0l.16 0l.15 0l.15 0l.16 .73l.15 0M333.1 148.48l.15 .44l.15 .73l.16 .73l.15 .73l.15 .73l.15 0l.15 .73l.16 0l.15 .73l.15 .73l.15 0l.15 .73l.16 0l.15 0l.15 0l.15 .73l.15 .73l.15 0l.16 0l.15 .73l.15-.73l.15 .73l.15 0l.16 .73l.15-.73l.15 .73M337.75 147.9l.15 1.02l.15 0l.15 1.46l.15 0l.15 .73l.15 .73l.15 0l.15 0l.15 1.46l.15 0l.15 0l.15 .73l.15 0l.15 0l.15 .73l.15 0l.15 .73l.15 0l.15 .73l.15 0l.15 0l.15 .73l.15-.73l.15 .73l.15 0l.15 0l.15 .73M342.5 149l.15 .65l.16 .73l.15 .73l.16 .73l.15 .73l.15 0l.16 .73l.15 0l.16 .73l.15 0l.16 .73l.15 .73l.15 0l.16 .73l.15 0l.16 0l.15 0l.16 .73l.15 0l.15 0l.16 0l.15 .73l.16 0l.15 .73M346.9 148.44l.15 .48l.15 .73l.16 .73l.15 .73l.15 .73l.15 .73l.15 .73l.16 0l.15 0l.15 .73l.15 .73l.15 .73l.16 0l.15 0l.15 .73l.15 0l.16 0l.15 0l.15 .73l.15 0l.15 0l.16 .73l.15 0l.15 0M351.25 147.64l.15 1.28l.15 0l.16 .73l.15 .73l.15 .73l.15 .73l.15 0l.16 .73l.15 .73l.15 0l.15 .73l.16 .73l.15 0l.15 0l.15 .73l.15 .73l.16 0l.15 0l.15 0l.15 .73l.15 0l.16 0l.15 .73l.15 0M355.6 147.04l.16 1.15l.15 .73l.15 .73l.16 .73l.16 .73l.15 1.46l.15 0l.16 .73l.16 .73l.15 .73l.15 0l.16 .73l.16 .73l.15-.73l.15 .73l.16 0l.16 .73l.15 0l.15 .73l.16 0M359.4 148.77l.15 .88l.15 .73l.16 .73l.15 .73l.15 .73l.15 0l.16 .73l.15 .73l.15 0l.15 .73l.16 0l.15 .73l.15 0l.15 0l.15 .73l.16 .73l.15 0l.15 0l.15 .73l.16 0l.15 .73l.15 0M363.45 149.25l.15 .4l.15 .73l.15 .73l.15 .73l.15 .73l.15 0l.15 .73l.15 .73l.15 .73l.15 0l.15 .73l.15 0l.15 0l.15 0l.15 1.46l.15 0l.15 0l.15 .73l.15 0l.15 0l.15 .73l.15-.73l.15 .73M367.6 147.37l.16 .82l.15 .73l.16 .73l.16 1.46l.15 .73l.16 0l.16 .73l.15 .73l.16 0l.16 0l.16 .73l.15 .73l.16 0l.16 .73l.15 .73l.16 0l.16 0l.15 .73l.16 0l.16 .73l.15-.73l.16 0M371.75 148.14l.15 .78l.15 .73l.15 1.46l.15 0l.15 .73l.15 0l.15 1.46l.15 0l.15 .73l.15 .73l.15 0l.15 .73l.15 0l.15 0l.15 .73l.15 0l.15 .73l.15 0l.15 0l.15 0l.15 .73l.15 .73M375.75 148.11l.15 .81l.15 .73l.16 .73l.15 .73l.15 .73l.15 .73l.16 0l.15 .73l.15 0l.15 .73l.15 0l.16 .73l.15 .73l.15 0l.15 0l.16 .73l.15 .73l.15-.73l.15 .73l.16 0l.15 0l.15 .73M379.8 147.52l.15 1.4l.15 0l.16 1.46l.15 .73l.15 0l.15 .73l.16 .73l.15 .73l.15 .73l.15 0l.16 .73l.15 0l.15 .73l.15 0l.16 .73l.15 0l.15 0l.15 .73l.16 .73l.15 0l.15 0M383.7 147.87l.15 1.05l.15 .73l.16 .73l.15 .73l.15 .73l.15 0l.16 .73l.15 .73l.15 0l.15 1.46l.15 0l.16 0l.15 .73l.15 0l.15 .73l.15 0l.16 0l.15 0l.15 .73l.15 0l.16 0l.15 .73l.15 0M387.9 148.83l.15 .82l.15 0l.16 1.46l.15 .73l.15 0l.15 .73l.15 0l.16 .73l.15 0l.15 .73l.15 .73l.15 0l.16 .73l.15 0l.15 0l.15 .73l.16 0l.15 0l.15 0l.15 .73l.15 0l.16 0l.15 .73l.15 0M392.25 148.32l.15 .6l.16 .73l.15 .73l.16 .73l.15 .73l.16 0l.15 1.46l.15 0l.16 .73l.15 .73l.16 0l.15 0l.16 .73l.15 0l.16 .73l.15 1.46l.15-.73l.16 0l.15 0l.16 .73l.15 .73l.16 0l.15 0M396.5 148.23l.15 .69l.15 0l.16 1.46l.15 .73l.15 .73l.15 0l.15 .73l.16 .73l.15 0l.15 .73l.15 0l.15 .73l.16 0l.15 0l.15 .73l.15 .73l.15 0l.16 0l.15 1.46l.15-.73l.15 0l.15 0l.16 0l.15 .73l.15 0M401 149.08l.15 1.3l.15 0l.15 0l.15 .73l.15 .73l.15 .73l.15 0l.15 .73l.15 0l.15 .73l.15 0l.15 0l.15 1.46l.15-.73l.15 0l.15 .73l.15 .73l.15 0l.15 0l.15 0l.15 .73l.15 0l.15 0l.15 0l.15 0l.15 0M405.6 149.15l.15 1.23l.16 0l.15 .73l.16 .73l.15 0l.15 .73l.16 .73l.15 0l.16 0l.15 .73l.16 0l.15 .73l.15 0l.16 .73l.15 0l.16 .73l.15-.73l.16 .73l.15 .73l.15 0l.16 0l.15 0l.16 .73l.15-.73M410 147.62l.15 .57l.15 .73l.15 1.46l.15 .73l.15 0l.15 .73l.15 .73l.15 0l.15 1.46l.15-.73l.15 .73l.15 .73l.15 0l.15 .73l.15 .73l.15-.73l.15 .73l.15 0l.15 .73l.15 0l.15 0l.15 0M414 148.73l.15 .92l.15 .73l.16 .73l.15 .73l.15 0l.16 .73l.15 .73l.15 .73l.15 0l.15 .73l.16 0l.15 .73l.15 .73l.16-.73l.15 .73l.15 0l.15 .73l.15 0l.16 0l.15 .73M417.75 147.24l.15 .95l.15 .73l.16 .73l.15 0l.15 .73l.15 .73l.15 1.46l.16 0l.15 0l.15 .73l.15 0l.16 .73l.15 .73l.15 .73l.15-.73l.15 .73l.16 0l.15 .73l.15 .73l.15 0l.15-.73l.16 .73l.15 0l.15 0M422.1 149.1l.16 1.28l.15 0l.16 .73l.16 .73l.15 .73l.16 .73l.16 0l.15 .73l.16 0l.16 .73l.16 .73l.15 0l.16 .73l.16 0l.15 .73l.16 0l.16 0l.15 .73l.16 0l.16 0l.15 0l.16 0M426.25 147.93l.15 .99l.15 .73l.16 .73l.15 .73l.15 .73l.15 0l.15 .73l.16 1.46l.15 0l.15 0l.15 0l.16 .73l.15 .73l.15 0l.15 .73l.15 .73l.16 0l.15 0l.15 0l.15 .73l.15 0l.16-.73l.15 1.46l.15 0M430.6 148.35l.15 1.3l.16 0l.15 1.46l.16 0l.15 .73l.15 0l.16 .73l.15 0l.16 .73l.15 0l.16 1.46l.15 0l.15 0l.16 .73l.15 0l.16 0l.15 0l.16 .73l.15 .73l.15-.73l.16 .73l.15 .73l.16-.73l.15 .73M435 148.46l.15 .46l.16 1.46l.15 0l.16 .73l.15 .73l.15 0l.16 .73l.15 .73l.16 .73l.15 0l.16 .73l.15 .73l.15-.73l.16 .73l.15 .73l.16 0l.15 0l.16 0l.15 0l.15 .73l.16 0l.15 .73l.16 0l.15 0M439.4 148.21l.15 1.44l.15 0l.16 .73l.15 .73l.15 .73l.15 .73l.15 0l.16 0l.15 .73l.15 1.46l.15 0l.15 0l.16 .73l.15 0l.15 .73l.15-.73l.16 .73l.15 .73l.15 0l.15 0l.15 0l.16 .73l.15 0l.15 0M443.75 148.31l.15 .61l.15 .73l.15 .73l.15 .73l.15 0l.15 .73l.15 .73l.15 0l.15 .73l.15 .73l.15-.73l.15 .73l.15 .73l.15 0l.15 .73l.15 0l.15 .73l.15-.73l.15 1.46l.15-.73l.15 .73l.15 0l.15 0l.15 0l.15 0l.15 .73l.15 0M448.5 148.9l.15 .75l.15 0l.15 .73l.15 1.46l.15 .73l.15 0l.15 .73l.15 0l.15 .73l.15 0l.15 .73l.15 .73l.15 0l.15 0l.15 .73l.15 0l.15 0l.15 0l.15 .73l.15 .73l.15-.73l.15 .73l.15 0l.15 0l.15 .73l.15 0M453.1 148.41l.15 .51l.15 .73l.16 .73l.15 .73l.15 0l.15 .73l.15 .73l.16 .73l.15 0l.15 0l.15 1.46l.15-.73l.16 .73l.15 0l.15 .73l.15 0l.15 .73l.15 .73l.16-.73l.15 .73l.15 0l.15 .73l.15-.73l.16 .73l.15 0l.15 0M457.75 147.81l.15 1.11l.15 .73l.15 .73l.15 0l.15 0l.15 .73l.15 .73l.15 .73l.15 .73l.15 0l.15 .73l.15 .73l.15 0l.15 .73l.15-.73l.15 .73l.15 .73l.15 0l.15 0l.15 0l.15 .73l.15 0l.15 .73l.15-.73l.15 .73l.15 0l.15 0M462.5 148.11l.15 .08l.16 1.46l.15 .73l.15 0l.16 .73l.15 .73l.16 .73l.15 0l.15 0l.16 .73l.15 0l.15 .73l.16 0l.15 .73l.15 0l.16 0l.15 .73l.15 .73l.16 0l.15 0l.15 0l.16 .73l.15 0l.16 .73l.15-.73l.15 .73l.16 0l.15 0M467.5 147.51l.15 .68l.16 .73l.15 0l.15 .73l.16 .73l.15 .73l.15 0l.15 .73l.16 .73l.15 0l.15 .73l.16 0l.15 0l.15 .73l.16 0l.15 .73l.15-.73l.16 1.46l.15-.73l.15 .73l.16 0l.15 .73l.15 0l.16 0l.15 .73l.15 0l.15 0l.16 0l.15 .73l.15 0l.16 0l.15-.73M473.1 146.71l.15 .75l.16 .73l.15 .73l.15 .73l.15 0l.16 0l.15 .73l.15 .73l.16 .73l.15 0l.15 .73l.16 0l.15 .73l.15 0l.15 .73l.16 0l.15 .73l.15 0l.16 0l.15 0l.15 .73l.15 .73l.16 0l.15 0l.15 0l.16 0l.15 .73l.15 0l.16 .73l.15 0l.15 0l.15 0l.16 0l.15 .73M479 147.57l.15 .62l.15 .73l.15 .73l.16 0l.15 .73l.15 .73l.15 .73l.15 0l.15 .73l.15 0l.16 .73l.15 0l.15 0l.15 .73l.15 .73l.15 0l.15 0l.16 .73l.15 0l.15 0l.15 .73l.15 0l.15 0l.15 .73l.16 0l.15 0l.15 0l.15 .73l.15 0l.15 0l.15 0l.16 .73l.15-.73l.15 .73l.15 0M485 146.96l.15 .5l.16 .73l.15 0l.15 .73l.15 .73l.16 0l.15 .73l.15 0l.15 .73l.16 0l.15 .73l.15 .73l.15 0l.16 0l.15 .73l.15 0l.15 .73l.16 0l.15 0l.15 0l.16 .73l.15 0l.15 .73l.15 0l.16 0l.15 0l.15 0l.15 .73l.16 0l.15 .73l.15 0l.15 0l.16 0l.15 .73l.15-.73l.15 0l.16 .73l.15 0M491.5 146.95l.15 .51l.15 .73l.15 0l.15 .73l.15 0l.15 1.46l.15 0l.15 0l.15 .73l.15 0l.15 .73l.15 .73l.15 0l.15 0l.15 .73l.15 .73l.15-.73l.15 .73l.15 0l.15 0l.15 .73l.15 0l.15 .73l.15 0l.15 .73l.15-.73l.15 .73l.15 0l.15 0l.15 .73l.15-.73l.15 .73l.15 0l.15 0l.15 .73l.15 0l.15 0l.15 0l.15 0l.15 .73l.15 0l.15-.73M498.5 147.82l.15-.36l.15 .73l.15 .73l.15 .73l.15 .73l.16-.73l.15 0l.15 1.46l.15 0l.15 .73l.15-.73l.15 .73l.15 0l.15 0l.15 .73l.16 .73l.15-.73l.15 .73l.15 0l.15 0l.15 .73l.15 0l.15 0l.15 0l.15 0l.16 .73l.15 0l.15 0l.15 .73l.15 0l.15 0l.15 0l.15 .73l.15 0l.15-.73l.16 1.46l.15-.73l.15 .73l.15 .73l.15-.73l.15 0l.15 0l.15 0l.15 0l.15 .73l.16-.73l.15 .73l.15 0l.15 0l.15 0l.15 .73M506.9 147.67l.15 .52l.15 0l.15 0l.16 .73l.15 .73l.15 0l.15 0l.15 .73l.15 0l.16 .73l.15 0l.15 0l.15 0l.15 .73l.15 0l.16 .73l.15 0l.15 0l.15 0l.15 .73l.15 0l.16 .73l.15 0l.15 0l.15-.73l.15 1.46l.15 0l.16 0l.15 0l.15 .73l.15 0l.15-.73l.15 .73l.15 0l.16 0l.15 .73l.15 0l.15 0l.15 0l.15 0l.16 0l.15 0l.15 .73l.15-.73l.15 0l.15 .73l.16 0l.15 0l.15 0l.15 .73l.15 0l.15 0l.16 0l.15 0l.15 0l.15 0l.15 .73l.15-.73l.16 0l.15 .73l.15 0l.15-.73M517 147.64l.15 .55l.15 0l.16 0l.15 .73l.15 0l.15 .73l.15 0l.16 0l.15 0l.15 .73l.15 0l.16 0l.15 0l.15 .73l.15 0l.15 .73l.16 0l.15 0l.15 0l.15 0l.15 0l.16 .73l.15-.73l.15 .73l.15 0l.15 0l.16 .73l.15 0l.15 0l.15 0l.16 0l.15 .73l.15 0l.15 0l.15 .73l.16-.73l.15 0l.15 0l.15 .73l.15 0l.16 0l.15 .73l.15 0l.15 0l.16 0l.15 0l.15 0l.15 0l.15 .73l.16 0l.15-.73l.15 .73l.15 0l.15 0l.16 0l.15 0l.15 0l.15 .73l.15-.73l.16 .73l.15-.73l.15 .73l.15 0l.16 0l.15 0l.15 0l.15 0l.15 .73l.16 0l.15 0l.15-.73M528.5 146.71l.15 .02l.15 .73l.15 0l.16 .73l.15 .73l.15 0l.15 0l.15 0l.15 .73l.15-.73l.15 .73l.16 .73l.15 0l.15 .73l.15 0l.15 0l.15 0l.15 0l.16 .73l.15 0l.15 0l.15 .73l.15 0l.15 0l.15 0l.16 0l.15 .73l.15 0l.15 .73l.15 0l.15 0l.15 .73l.15-.73l.16 .73l.15 0l.15 0l.15 .73l.15-.73l.15 0l.15 .73l.16-.73l.15 .73l.15 0l.15 0l.15 0l.15 .73l.15-.73l.15 0l.16 .73l.15 0l.15 0l.15 .73l.15 0l.15-.73l.15 .73l.16 0l.15 .73l.15-.73l.15 .73l.15 0l.15-.73l.15 .73l.16-.73l.15 .73l.15 0l.15 .73l.15 0l.15 0l.15-.73l.15 .73l.16 0l.15 0l.15-.73l.15 1.46M540.4 146.79l.15-.06l.15 .73l.15 0l.15 0l.15 .73l.15 0l.15 0l.15 .73l.15 0l.16 0l.15-.73l.15 .73l.15 .73l.15 0l.15 .73l.15 0l.15-.73l.15 .73l.15 0l.15 0l.15 .73l.15 0l.15 0l.15 .73l.15-.73l.15 .73l.15 0l.15 0l.16 0l.15 .73l.15 0l.15 0l.15 0l.15 0l.15 .73l.15-.73l.15 .73l.15 0l.15 .73l.15-.73l.15 .73l.15 0l.15-.73l.15 .73l.15 0l.15 0l.15 .73l.16 0l.15-.73l.15 0l.15 0l.15 .73l.15 0l.15 0l.15 0l.15 0l.15 0l.15 .73l.15 0l.15-.73l.15 .73l.15 0l.15 0l.15 0l.15 .73l.16-.73l.15 .73l.15-.73l.15 .73l.15 0l.15 0l.15 0l.15 0l.15 0l.15 .73l.15 0l.15-.73l.15 .73l.15 0l.15 0l.15 0l.15 0l.15 0l.15 0l.16 0l.15 0l.15 .73l.15 0l.15-.73l.15 .73l.15-.73l.15 0l.15 .73l.15 0M555.25 147.34l.15 .12l.15 0l.15 0l.15 .73l.15 0l.16 0l.15 0l.15 0l.15 .73l.15 0l.15 0l.15 0l.15 0l.15 0l.15 .73l.15-.73l.16 0l.15 .73l.15 0l.15 0l.15 0l.15 0l.15 .73l.15 0l.15 0l.15 0l.15 0l.16 0l.15 .73l.15 0l.15 0l.15 0l.15 0l.15 .73l.15 0l.15-.73l.15 0l.15 0l.16 .73l.15 0l.15 0l.15 0l.15 .73l.15 0l.15 0l.15-.73l.15 .73l.15 0l.15 0l.16 0l.15 0l.15 0l.15 0l.15 .73l.15 0l.15 0l.15-.73l.15 .73l.15 0l.15 .73l.16-.73l.15 .73l.15 0l.15 0l.15 0l.15 0l.15 .73l.15-.73l.15 0l.15 0l.15 .73l.16-.73l.15 .73l.15-.73l.15 0l.15 .73l.15 0l.15 0l.15 0l.15 0l.15 0l.15 .73l.16 0l.15-.73l.15 .73l.15 0l.15 0l.15 .73l.15-.73l.15 0l.15 0l.15-.73l.15 .73l.15 0l.16 0l.15 .73l.15-.73l.15 0l.15 .73l.15 0l.15 0l.15 0l.15 0l.15 0l.15 0l.16 0l.15 0l.15 0l.15 0l.15 .73l.15-.73l.15 0l.15 0l.15 .73l.15 0l.15 0l.16-.73l.15 .73l.15 0l.15 0l.15 0l.15 .73l.15-.73l.15 .73l.15-.73l.15 .73l.15 0l.16 0l.15-.73l.15 .73l.15-.73l.15 1.46l.15-.73l.15 0l.15 0l.15 0l.15 0" stroke="#000" stroke-width="0.95" stroke-linecap="round"/>
</g>
<g stroke="#000" stroke-width="1.1">
<line x1="122.50" y1="427.5" x2="122.50" y2="432.4"/>
<line x1="178.50" y1="427.5" x2="178.50" y2="432.4"/>
<line x1="233.50" y1="427.5" x2="233.50" y2="432.4"/>
<line x1="288.50" y1="427.5" x2="288.50" y2="432.4"/>
<line x1="343.50" y1="427.5" x2="343.50" y2="432.4"/>
<line x1="398.50" y1="427.5" x2="398.50" y2="432.4"/>
<line x1="453.50" y1="427.5" x2="453.50" y2="432.4"/>
<line x1="508.50" y1="427.5" x2="508.50" y2="432.4"/>
<line x1="564.50" y1="427.5" x2="564.50" y2="432.4"/>
<line x1="80.5" y1="70.5" x2="75.6" y2="70.5"/>
<line x1="80.5" y1="143.5" x2="75.6" y2="143.5"/>
<line x1="80.5" y1="216.5" x2="75.6" y2="216.5"/>
<line x1="80.5" y1="289.5" x2="75.6" y2="289.5"/>
<line x1="80.5" y1="362.5" x2="75.6" y2="362.5"/>
</g>
<rect x="80.5" y="58.5" width="496" height="369" fill="none" stroke="#000" stroke-width="1.1"/>
<g font-family="'DejaVu Sans','Liberation Sans',sans-serif" fill="#000">
<g font-size="13.89" text-anchor="middle">
<text x="121.60" y="448">05-09 15</text>
<text x="177.60" y="448">05-09 19</text>
<text x="232.60" y="448">05-09 23</text>
<text x="287.60" y="448">05-10 03</text>
<text x="342.60" y="448">05-10 07</text>
<text x="397.60" y="448">05-10 11</text>
<text x="452.60" y="448">05-10 15</text>
<text x="507.60" y="448">05-10 19</text>
<text x="563.60" y="448">05-10 23</text>
<text x="325.9" y="467.5">Date (GMT)</text>
<text transform="translate(43.2 243.4) rotate(-90)" textLength="116.1" lengthAdjust="spacing">Temperature (C)</text>
</g>
<g font-size="13.89" text-anchor="end">
<text x="70.3" y="76">25</text>
<text x="70.3" y="149">20</text>
<text x="70.3" y="222">15</text>
<text x="70.3" y="294">10</text>
<text x="70.3" y="367">5</text>
</g>
<text x="328" y="49.3" font-size="16.67" text-anchor="middle" textLength="228.3" lengthAdjust="spacing">APOLLO TDC Temperatures</text>
<rect x="87.5" y="65.5" width="106" height="128.8" rx="2.8" ry="2.8" fill="#fff" fill-opacity="0.8" stroke="#ccc" stroke-opacity="0.8" stroke-width="1.1"/>
<line x1="93" y1="76.5" x2="120.8" y2="76.5" stroke="#ff0000" stroke-width="0.72"/>
<text x="131.4" y="81.15" font-size="13.89">TDC1</text>
<line x1="93" y1="97.5" x2="120.8" y2="97.5" stroke="#ffa500" stroke-width="0.72"/>
<text x="131.4" y="102.15" font-size="13.89">TDC2</text>
<line x1="93" y1="118.5" x2="120.8" y2="118.5" stroke="#008000" stroke-width="0.72"/>
<text x="131.4" y="123.15" font-size="13.89">TDC3</text>
<line x1="93" y1="139.5" x2="120.8" y2="139.5" stroke="#0000ff" stroke-width="0.72"/>
<text x="131.4" y="144.15" font-size="13.89">TDC4</text>
<line x1="93" y1="160.5" x2="120.8" y2="160.5" stroke="#800080" stroke-width="0.72"/>
<text x="131.4" y="165.15" font-size="13.89">TDC5</text>
<line x1="93" y1="181.5" x2="120.8" y2="181.5" stroke="#000000" stroke-width="0.72"/>
<text x="131.4" y="186.15" font-size="13.89">Utah Air</text>
</g>
</svg>
</body></html>
